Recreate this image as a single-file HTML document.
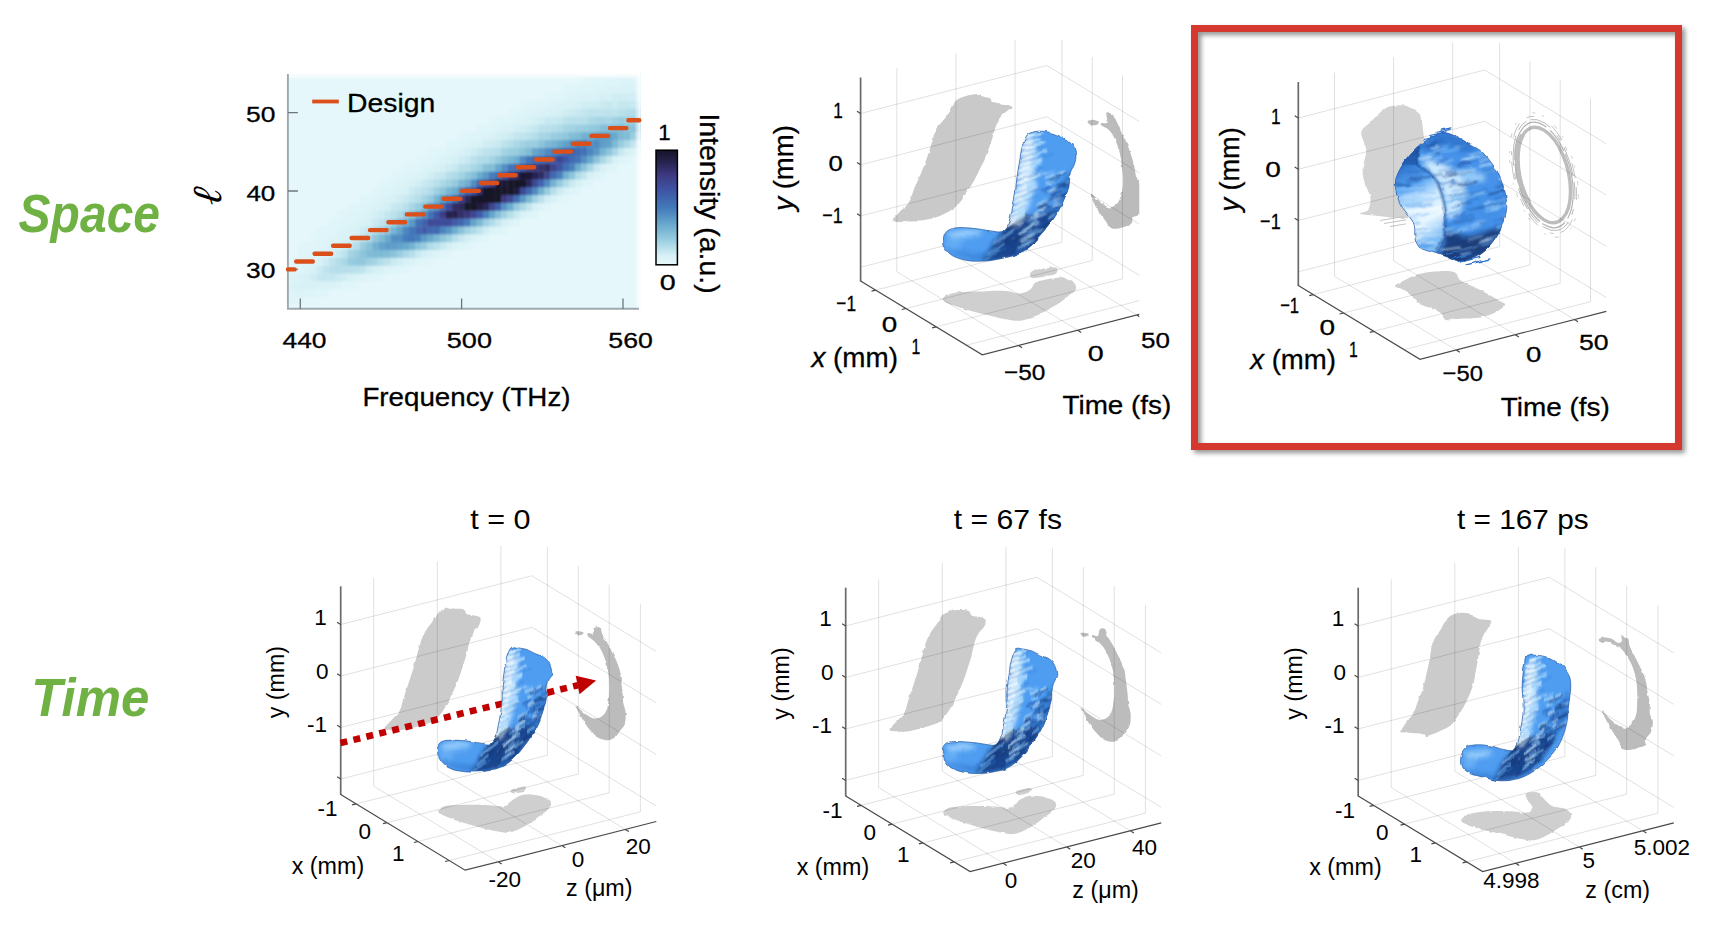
<!DOCTYPE html>
<html lang="en"><head><meta charset="utf-8"><title>Space-time wave packets</title>
<style>
html,body{margin:0;padding:0;background:#fff;}
svg{display:block;font-family:'Liberation Sans', sans-serif;}
</style></head>
<body>
<svg width="1720" height="940" viewBox="0 0 1720 940">
<defs>
<filter id="fsh" x="-5%" y="-5%" width="110%" height="110%"><feGaussianBlur in="SourceAlpha" stdDeviation="2.8"/><feOffset dx="3.4" dy="3.4"/><feComponentTransfer><feFuncA type="linear" slope="0.43"/></feComponentTransfer><feMerge><feMergeNode/><feMergeNode in="SourceGraphic"/></feMerge></filter>
<clipPath id="hclip"><rect x="287.6" y="73.0" width="352.9" height="236.0"/></clipPath>
<filter id="hblur" x="-2%" y="-2%" width="104%" height="104%"><feGaussianBlur stdDeviation="1.1"/></filter>
<linearGradient id="htop" x1="0" y1="0" x2="0" y2="1"><stop offset="0" stop-color="#fff" stop-opacity="1"/><stop offset="1" stop-color="#fff" stop-opacity="0"/></linearGradient>
<linearGradient id="hright" x1="0" y1="0" x2="1" y2="0"><stop offset="0" stop-color="#fff" stop-opacity="0"/><stop offset="1" stop-color="#fff" stop-opacity="0.9"/></linearGradient>
<linearGradient id="cbar" x1="0" y1="1" x2="0" y2="0"><stop offset="0.00" stop-color="rgb(230,248,251)"/><stop offset="0.08" stop-color="rgb(215,241,246)"/><stop offset="0.20" stop-color="rgb(160,210,226)"/><stop offset="0.35" stop-color="rgb(105,170,205)"/><stop offset="0.50" stop-color="rgb(66,120,186)"/><stop offset="0.65" stop-color="rgb(62,85,165)"/><stop offset="0.78" stop-color="rgb(62,58,130)"/><stop offset="0.90" stop-color="rgb(38,34,78)"/><stop offset="1.00" stop-color="rgb(20,18,40)"/></linearGradient>
<clipPath id="clip2"><rect x="780" y="40" width="359.3" height="340"/></clipPath>
<filter id="b1" x="-20%" y="-20%" width="140%" height="140%"><feGaussianBlur stdDeviation="1.1"/></filter>
<filter id="b2" x="-30%" y="-30%" width="160%" height="160%"><feGaussianBlur stdDeviation="2.6"/></filter>
<filter id="b05" x="-20%" y="-20%" width="140%" height="140%"><feGaussianBlur stdDeviation="0.85"/></filter>
<filter id="rough" x="-5%" y="-5%" width="110%" height="110%"><feTurbulence type="fractalNoise" baseFrequency="0.1" numOctaves="2" seed="4" result="n"/><feDisplacementMap in="SourceGraphic" in2="n" scale="3.4" xChannelSelector="R" yChannelSelector="G"/></filter>
<filter id="rough2" x="-5%" y="-5%" width="110%" height="110%"><feTurbulence type="fractalNoise" baseFrequency="0.16" numOctaves="2" seed="9" result="n"/><feDisplacementMap in="SourceGraphic" in2="n" scale="2.6" xChannelSelector="R" yChannelSelector="G"/></filter>
<g id="jf"><g filter="url(#b2)"><path d="M1002.6,232.4C1006.3,227.4 1008.0,220.1 1012.9,217.3C1017.9,214.5 1024.6,217.0 1032.1,215.7C1039.5,214.4 1053.6,208.8 1057.6,209.3C1061.6,209.8 1057.9,215.2 1056.0,218.9C1054.1,222.6 1050.4,226.9 1046.4,231.6C1042.4,236.4 1037.7,243.3 1032.1,247.6C1026.5,251.8 1019.3,254.9 1012.9,257.2C1006.6,259.4 998.8,260.4 993.8,261.1C988.7,261.9 983.2,264.2 982.6,261.9C982.1,259.7 987.3,252.5 990.6,247.6C993.9,242.7 998.8,237.5 1002.6,232.4Z" fill="#173f88" opacity="0.95"/><path d="M1070.4,172.6C1071.9,170.5 1073.3,164.9 1073.5,167.8C1073.8,170.8 1073.3,183.8 1071.9,190.2C1070.6,196.6 1068.0,201.9 1065.6,206.1C1063.2,210.4 1059.7,215.2 1057.6,215.7C1055.5,216.2 1052.5,212.8 1052.8,209.3C1053.1,205.9 1057.3,199.7 1059.2,195.0C1061.0,190.2 1062.1,184.3 1064.0,180.6C1065.8,176.9 1068.8,174.8 1070.4,172.6Z" fill="#2c6fc4" opacity="0.75"/><path d="M945.9,249.2C945.9,249.7 955.8,254.0 961.9,255.6C968.0,257.2 976.8,260.1 982.6,258.8C988.5,257.4 997.0,248.4 997.0,247.6C997.0,246.8 988.5,253.2 982.6,254.0C976.8,254.8 968.0,253.2 961.9,252.4C955.8,251.6 945.9,248.7 945.9,249.2Z" fill="#2f78d0" opacity="0.8"/><ellipse cx="964.3" cy="233.6" rx="18" ry="3.8" fill="#9ad0fc" opacity="0.95" transform="rotate(-3 964.3 233.6)"/><ellipse cx="953.9" cy="242.8" rx="8" ry="6" fill="#6cb2f5" opacity="0.8"/><path d="M1025.7,139.1C1027.6,136.2 1031.8,135.4 1033.7,137.5C1035.5,139.7 1036.6,146.8 1036.9,151.9C1037.1,156.9 1035.5,162.5 1035.3,167.8C1035.0,173.2 1035.8,179.0 1035.3,183.8C1034.7,188.6 1033.4,192.3 1032.1,196.6C1030.7,200.8 1029.4,204.8 1027.3,209.3C1025.2,213.8 1021.7,221.3 1019.3,223.7C1016.9,226.1 1013.5,226.6 1012.9,223.7C1012.4,220.7 1015.2,212.0 1016.1,206.1C1017.1,200.3 1017.9,194.2 1018.5,188.6C1019.2,183.0 1019.4,178.2 1020.1,172.6C1020.8,167.0 1021.6,160.7 1022.5,155.1C1023.4,149.5 1023.8,142.1 1025.7,139.1Z" fill="#c9e9ff" opacity="0.9"/><path d="M1025.7,142.3C1026.8,140.2 1028.9,140.7 1029.7,143.9C1030.5,147.1 1030.6,155.4 1030.5,161.5C1030.3,167.6 1029.7,175.0 1028.9,180.6C1028.1,186.2 1026.9,190.7 1025.7,195.0C1024.5,199.2 1023.2,203.7 1021.7,206.1C1020.2,208.5 1017.3,212.0 1016.9,209.3C1016.5,206.7 1018.6,196.3 1019.3,190.2C1020.0,184.1 1020.6,178.2 1021.2,172.6C1021.9,167.0 1022.6,161.7 1023.3,156.7C1024.0,151.6 1024.6,144.5 1025.7,142.3Z" fill="#f2fbff" opacity="0.75"/></g><g filter="url(#b05)" stroke-linecap="round" fill="none"><path d="M1026.9,137.0l13.7,-4.4" stroke="#c6ebff" stroke-width="2.6" opacity="0.84"/><path d="M1026.9,137.0l6.2,-2.0" stroke="#f2fbff" stroke-width="2.4" opacity="0.92"/><path d="M1026.1,140.0l16.5,-3.7" stroke="#3a84de" stroke-width="0.9" opacity="0.95"/><path d="M1024.1,142.9l15.3,-3.7" stroke="#b9e3ff" stroke-width="3.0" opacity="0.80"/><path d="M1024.1,142.9l6.9,-1.7" stroke="#f2fbff" stroke-width="2.7" opacity="0.83"/><path d="M1024.0,146.3l11.6,-3.7" stroke="#2c72cc" stroke-width="0.9" opacity="0.94"/><path d="M1022.2,148.7l21.7,-5.8" stroke="#c6ebff" stroke-width="2.5" opacity="0.89"/><path d="M1022.2,148.7l9.8,-2.6" stroke="#f2fbff" stroke-width="2.3" opacity="0.98"/><path d="M1022.7,151.8l19.2,-4.9" stroke="#3a84de" stroke-width="1.0" opacity="0.93"/><path d="M1021.1,155.2l13.0,-5.1" stroke="#c6ebff" stroke-width="2.5" opacity="0.84"/><path d="M1021.1,155.2l5.9,-2.3" stroke="#f2fbff" stroke-width="2.2" opacity="0.93"/><path d="M1021.7,157.8l20.1,-6.7" stroke="#2565bb" stroke-width="1.1" opacity="0.80"/><path d="M1020.2,160.4l25.9,-9.5" stroke="#a9dbff" stroke-width="2.2" opacity="0.95"/><path d="M1020.2,160.4l11.6,-4.3" stroke="#f2fbff" stroke-width="2.0" opacity="0.93"/><path d="M1020.8,162.9l31.9,-9.3" stroke="#3a84de" stroke-width="1.1" opacity="0.88"/><path d="M1019.4,165.5l21.8,-6.6" stroke="#b9e3ff" stroke-width="2.5" opacity="0.85"/><path d="M1019.4,165.5l9.8,-3.0" stroke="#f2fbff" stroke-width="2.3" opacity="0.93"/><path d="M1019.9,168.3l15.5,-6.0" stroke="#2c72cc" stroke-width="0.8" opacity="0.81"/><path d="M1018.5,171.1l22.0,-9.5" stroke="#a9dbff" stroke-width="3.1" opacity="0.89"/><path d="M1018.5,171.1l9.9,-4.3" stroke="#f2fbff" stroke-width="2.8" opacity="0.87"/><path d="M1018.9,174.5l24.6,-7.5" stroke="#2c72cc" stroke-width="1.0" opacity="0.72"/><path d="M1017.4,177.5l15.4,-7.2" stroke="#c6ebff" stroke-width="2.7" opacity="0.80"/><path d="M1017.4,177.5l6.9,-3.2" stroke="#f2fbff" stroke-width="2.4" opacity="0.94"/><path d="M1018.0,181.0l20.9,-8.8" stroke="#2c72cc" stroke-width="1.2" opacity="0.79"/><path d="M1016.8,183.8l22.7,-9.1" stroke="#c6ebff" stroke-width="2.9" opacity="0.77"/><path d="M1016.8,183.8l10.2,-4.1" stroke="#f2fbff" stroke-width="2.6" opacity="0.99"/><path d="M1017.4,187.1l25.0,-11.3" stroke="#3a84de" stroke-width="0.9" opacity="0.78"/><path d="M1016.1,190.6l20.2,-8.5" stroke="#a9dbff" stroke-width="2.2" opacity="0.95"/><path d="M1016.1,190.6l9.1,-3.8" stroke="#f2fbff" stroke-width="2.0" opacity="0.86"/><path d="M1016.8,193.3l15.5,-6.5" stroke="#3a84de" stroke-width="1.1" opacity="0.82"/><path d="M1015.2,196.5l21.0,-9.8" stroke="#b9e3ff" stroke-width="3.1" opacity="0.87"/><path d="M1015.2,196.5l9.5,-4.4" stroke="#f2fbff" stroke-width="2.8" opacity="0.99"/><path d="M1015.7,198.8l22.2,-10.5" stroke="#2565bb" stroke-width="1.1" opacity="0.78"/><path d="M1014.2,201.5l15.1,-7.4" stroke="#a9dbff" stroke-width="2.9" opacity="0.91"/><path d="M1014.2,201.5l6.8,-3.3" stroke="#f2fbff" stroke-width="2.6" opacity="0.82"/><path d="M1014.5,204.8l21.8,-8.5" stroke="#2c72cc" stroke-width="1.0" opacity="0.76"/><path d="M1012.9,208.1l11.2,-5.8" stroke="#c6ebff" stroke-width="2.7" opacity="0.77"/><path d="M1012.9,208.1l5.0,-2.6" stroke="#f2fbff" stroke-width="2.5" opacity="0.92"/><path d="M1013.0,211.5l12.7,-5.8" stroke="#2c72cc" stroke-width="0.8" opacity="0.89"/><path d="M1011.3,214.1l10.9,-5.3" stroke="#b9e3ff" stroke-width="3.1" opacity="0.86"/><path d="M1011.3,214.1l4.9,-2.4" stroke="#f2fbff" stroke-width="2.8" opacity="0.84"/><path d="M1011.4,217.3l11.7,-5.2" stroke="#2565bb" stroke-width="1.0" opacity="0.91"/><path d="M1009.7,219.7l14.2,-7.0" stroke="#c6ebff" stroke-width="2.7" opacity="0.91"/><path d="M1009.7,219.7l6.4,-3.1" stroke="#f2fbff" stroke-width="2.4" opacity="0.85"/><path d="M1009.9,222.4l14.1,-7.5" stroke="#2565bb" stroke-width="0.8" opacity="0.80"/><path d="M1007.6,225.0l16.5,-8.8" stroke="#c6ebff" stroke-width="2.9" opacity="0.84"/><path d="M1007.6,225.0l7.4,-3.9" stroke="#f2fbff" stroke-width="2.7" opacity="0.99"/><path d="M1005.9,228.4l21.0,-12.4" stroke="#0c2856" stroke-width="1.2" opacity="0.94"/><path d="M1001.0,234.8l13.8,-8.7" stroke="#0f2f66" stroke-width="1.3" opacity="0.87"/><path d="M996.8,240.5l13.4,-7.1" stroke="#143a7c" stroke-width="0.9" opacity="0.70"/><path d="M994.1,243.5l19.5,-13.2" stroke="#8cc8fa" stroke-width="1.4" opacity="0.97"/><path d="M993.5,246.4l15.8,-8.6" stroke="#0f2f66" stroke-width="0.9" opacity="0.92"/><path d="M990.8,251.3l17.8,-9.5" stroke="#0c2856" stroke-width="1.2" opacity="0.71"/><path d="M988.4,253.9l15.1,-10.1" stroke="#6fb4f3" stroke-width="1.5" opacity="0.96"/><path d="M987.6,257.2l11.3,-6.6" stroke="#0f2f66" stroke-width="0.8" opacity="0.94"/><path d="M984.8,260.5l14.4,-10.5" stroke="#6fb4f3" stroke-width="1.3" opacity="0.88"/><path d="M1030.6,229.8l8.8,-5.0" stroke="#1c4c98" stroke-width="0.9" opacity="0.71"/><path d="M1033.7,234.7l9.0,-5.6" stroke="#7fc0f8" stroke-width="1.4" opacity="0.91"/><path d="M1058.1,174.1l5.3,-2.4" stroke="#bfe6ff" stroke-width="1.9" opacity="0.80"/><path d="M1051.3,196.2l5.1,-2.5" stroke="#173f85" stroke-width="2.0" opacity="0.63"/><path d="M1056.3,206.2l7.3,-3.7" stroke="#1c4c98" stroke-width="1.3" opacity="0.71"/><path d="M1010.7,255.5l11.0,-6.5" stroke="#12336e" stroke-width="1.4" opacity="0.65"/><path d="M1032.5,234.3l8.8,-4.2" stroke="#9fd4fb" stroke-width="1.8" opacity="0.74"/><path d="M1013.6,244.0l7.7,-5.7" stroke="#173f85" stroke-width="1.2" opacity="0.73"/><path d="M1058.4,176.4l6.5,-2.8" stroke="#173f85" stroke-width="1.9" opacity="0.66"/><path d="M1027.2,237.1l4.6,-3.4" stroke="#7fc0f8" stroke-width="1.8" opacity="0.84"/><path d="M1054.6,201.0l6.6,-3.9" stroke="#d8f2ff" stroke-width="1.3" opacity="0.82"/><path d="M999.9,251.6l5.0,-2.8" stroke="#2560b4" stroke-width="1.9" opacity="0.83"/><path d="M1013.4,239.4l9.3,-4.6" stroke="#d8f2ff" stroke-width="1.5" opacity="0.85"/><path d="M1047.2,208.7l5.7,-3.1" stroke="#1c4c98" stroke-width="1.4" opacity="0.63"/><path d="M1040.7,206.1l6.2,-3.6" stroke="#d8f2ff" stroke-width="1.0" opacity="0.85"/><path d="M1011.8,240.7l6.4,-4.3" stroke="#1c4c98" stroke-width="1.3" opacity="0.71"/><path d="M1064.5,180.3l5.3,-2.3" stroke="#1c4c98" stroke-width="1.0" opacity="0.66"/><path d="M1012.0,241.9l9.0,-7.0" stroke="#12336e" stroke-width="1.9" opacity="0.69"/><path d="M1033.8,218.7l11.0,-5.2" stroke="#9fd4fb" stroke-width="1.6" opacity="0.92"/><path d="M1048.3,215.3l7.7,-3.9" stroke="#1c4c98" stroke-width="1.1" opacity="0.84"/><path d="M1047.9,184.0l5.3,-2.1" stroke="#9fd4fb" stroke-width="1.9" opacity="0.85"/><path d="M1020.3,233.8l9.5,-6.8" stroke="#bfe6ff" stroke-width="1.8" opacity="0.92"/><path d="M1020.2,244.2l10.5,-5.5" stroke="#12336e" stroke-width="1.4" opacity="0.69"/><path d="M1059.2,207.6l9.9,-3.9" stroke="#1c4c98" stroke-width="1.3" opacity="0.76"/><path d="M1027.1,229.7l7.4,-4.7" stroke="#173f85" stroke-width="1.7" opacity="0.74"/><path d="M1041.4,216.3l5.5,-2.7" stroke="#173f85" stroke-width="1.6" opacity="0.62"/><path d="M1025.9,234.7l6.6,-4.9" stroke="#9fd4fb" stroke-width="1.3" opacity="0.77"/><path d="M1061.1,196.8l11.9,-3.9" stroke="#12336e" stroke-width="1.8" opacity="0.67"/><path d="M1013.4,244.9l6.6,-4.0" stroke="#1c4c98" stroke-width="1.0" opacity="0.78"/><path d="M1032.0,243.9l11.1,-5.8" stroke="#12336e" stroke-width="0.9" opacity="0.63"/><path d="M1015.8,248.2l6.4,-5.0" stroke="#12336e" stroke-width="1.3" opacity="0.65"/><path d="M1052.5,205.6l5.6,-2.7" stroke="#d8f2ff" stroke-width="1.7" opacity="0.73"/><path d="M1060.5,175.2l5.1,-1.7" stroke="#2560b4" stroke-width="1.4" opacity="0.90"/><path d="M1029.6,245.6l8.5,-6.2" stroke="#173f85" stroke-width="2.0" opacity="0.78"/><path d="M1039.5,208.6l9.1,-3.8" stroke="#173f85" stroke-width="1.8" opacity="0.74"/><path d="M1044.8,173.8l9.4,-2.7" stroke="#7fc0f8" stroke-width="1.8" opacity="0.73"/><path d="M1043.1,211.0l10.0,-6.0" stroke="#173f85" stroke-width="1.6" opacity="0.64"/><path d="M1046.6,201.4l9.7,-5.3" stroke="#2560b4" stroke-width="1.9" opacity="0.73"/><path d="M1047.1,225.7l6.6,-4.2" stroke="#12336e" stroke-width="2.0" opacity="0.73"/><path d="M1056.0,189.0l10.8,-5.2" stroke="#12336e" stroke-width="1.7" opacity="0.71"/><path d="M1041.7,173.2l5.0,-1.2" stroke="#9fd4fb" stroke-width="1.9" opacity="0.79"/><path d="M1035.7,228.8l8.9,-6.3" stroke="#2560b4" stroke-width="1.2" opacity="0.74"/><path d="M1061.3,196.2l10.4,-4.9" stroke="#12336e" stroke-width="1.6" opacity="0.69"/><path d="M1030.8,218.4l7.0,-3.6" stroke="#d8f2ff" stroke-width="1.8" opacity="0.81"/><path d="M1021.6,246.4l10.8,-6.2" stroke="#9fd4fb" stroke-width="1.5" opacity="0.86"/><path d="M1027.8,227.7l10.9,-5.7" stroke="#9fd4fb" stroke-width="1.8" opacity="0.92"/><path d="M1056.1,201.0l4.5,-2.5" stroke="#1c4c98" stroke-width="0.9" opacity="0.87"/><path d="M1038.1,207.5l7.7,-4.0" stroke="#173f85" stroke-width="1.8" opacity="0.77"/><path d="M1030.4,223.9l6.4,-3.9" stroke="#9fd4fb" stroke-width="1.6" opacity="0.78"/><path d="M1046.6,187.9l6.2,-1.9" stroke="#2560b4" stroke-width="1.3" opacity="0.61"/><path d="M1051.4,180.6l5.7,-2.0" stroke="#2560b4" stroke-width="1.8" opacity="0.89"/><path d="M1050.9,209.7l8.1,-3.0" stroke="#173f85" stroke-width="1.2" opacity="0.67"/><path d="M1046.9,183.1l9.9,-5.0" stroke="#9fd4fb" stroke-width="1.1" opacity="0.96"/><path d="M1037.1,205.2l7.0,-4.1" stroke="#9fd4fb" stroke-width="2.0" opacity="0.73"/><path d="M1031.6,238.0l10.1,-6.1" stroke="#2560b4" stroke-width="1.4" opacity="0.73"/><path d="M1063.9,185.4l6.0,-2.8" stroke="#12336e" stroke-width="1.0" opacity="0.78"/><path d="M1025.5,222.3l9.1,-5.3" stroke="#12336e" stroke-width="1.2" opacity="0.70"/><path d="M1042.0,190.1l8.7,-3.7" stroke="#2560b4" stroke-width="1.6" opacity="0.86"/><path d="M1063.5,196.4l6.8,-2.2" stroke="#2560b4" stroke-width="1.0" opacity="0.82"/><path d="M1019.4,242.6l8.0,-5.9" stroke="#1c4c98" stroke-width="1.5" opacity="0.62"/><path d="M1027.4,248.0l4.7,-2.7" stroke="#1c4c98" stroke-width="1.8" opacity="0.71"/><path d="M1022.8,230.0l8.7,-4.2" stroke="#7fc0f8" stroke-width="1.1" opacity="0.72"/><path d="M1054.5,198.9l7.2,-3.3" stroke="#173f85" stroke-width="1.7" opacity="0.73"/><path d="M1050.1,181.1l7.7,-2.3" stroke="#2560b4" stroke-width="1.4" opacity="0.77"/><path d="M1060.0,205.2l11.6,-5.6" stroke="#9fd4fb" stroke-width="1.4" opacity="0.85"/><path d="M1028.0,227.8l7.5,-3.9" stroke="#1c4c98" stroke-width="1.0" opacity="0.62"/><path d="M1018.3,248.2l10.0,-7.2" stroke="#7fc0f8" stroke-width="1.6" opacity="0.89"/><path d="M1063.0,186.6l11.0,-3.6" stroke="#2560b4" stroke-width="1.9" opacity="0.89"/><path d="M1048.2,218.6l6.3,-3.9" stroke="#7fc0f8" stroke-width="1.9" opacity="0.89"/><path d="M1021.2,240.7l10.6,-5.4" stroke="#bfe6ff" stroke-width="1.7" opacity="0.92"/><path d="M1017.8,239.4l5.8,-3.9" stroke="#1c4c98" stroke-width="1.9" opacity="0.67"/><path d="M1054.4,189.1l5.8,-2.7" stroke="#173f85" stroke-width="1.1" opacity="0.66"/><path d="M1042.6,227.8l4.7,-2.8" stroke="#12336e" stroke-width="1.8" opacity="0.61"/><path d="M1066.1,183.3l7.1,-3.1" stroke="#9fd4fb" stroke-width="1.1" opacity="0.96"/><path d="M1016.6,252.1l8.1,-4.6" stroke="#2560b4" stroke-width="2.0" opacity="0.88"/><path d="M1027.2,221.4l7.6,-3.6" stroke="#7fc0f8" stroke-width="1.3" opacity="0.91"/><path d="M1039.5,205.5l8.2,-4.7" stroke="#173f85" stroke-width="1.3" opacity="0.76"/><path d="M1038.6,203.6l9.1,-3.8" stroke="#9fd4fb" stroke-width="1.7" opacity="0.74"/><path d="M1032.2,232.9l5.9,-3.9" stroke="#7fc0f8" stroke-width="1.1" opacity="0.83"/><path d="M1069.5,179.1l10.5,-3.4" stroke="#1c4c98" stroke-width="1.1" opacity="0.70"/><path d="M1057.1,185.2l6.7,-2.4" stroke="#12336e" stroke-width="1.5" opacity="0.82"/><path d="M1034.4,233.2l9.7,-6.0" stroke="#12336e" stroke-width="1.2" opacity="0.65"/><path d="M1046.7,193.6l8.8,-3.5" stroke="#1c4c98" stroke-width="2.0" opacity="0.65"/><path d="M1032.6,237.9l7.6,-5.5" stroke="#173f85" stroke-width="1.6" opacity="0.68"/><path d="M1049.9,178.8l9.5,-3.1" stroke="#12336e" stroke-width="1.5" opacity="0.68"/><path d="M1060.6,205.7l7.9,-3.2" stroke="#173f85" stroke-width="1.6" opacity="0.73"/><path d="M1048.6,192.4l7.3,-3.9" stroke="#d8f2ff" stroke-width="1.5" opacity="0.87"/><path d="M1013.4,240.1l8.9,-5.3" stroke="#12336e" stroke-width="1.7" opacity="0.79"/><path d="M1060.4,186.4l8.5,-3.5" stroke="#173f85" stroke-width="1.2" opacity="0.73"/><path d="M1034.0,214.1l10.7,-6.2" stroke="#d8f2ff" stroke-width="1.4" opacity="0.89"/><path d="M1025.7,229.8l8.6,-5.9" stroke="#d8f2ff" stroke-width="1.2" opacity="0.86"/><path d="M1045.5,177.6l8.6,-2.8" stroke="#bfe6ff" stroke-width="2.0" opacity="0.81"/><path d="M1048.7,200.6l7.9,-3.1" stroke="#2560b4" stroke-width="1.3" opacity="0.69"/><path d="M1054.9,193.7l6.5,-2.8" stroke="#12336e" stroke-width="1.3" opacity="0.89"/><path d="M1043.8,192.2l5.2,-2.6" stroke="#2560b4" stroke-width="1.1" opacity="0.73"/></g></g>
<clipPath id="bc2"><path d="M1028.9,133.6C1031.1,132.2 1034.7,131.3 1038.5,131.2C1042.2,131.0 1047.0,131.6 1051.2,132.8C1055.5,134.0 1060.4,136.2 1064.0,138.3C1067.6,140.5 1070.7,142.7 1072.7,145.5C1074.7,148.3 1075.7,151.9 1075.9,155.1C1076.2,158.3 1075.3,161.7 1074.3,164.7C1073.4,167.6 1071.3,168.9 1070.4,172.6C1069.4,176.4 1069.8,182.5 1068.8,187.0C1067.7,191.5 1065.8,195.5 1064.0,199.7C1062.1,204.0 1060.2,208.0 1057.6,212.5C1054.9,217.0 1051.2,222.6 1048.0,226.9C1044.8,231.1 1041.6,234.6 1038.5,238.0C1035.3,241.5 1032.6,244.8 1028.9,247.6C1025.2,250.4 1020.9,252.9 1016.1,254.8C1011.3,256.6 1005.5,257.7 1000.2,258.8C994.9,259.8 989.8,260.9 984.2,261.1C978.6,261.4 972.0,261.3 966.7,260.4C961.4,259.4 955.9,257.7 952.3,255.6C948.7,253.4 946.6,250.5 945.2,247.6C943.7,244.7 943.2,240.8 943.6,238.0C944.0,235.2 945.3,232.6 947.5,230.8C949.8,229.1 952.6,228.1 957.1,227.7C961.6,227.3 969.1,227.9 974.7,228.5C980.2,229.0 986.1,230.3 990.6,230.8C995.1,231.4 998.8,232.8 1001.8,231.6C1004.7,230.4 1006.4,227.4 1008.1,223.7C1009.9,219.9 1010.9,214.4 1012.1,209.3C1013.3,204.3 1014.5,198.7 1015.3,193.4C1016.1,188.0 1016.3,182.5 1016.9,177.4C1017.6,172.4 1018.5,167.8 1019.3,163.1C1020.1,158.3 1020.8,152.7 1021.7,148.7C1022.6,144.7 1023.7,141.7 1024.9,139.1C1026.1,136.6 1026.6,134.9 1028.9,133.6Z"/></clipPath>
<clipPath id="bc3"><path d="M1443.8,132.8C1447.8,132.6 1450.8,134.2 1455.0,136.0C1459.2,137.8 1464.8,141.2 1469.3,143.9C1473.8,146.6 1478.4,148.7 1482.1,151.9C1485.8,155.1 1488.8,159.1 1491.7,163.1C1494.6,167.1 1497.6,171.3 1499.7,175.8C1501.8,180.3 1503.2,185.4 1504.4,190.2C1505.6,195.0 1506.7,200.1 1506.8,204.6C1506.9,209.1 1506.1,213.3 1505.2,217.3C1504.3,221.3 1503.0,224.8 1501.3,228.5C1499.6,232.2 1497.3,236.2 1494.9,239.7C1492.5,243.1 1490.1,246.3 1486.9,249.2C1483.7,252.1 1480.2,255.1 1475.7,257.2C1471.2,259.3 1464.6,262.0 1459.8,262.0C1455.0,262.0 1451.5,258.8 1447.0,257.2C1442.5,255.6 1437.1,254.0 1432.6,252.4C1428.1,250.8 1422.8,250.0 1419.9,247.6C1417.0,245.2 1416.0,241.8 1415.1,238.1C1414.2,234.4 1415.4,229.0 1414.3,225.3C1413.2,221.6 1411.0,219.1 1408.7,215.7C1406.4,212.2 1402.8,208.6 1400.7,204.6C1398.6,200.6 1396.8,196.1 1396.0,191.8C1395.2,187.5 1395.2,183.0 1396.0,179.0C1396.8,175.0 1398.6,171.6 1400.7,167.9C1402.8,164.2 1405.5,160.4 1408.7,156.7C1411.9,153.0 1416.2,148.7 1419.9,145.5C1423.6,142.3 1427.1,139.6 1431.1,137.5C1435.1,135.4 1439.8,133.1 1443.8,132.8Z"/></clipPath>
<linearGradient id="inner3" x1="0" y1="0" x2="0.25" y2="1"><stop offset="0" stop-color="#153f86"/><stop offset="0.22" stop-color="#2a6fc8"/><stop offset="0.42" stop-color="#5aa6f2"/><stop offset="0.6" stop-color="#cfeaff"/><stop offset="0.8" stop-color="#e9f7ff"/><stop offset="1" stop-color="#7fbdf6"/></linearGradient>
<clipPath id="bc3i"><path d="M1419.5,146.0C1421.3,145.9 1417.7,152.9 1417.5,156.0C1417.3,159.1 1416.6,162.2 1418.3,164.7C1420.0,167.2 1425.0,168.4 1427.9,171.1C1430.8,173.8 1433.7,177.1 1435.8,180.6C1437.9,184.1 1439.3,188.1 1440.6,191.8C1441.9,195.5 1443.0,199.0 1443.8,203.0C1444.6,207.0 1445.3,211.4 1445.4,215.7C1445.5,219.9 1445.0,224.7 1444.6,228.5C1444.2,232.3 1444.4,234.6 1443.0,238.5C1441.6,242.4 1439.8,250.2 1436.0,252.0C1432.2,253.8 1423.7,251.9 1419.9,249.6C1416.1,247.3 1414.4,242.1 1413.1,238.1C1411.8,234.1 1413.4,229.0 1412.3,225.3C1411.2,221.6 1409.0,219.1 1406.7,215.7C1404.4,212.2 1400.8,208.6 1398.7,204.6C1396.6,200.6 1394.8,196.1 1394.0,191.8C1393.2,187.5 1393.2,183.0 1394.0,179.0C1394.8,175.0 1396.6,171.6 1398.7,167.9C1400.8,164.2 1403.2,160.3 1406.7,156.7C1410.2,153.0 1417.7,146.1 1419.5,146.0Z"/></clipPath>
<clipPath id="bc4"><path d="M511.7,647.2C513.6,646.1 516.4,647.6 518.9,648.0C521.4,648.4 524.2,648.6 526.9,649.5C529.5,650.5 532.2,652.3 534.8,653.5C537.5,654.7 540.7,655.5 542.8,656.7C544.9,657.9 546.3,659.0 547.6,660.7C548.9,662.4 550.1,664.8 550.8,667.1C551.4,669.4 552.0,671.9 551.6,674.3C551.2,676.7 549.2,678.9 548.4,681.4C547.6,684.0 547.2,686.2 546.8,689.4C546.4,692.6 546.7,696.9 546.0,700.6C545.3,704.3 544.1,707.8 542.8,711.7C541.5,715.7 539.9,720.5 538.0,724.5C536.2,728.5 534.0,732.0 531.6,735.7C529.3,739.4 526.3,743.4 523.7,746.8C521.0,750.3 518.6,753.5 515.7,756.4C512.8,759.3 509.6,762.3 506.1,764.4C502.7,766.5 498.9,768.0 495.0,769.2C491.0,770.4 486.7,771.1 482.2,771.6C477.7,772.0 472.4,772.3 467.8,772.0C463.3,771.8 458.8,771.0 455.1,770.0C451.4,769.0 448.0,767.7 445.5,766.0C443.0,764.2 441.3,762.0 439.9,759.6C438.6,757.2 437.8,754.0 437.5,751.6C437.3,749.2 437.5,747.0 438.3,745.2C439.1,743.5 440.1,742.1 442.3,741.3C444.6,740.4 448.2,740.2 451.9,740.1C455.6,740.1 460.4,740.4 464.7,740.8C468.9,741.1 473.2,741.9 477.4,742.4C481.7,742.9 487.1,744.8 490.2,743.6C493.2,742.5 494.4,738.6 495.8,735.7C497.1,732.7 497.4,729.8 498.1,726.1C498.9,722.4 499.9,717.6 500.5,713.3C501.2,709.1 501.9,704.8 502.1,700.6C502.4,696.3 501.9,692.1 502.1,687.8C502.4,683.6 503.2,679.1 503.7,675.1C504.3,671.1 504.7,667.4 505.3,663.9C506.0,660.4 506.7,657.1 507.7,654.3C508.8,651.5 509.8,648.2 511.7,647.2Z"/></clipPath>
<clipPath id="bc5"><path d="M1016.7,648.6C1018.6,647.5 1021.4,649.0 1023.9,649.4C1026.4,649.8 1029.2,650.0 1031.9,650.9C1034.5,651.9 1037.2,653.7 1039.8,654.9C1042.5,656.1 1045.7,656.9 1047.8,658.1C1049.9,659.3 1051.3,660.4 1052.6,662.1C1053.9,663.8 1055.1,666.2 1055.8,668.5C1056.4,670.8 1057.0,673.3 1056.6,675.7C1056.2,678.1 1054.2,680.3 1053.4,682.8C1052.6,685.4 1052.2,687.6 1051.8,690.8C1051.4,694.0 1051.7,698.3 1051.0,702.0C1050.3,705.7 1049.1,709.2 1047.8,713.1C1046.5,717.1 1044.9,721.9 1043.0,725.9C1041.2,729.9 1039.0,733.4 1036.6,737.1C1034.3,740.8 1031.3,744.8 1028.7,748.2C1026.0,751.7 1023.6,754.9 1020.7,757.8C1017.8,760.7 1014.6,763.7 1011.1,765.8C1007.7,767.9 1003.9,769.4 1000.0,770.6C996.0,771.8 991.7,772.5 987.2,773.0C982.7,773.4 977.4,773.7 972.8,773.4C968.3,773.2 963.8,772.4 960.1,771.4C956.4,770.4 953.0,769.1 950.5,767.4C948.0,765.6 946.3,763.4 944.9,761.0C943.6,758.6 942.8,755.4 942.5,753.0C942.3,750.6 942.5,748.4 943.3,746.6C944.1,744.9 945.1,743.5 947.3,742.7C949.6,741.8 953.2,741.6 956.9,741.5C960.6,741.5 965.4,741.8 969.7,742.2C973.9,742.5 978.2,743.3 982.4,743.8C986.7,744.3 992.1,746.2 995.2,745.0C998.2,743.9 999.4,740.0 1000.8,737.1C1002.1,734.1 1002.4,731.2 1003.1,727.5C1003.9,723.8 1004.9,719.0 1005.5,714.7C1006.2,710.5 1006.9,706.2 1007.1,702.0C1007.4,697.7 1006.9,693.5 1007.1,689.2C1007.4,685.0 1008.2,680.5 1008.7,676.5C1009.3,672.5 1009.7,668.8 1010.3,665.3C1011.0,661.8 1011.7,658.5 1012.7,655.7C1013.8,652.9 1014.8,649.6 1016.7,648.6Z"/></clipPath>
<clipPath id="bc6"><path d="M1526.1,656.7C1528.0,655.3 1532.2,655.0 1535.7,655.2C1539.1,655.3 1543.4,656.3 1546.9,657.5C1550.3,658.7 1553.5,660.6 1556.4,662.3C1559.4,664.1 1562.3,665.8 1564.4,667.9C1566.5,670.0 1568.1,672.3 1569.2,675.1C1570.2,677.9 1570.6,681.2 1570.8,684.7C1570.9,688.1 1570.4,692.1 1570.0,695.8C1569.6,699.5 1568.8,703.3 1568.4,707.0C1568.0,710.7 1568.1,714.4 1567.6,718.1C1567.1,721.9 1566.3,725.6 1565.2,729.3C1564.1,733.0 1562.9,736.8 1561.2,740.5C1559.5,744.2 1557.2,748.3 1554.8,751.6C1552.4,755.0 1549.5,757.8 1546.9,760.4C1544.2,763.1 1541.8,765.3 1538.9,767.6C1536.0,769.9 1532.8,772.1 1529.3,774.0C1525.9,775.8 1521.9,777.6 1518.1,778.8C1514.4,779.9 1510.7,780.4 1507.0,780.7C1503.3,780.9 1499.8,780.9 1495.8,780.4C1491.8,779.8 1487.0,778.2 1483.1,777.2C1479.1,776.1 1475.1,775.3 1471.9,774.0C1468.7,772.6 1465.8,771.0 1463.9,769.2C1462.1,767.3 1461.1,765.2 1460.7,762.8C1460.3,760.4 1460.7,757.2 1461.5,754.8C1462.3,752.4 1463.8,750.0 1465.5,748.5C1467.2,746.9 1469.0,745.8 1471.9,745.3C1474.8,744.7 1479.3,744.7 1483.1,744.9C1486.8,745.2 1490.5,746.0 1494.2,746.9C1497.9,747.7 1502.1,749.5 1505.4,750.0C1508.7,750.6 1512.0,751.4 1514.2,750.0C1516.3,748.7 1517.1,745.5 1518.1,742.1C1519.2,738.6 1519.7,733.8 1520.5,729.3C1521.3,724.8 1522.5,719.7 1522.9,715.0C1523.3,710.2 1523.1,705.1 1522.9,700.6C1522.8,696.1 1522.1,692.1 1522.1,687.8C1522.1,683.6 1522.5,679.1 1522.9,675.1C1523.3,671.1 1524.0,667.0 1524.5,663.9C1525.1,660.9 1524.3,658.2 1526.1,656.7Z"/></clipPath>
</defs>
<rect width="1720" height="940" fill="#fff"/>
<text x="18.61" y="232.00" font-size="53" textLength="141.42" lengthAdjust="spacingAndGlyphs" fill="#6fb243" font-weight="bold" font-style="italic" >Space</text>
<text x="31.32" y="716.00" font-size="53" textLength="117.99" lengthAdjust="spacingAndGlyphs" fill="#6fb243" font-weight="bold" font-style="italic" >Time</text>
<rect x="1194.5" y="28.5" width="484" height="418" fill="none" stroke="#d5382f" stroke-width="7" filter="url(#fsh)"/>
<g clip-path="url(#hclip)">
<rect x="287.6" y="73.0" width="352.9" height="236.0" fill="rgb(229,247,251)"/>
<g filter="url(#hblur)">
<rect x="286.00" y="296.87" width="6.45" height="8.15" fill="rgb(224,245,249)"/><rect x="286.00" y="289.02" width="6.45" height="8.15" fill="rgb(221,244,248)"/><rect x="286.00" y="281.17" width="6.45" height="8.15" fill="rgb(220,243,248)"/><rect x="286.00" y="273.32" width="6.45" height="8.15" fill="rgb(223,245,249)"/><rect x="286.00" y="265.47" width="6.45" height="8.15" fill="rgb(225,246,249)"/><rect x="292.15" y="296.87" width="6.45" height="8.15" fill="rgb(225,245,249)"/><rect x="292.15" y="289.02" width="6.45" height="8.15" fill="rgb(220,243,248)"/><rect x="292.15" y="281.17" width="6.45" height="8.15" fill="rgb(217,242,247)"/><rect x="292.15" y="273.32" width="6.45" height="8.15" fill="rgb(220,243,248)"/><rect x="292.15" y="265.47" width="6.45" height="8.15" fill="rgb(223,245,249)"/><rect x="292.15" y="257.62" width="6.45" height="8.15" fill="rgb(224,245,249)"/><rect x="298.30" y="296.87" width="6.45" height="8.15" fill="rgb(225,246,249)"/><rect x="298.30" y="289.02" width="6.45" height="8.15" fill="rgb(219,243,247)"/><rect x="298.30" y="281.17" width="6.45" height="8.15" fill="rgb(216,241,246)"/><rect x="298.30" y="273.32" width="6.45" height="8.15" fill="rgb(217,242,247)"/><rect x="298.30" y="265.47" width="6.45" height="8.15" fill="rgb(222,244,248)"/><rect x="298.30" y="257.62" width="6.45" height="8.15" fill="rgb(223,245,249)"/><rect x="298.30" y="249.77" width="6.45" height="8.15" fill="rgb(224,245,249)"/><rect x="298.30" y="241.92" width="6.45" height="8.15" fill="rgb(225,246,249)"/><rect x="304.45" y="289.02" width="6.45" height="8.15" fill="rgb(221,244,248)"/><rect x="304.45" y="281.17" width="6.45" height="8.15" fill="rgb(216,241,246)"/><rect x="304.45" y="273.32" width="6.45" height="8.15" fill="rgb(214,240,246)"/><rect x="304.45" y="265.47" width="6.45" height="8.15" fill="rgb(219,243,247)"/><rect x="304.45" y="257.62" width="6.45" height="8.15" fill="rgb(222,244,248)"/><rect x="304.45" y="249.77" width="6.45" height="8.15" fill="rgb(223,245,249)"/><rect x="304.45" y="241.92" width="6.45" height="8.15" fill="rgb(225,245,249)"/><rect x="310.60" y="289.02" width="6.45" height="8.15" fill="rgb(222,244,248)"/><rect x="310.60" y="281.17" width="6.45" height="8.15" fill="rgb(216,241,246)"/><rect x="310.60" y="273.32" width="6.45" height="8.15" fill="rgb(206,236,243)"/><rect x="310.60" y="265.47" width="6.45" height="8.15" fill="rgb(216,241,246)"/><rect x="310.60" y="257.62" width="6.45" height="8.15" fill="rgb(219,243,247)"/><rect x="310.60" y="249.77" width="6.45" height="8.15" fill="rgb(222,244,248)"/><rect x="310.60" y="241.92" width="6.45" height="8.15" fill="rgb(224,245,249)"/><rect x="310.60" y="234.07" width="6.45" height="8.15" fill="rgb(225,246,249)"/><rect x="316.75" y="289.02" width="6.45" height="8.15" fill="rgb(223,245,249)"/><rect x="316.75" y="281.17" width="6.45" height="8.15" fill="rgb(216,242,246)"/><rect x="316.75" y="273.32" width="6.45" height="8.15" fill="rgb(198,232,240)"/><rect x="316.75" y="265.47" width="6.45" height="8.15" fill="rgb(203,234,242)"/><rect x="316.75" y="257.62" width="6.45" height="8.15" fill="rgb(216,241,246)"/><rect x="316.75" y="249.77" width="6.45" height="8.15" fill="rgb(221,244,248)"/><rect x="316.75" y="241.92" width="6.45" height="8.15" fill="rgb(222,244,248)"/><rect x="316.75" y="234.07" width="6.45" height="8.15" fill="rgb(223,245,249)"/><rect x="316.75" y="226.22" width="6.45" height="8.15" fill="rgb(225,245,249)"/><rect x="322.90" y="289.02" width="6.45" height="8.15" fill="rgb(224,245,249)"/><rect x="322.90" y="281.17" width="6.45" height="8.15" fill="rgb(216,242,246)"/><rect x="322.90" y="273.32" width="6.45" height="8.15" fill="rgb(198,231,240)"/><rect x="322.90" y="265.47" width="6.45" height="8.15" fill="rgb(191,228,237)"/><rect x="322.90" y="257.62" width="6.45" height="8.15" fill="rgb(206,236,243)"/><rect x="322.90" y="249.77" width="6.45" height="8.15" fill="rgb(219,243,247)"/><rect x="322.90" y="241.92" width="6.45" height="8.15" fill="rgb(220,244,248)"/><rect x="322.90" y="234.07" width="6.45" height="8.15" fill="rgb(222,244,248)"/><rect x="322.90" y="226.22" width="6.45" height="8.15" fill="rgb(224,245,249)"/><rect x="329.05" y="281.17" width="6.45" height="8.15" fill="rgb(218,242,247)"/><rect x="329.05" y="273.32" width="6.45" height="8.15" fill="rgb(198,231,240)"/><rect x="329.05" y="265.47" width="6.45" height="8.15" fill="rgb(183,223,235)"/><rect x="329.05" y="257.62" width="6.45" height="8.15" fill="rgb(191,227,237)"/><rect x="329.05" y="249.77" width="6.45" height="8.15" fill="rgb(214,240,245)"/><rect x="329.05" y="241.92" width="6.45" height="8.15" fill="rgb(218,242,247)"/><rect x="329.05" y="234.07" width="6.45" height="8.15" fill="rgb(220,243,248)"/><rect x="329.05" y="226.22" width="6.45" height="8.15" fill="rgb(223,245,249)"/><rect x="329.05" y="218.37" width="6.45" height="8.15" fill="rgb(224,245,249)"/><rect x="335.20" y="281.17" width="6.45" height="8.15" fill="rgb(220,243,248)"/><rect x="335.20" y="273.32" width="6.45" height="8.15" fill="rgb(202,234,241)"/><rect x="335.20" y="265.47" width="6.45" height="8.15" fill="rgb(180,221,233)"/><rect x="335.20" y="257.62" width="6.45" height="8.15" fill="rgb(180,221,233)"/><rect x="335.20" y="249.77" width="6.45" height="8.15" fill="rgb(201,233,241)"/><rect x="335.20" y="241.92" width="6.45" height="8.15" fill="rgb(215,241,246)"/><rect x="335.20" y="234.07" width="6.45" height="8.15" fill="rgb(220,243,248)"/><rect x="335.20" y="226.22" width="6.45" height="8.15" fill="rgb(221,244,248)"/><rect x="335.20" y="218.37" width="6.45" height="8.15" fill="rgb(223,245,249)"/><rect x="335.20" y="210.52" width="6.45" height="8.15" fill="rgb(225,246,249)"/><rect x="341.35" y="281.17" width="6.45" height="8.15" fill="rgb(223,245,249)"/><rect x="341.35" y="273.32" width="6.45" height="8.15" fill="rgb(209,237,244)"/><rect x="341.35" y="265.47" width="6.45" height="8.15" fill="rgb(181,222,234)"/><rect x="341.35" y="257.62" width="6.45" height="8.15" fill="rgb(169,215,229)"/><rect x="341.35" y="249.77" width="6.45" height="8.15" fill="rgb(190,227,237)"/><rect x="341.35" y="241.92" width="6.45" height="8.15" fill="rgb(207,237,243)"/><rect x="341.35" y="234.07" width="6.45" height="8.15" fill="rgb(216,242,246)"/><rect x="341.35" y="226.22" width="6.45" height="8.15" fill="rgb(219,243,247)"/><rect x="341.35" y="218.37" width="6.45" height="8.15" fill="rgb(222,244,248)"/><rect x="341.35" y="210.52" width="6.45" height="8.15" fill="rgb(223,245,249)"/><rect x="347.50" y="281.17" width="6.45" height="8.15" fill="rgb(223,245,249)"/><rect x="347.50" y="273.32" width="6.45" height="8.15" fill="rgb(215,241,246)"/><rect x="347.50" y="265.47" width="6.45" height="8.15" fill="rgb(184,223,235)"/><rect x="347.50" y="257.62" width="6.45" height="8.15" fill="rgb(151,204,223)"/><rect x="347.50" y="249.77" width="6.45" height="8.15" fill="rgb(164,212,227)"/><rect x="347.50" y="241.92" width="6.45" height="8.15" fill="rgb(191,228,237)"/><rect x="347.50" y="234.07" width="6.45" height="8.15" fill="rgb(215,241,246)"/><rect x="347.50" y="226.22" width="6.45" height="8.15" fill="rgb(218,242,247)"/><rect x="347.50" y="218.37" width="6.45" height="8.15" fill="rgb(221,244,248)"/><rect x="347.50" y="210.52" width="6.45" height="8.15" fill="rgb(222,244,248)"/><rect x="347.50" y="202.67" width="6.45" height="8.15" fill="rgb(225,245,249)"/><rect x="353.65" y="281.17" width="6.45" height="8.15" fill="rgb(225,246,249)"/><rect x="353.65" y="273.32" width="6.45" height="8.15" fill="rgb(218,242,247)"/><rect x="353.65" y="265.47" width="6.45" height="8.15" fill="rgb(185,224,235)"/><rect x="353.65" y="257.62" width="6.45" height="8.15" fill="rgb(147,201,221)"/><rect x="353.65" y="249.77" width="6.45" height="8.15" fill="rgb(154,205,224)"/><rect x="353.65" y="241.92" width="6.45" height="8.15" fill="rgb(181,222,234)"/><rect x="353.65" y="234.07" width="6.45" height="8.15" fill="rgb(203,234,242)"/><rect x="353.65" y="226.22" width="6.45" height="8.15" fill="rgb(216,241,246)"/><rect x="353.65" y="218.37" width="6.45" height="8.15" fill="rgb(219,243,247)"/><rect x="353.65" y="210.52" width="6.45" height="8.15" fill="rgb(221,244,248)"/><rect x="353.65" y="202.67" width="6.45" height="8.15" fill="rgb(224,245,249)"/><rect x="359.80" y="273.32" width="6.45" height="8.15" fill="rgb(220,243,248)"/><rect x="359.80" y="265.47" width="6.45" height="8.15" fill="rgb(192,228,238)"/><rect x="359.80" y="257.62" width="6.45" height="8.15" fill="rgb(147,200,221)"/><rect x="359.80" y="249.77" width="6.45" height="8.15" fill="rgb(140,196,218)"/><rect x="359.80" y="241.92" width="6.45" height="8.15" fill="rgb(153,205,223)"/><rect x="359.80" y="234.07" width="6.45" height="8.15" fill="rgb(187,225,236)"/><rect x="359.80" y="226.22" width="6.45" height="8.15" fill="rgb(207,237,243)"/><rect x="359.80" y="218.37" width="6.45" height="8.15" fill="rgb(216,242,246)"/><rect x="359.80" y="210.52" width="6.45" height="8.15" fill="rgb(219,243,247)"/><rect x="359.80" y="202.67" width="6.45" height="8.15" fill="rgb(222,244,248)"/><rect x="359.80" y="194.82" width="6.45" height="8.15" fill="rgb(224,245,249)"/><rect x="365.95" y="273.32" width="6.45" height="8.15" fill="rgb(222,244,248)"/><rect x="365.95" y="265.47" width="6.45" height="8.15" fill="rgb(206,236,243)"/><rect x="365.95" y="257.62" width="6.45" height="8.15" fill="rgb(158,208,225)"/><rect x="365.95" y="249.77" width="6.45" height="8.15" fill="rgb(130,188,214)"/><rect x="365.95" y="241.92" width="6.45" height="8.15" fill="rgb(138,194,218)"/><rect x="365.95" y="234.07" width="6.45" height="8.15" fill="rgb(173,217,231)"/><rect x="365.95" y="226.22" width="6.45" height="8.15" fill="rgb(198,231,240)"/><rect x="365.95" y="218.37" width="6.45" height="8.15" fill="rgb(214,240,246)"/><rect x="365.95" y="210.52" width="6.45" height="8.15" fill="rgb(217,242,247)"/><rect x="365.95" y="202.67" width="6.45" height="8.15" fill="rgb(220,244,248)"/><rect x="365.95" y="194.82" width="6.45" height="8.15" fill="rgb(223,245,249)"/><rect x="372.10" y="273.32" width="6.45" height="8.15" fill="rgb(223,245,249)"/><rect x="372.10" y="265.47" width="6.45" height="8.15" fill="rgb(213,240,245)"/><rect x="372.10" y="257.62" width="6.45" height="8.15" fill="rgb(165,213,228)"/><rect x="372.10" y="249.77" width="6.45" height="8.15" fill="rgb(126,185,213)"/><rect x="372.10" y="241.92" width="6.45" height="8.15" fill="rgb(115,177,209)"/><rect x="372.10" y="234.07" width="6.45" height="8.15" fill="rgb(145,199,220)"/><rect x="372.10" y="226.22" width="6.45" height="8.15" fill="rgb(180,221,233)"/><rect x="372.10" y="218.37" width="6.45" height="8.15" fill="rgb(203,234,242)"/><rect x="372.10" y="210.52" width="6.45" height="8.15" fill="rgb(212,239,245)"/><rect x="372.10" y="202.67" width="6.45" height="8.15" fill="rgb(218,242,247)"/><rect x="372.10" y="194.82" width="6.45" height="8.15" fill="rgb(221,244,248)"/><rect x="372.10" y="186.97" width="6.45" height="8.15" fill="rgb(224,245,249)"/><rect x="378.25" y="273.32" width="6.45" height="8.15" fill="rgb(225,246,249)"/><rect x="378.25" y="265.47" width="6.45" height="8.15" fill="rgb(216,241,246)"/><rect x="378.25" y="257.62" width="6.45" height="8.15" fill="rgb(179,221,233)"/><rect x="378.25" y="249.77" width="6.45" height="8.15" fill="rgb(124,184,212)"/><rect x="378.25" y="241.92" width="6.45" height="8.15" fill="rgb(100,163,202)"/><rect x="378.25" y="234.07" width="6.45" height="8.15" fill="rgb(126,186,213)"/><rect x="378.25" y="226.22" width="6.45" height="8.15" fill="rgb(164,212,228)"/><rect x="378.25" y="218.37" width="6.45" height="8.15" fill="rgb(193,228,238)"/><rect x="378.25" y="210.52" width="6.45" height="8.15" fill="rgb(206,236,243)"/><rect x="378.25" y="202.67" width="6.45" height="8.15" fill="rgb(215,241,246)"/><rect x="378.25" y="194.82" width="6.45" height="8.15" fill="rgb(219,243,247)"/><rect x="378.25" y="186.97" width="6.45" height="8.15" fill="rgb(222,244,248)"/><rect x="378.25" y="179.12" width="6.45" height="8.15" fill="rgb(225,246,249)"/><rect x="384.40" y="265.47" width="6.45" height="8.15" fill="rgb(220,243,248)"/><rect x="384.40" y="257.62" width="6.45" height="8.15" fill="rgb(188,226,236)"/><rect x="384.40" y="249.77" width="6.45" height="8.15" fill="rgb(130,188,215)"/><rect x="384.40" y="241.92" width="6.45" height="8.15" fill="rgb(93,155,199)"/><rect x="384.40" y="234.07" width="6.45" height="8.15" fill="rgb(105,170,205)"/><rect x="384.40" y="226.22" width="6.45" height="8.15" fill="rgb(144,198,220)"/><rect x="384.40" y="218.37" width="6.45" height="8.15" fill="rgb(180,221,233)"/><rect x="384.40" y="210.52" width="6.45" height="8.15" fill="rgb(195,230,239)"/><rect x="384.40" y="202.67" width="6.45" height="8.15" fill="rgb(212,239,245)"/><rect x="384.40" y="194.82" width="6.45" height="8.15" fill="rgb(217,242,247)"/><rect x="384.40" y="186.97" width="6.45" height="8.15" fill="rgb(221,244,248)"/><rect x="384.40" y="179.12" width="6.45" height="8.15" fill="rgb(224,245,249)"/><rect x="390.55" y="265.47" width="6.45" height="8.15" fill="rgb(221,244,248)"/><rect x="390.55" y="257.62" width="6.45" height="8.15" fill="rgb(202,234,241)"/><rect x="390.55" y="249.77" width="6.45" height="8.15" fill="rgb(139,195,218)"/><rect x="390.55" y="241.92" width="6.45" height="8.15" fill="rgb(95,158,200)"/><rect x="390.55" y="234.07" width="6.45" height="8.15" fill="rgb(84,143,195)"/><rect x="390.55" y="226.22" width="6.45" height="8.15" fill="rgb(119,181,211)"/><rect x="390.55" y="218.37" width="6.45" height="8.15" fill="rgb(158,209,225)"/><rect x="390.55" y="210.52" width="6.45" height="8.15" fill="rgb(188,226,236)"/><rect x="390.55" y="202.67" width="6.45" height="8.15" fill="rgb(200,232,241)"/><rect x="390.55" y="194.82" width="6.45" height="8.15" fill="rgb(214,240,245)"/><rect x="390.55" y="186.97" width="6.45" height="8.15" fill="rgb(219,243,247)"/><rect x="390.55" y="179.12" width="6.45" height="8.15" fill="rgb(222,244,248)"/><rect x="390.55" y="171.27" width="6.45" height="8.15" fill="rgb(225,246,249)"/><rect x="396.70" y="265.47" width="6.45" height="8.15" fill="rgb(223,245,249)"/><rect x="396.70" y="257.62" width="6.45" height="8.15" fill="rgb(209,238,244)"/><rect x="396.70" y="249.77" width="6.45" height="8.15" fill="rgb(154,205,224)"/><rect x="396.70" y="241.92" width="6.45" height="8.15" fill="rgb(99,163,202)"/><rect x="396.70" y="234.07" width="6.45" height="8.15" fill="rgb(83,141,194)"/><rect x="396.70" y="226.22" width="6.45" height="8.15" fill="rgb(100,164,203)"/><rect x="396.70" y="218.37" width="6.45" height="8.15" fill="rgb(129,187,214)"/><rect x="396.70" y="210.52" width="6.45" height="8.15" fill="rgb(176,219,232)"/><rect x="396.70" y="202.67" width="6.45" height="8.15" fill="rgb(195,230,239)"/><rect x="396.70" y="194.82" width="6.45" height="8.15" fill="rgb(209,237,244)"/><rect x="396.70" y="186.97" width="6.45" height="8.15" fill="rgb(217,242,247)"/><rect x="396.70" y="179.12" width="6.45" height="8.15" fill="rgb(220,243,248)"/><rect x="396.70" y="171.27" width="6.45" height="8.15" fill="rgb(223,245,249)"/><rect x="402.85" y="265.47" width="6.45" height="8.15" fill="rgb(225,246,249)"/><rect x="402.85" y="257.62" width="6.45" height="8.15" fill="rgb(217,242,247)"/><rect x="402.85" y="249.77" width="6.45" height="8.15" fill="rgb(170,216,230)"/><rect x="402.85" y="241.92" width="6.45" height="8.15" fill="rgb(103,168,204)"/><rect x="402.85" y="234.07" width="6.45" height="8.15" fill="rgb(69,124,188)"/><rect x="402.85" y="226.22" width="6.45" height="8.15" fill="rgb(77,134,191)"/><rect x="402.85" y="218.37" width="6.45" height="8.15" fill="rgb(109,173,207)"/><rect x="402.85" y="210.52" width="6.45" height="8.15" fill="rgb(152,204,223)"/><rect x="402.85" y="202.67" width="6.45" height="8.15" fill="rgb(184,224,235)"/><rect x="402.85" y="194.82" width="6.45" height="8.15" fill="rgb(201,233,241)"/><rect x="402.85" y="186.97" width="6.45" height="8.15" fill="rgb(215,241,246)"/><rect x="402.85" y="179.12" width="6.45" height="8.15" fill="rgb(219,243,247)"/><rect x="402.85" y="171.27" width="6.45" height="8.15" fill="rgb(221,244,248)"/><rect x="402.85" y="163.42" width="6.45" height="8.15" fill="rgb(225,246,249)"/><rect x="409.00" y="257.62" width="6.45" height="8.15" fill="rgb(218,243,247)"/><rect x="409.00" y="249.77" width="6.45" height="8.15" fill="rgb(182,223,234)"/><rect x="409.00" y="241.92" width="6.45" height="8.15" fill="rgb(117,179,210)"/><rect x="409.00" y="234.07" width="6.45" height="8.15" fill="rgb(66,119,186)"/><rect x="409.00" y="226.22" width="6.45" height="8.15" fill="rgb(66,118,185)"/><rect x="409.00" y="218.37" width="6.45" height="8.15" fill="rgb(91,152,198)"/><rect x="409.00" y="210.52" width="6.45" height="8.15" fill="rgb(135,192,216)"/><rect x="409.00" y="202.67" width="6.45" height="8.15" fill="rgb(167,214,229)"/><rect x="409.00" y="194.82" width="6.45" height="8.15" fill="rgb(190,227,237)"/><rect x="409.00" y="186.97" width="6.45" height="8.15" fill="rgb(203,234,242)"/><rect x="409.00" y="179.12" width="6.45" height="8.15" fill="rgb(216,241,246)"/><rect x="409.00" y="171.27" width="6.45" height="8.15" fill="rgb(220,243,248)"/><rect x="409.00" y="163.42" width="6.45" height="8.15" fill="rgb(223,245,249)"/><rect x="415.15" y="257.62" width="6.45" height="8.15" fill="rgb(222,244,248)"/><rect x="415.15" y="249.77" width="6.45" height="8.15" fill="rgb(200,233,241)"/><rect x="415.15" y="241.92" width="6.45" height="8.15" fill="rgb(139,195,218)"/><rect x="415.15" y="234.07" width="6.45" height="8.15" fill="rgb(71,127,189)"/><rect x="415.15" y="226.22" width="6.45" height="8.15" fill="rgb(64,101,175)"/><rect x="415.15" y="218.37" width="6.45" height="8.15" fill="rgb(65,110,180)"/><rect x="415.15" y="210.52" width="6.45" height="8.15" fill="rgb(103,167,204)"/><rect x="415.15" y="202.67" width="6.45" height="8.15" fill="rgb(152,204,223)"/><rect x="415.15" y="194.82" width="6.45" height="8.15" fill="rgb(182,222,234)"/><rect x="415.15" y="186.97" width="6.45" height="8.15" fill="rgb(194,229,238)"/><rect x="415.15" y="179.12" width="6.45" height="8.15" fill="rgb(210,238,244)"/><rect x="415.15" y="171.27" width="6.45" height="8.15" fill="rgb(218,243,247)"/><rect x="415.15" y="163.42" width="6.45" height="8.15" fill="rgb(223,245,249)"/><rect x="415.15" y="155.57" width="6.45" height="8.15" fill="rgb(225,246,249)"/><rect x="421.30" y="257.62" width="6.45" height="8.15" fill="rgb(224,245,249)"/><rect x="421.30" y="249.77" width="6.45" height="8.15" fill="rgb(211,239,245)"/><rect x="421.30" y="241.92" width="6.45" height="8.15" fill="rgb(151,204,223)"/><rect x="421.30" y="234.07" width="6.45" height="8.15" fill="rgb(92,153,198)"/><rect x="421.30" y="226.22" width="6.45" height="8.15" fill="rgb(63,90,168)"/><rect x="421.30" y="218.37" width="6.45" height="8.15" fill="rgb(63,97,172)"/><rect x="421.30" y="210.52" width="6.45" height="8.15" fill="rgb(83,142,194)"/><rect x="421.30" y="202.67" width="6.45" height="8.15" fill="rgb(130,188,215)"/><rect x="421.30" y="194.82" width="6.45" height="8.15" fill="rgb(165,213,228)"/><rect x="421.30" y="186.97" width="6.45" height="8.15" fill="rgb(187,225,236)"/><rect x="421.30" y="179.12" width="6.45" height="8.15" fill="rgb(201,233,241)"/><rect x="421.30" y="171.27" width="6.45" height="8.15" fill="rgb(217,242,247)"/><rect x="421.30" y="163.42" width="6.45" height="8.15" fill="rgb(220,244,248)"/><rect x="421.30" y="155.57" width="6.45" height="8.15" fill="rgb(224,245,249)"/><rect x="427.45" y="257.62" width="6.45" height="8.15" fill="rgb(225,246,249)"/><rect x="427.45" y="249.77" width="6.45" height="8.15" fill="rgb(217,242,247)"/><rect x="427.45" y="241.92" width="6.45" height="8.15" fill="rgb(177,220,232)"/><rect x="427.45" y="234.07" width="6.45" height="8.15" fill="rgb(104,169,205)"/><rect x="427.45" y="226.22" width="6.45" height="8.15" fill="rgb(64,104,176)"/><rect x="427.45" y="218.37" width="6.45" height="8.15" fill="rgb(62,72,148)"/><rect x="427.45" y="210.52" width="6.45" height="8.15" fill="rgb(65,114,182)"/><rect x="427.45" y="202.67" width="6.45" height="8.15" fill="rgb(93,155,199)"/><rect x="427.45" y="194.82" width="6.45" height="8.15" fill="rgb(150,203,222)"/><rect x="427.45" y="186.97" width="6.45" height="8.15" fill="rgb(178,220,233)"/><rect x="427.45" y="179.12" width="6.45" height="8.15" fill="rgb(194,229,238)"/><rect x="427.45" y="171.27" width="6.45" height="8.15" fill="rgb(209,238,244)"/><rect x="427.45" y="163.42" width="6.45" height="8.15" fill="rgb(218,243,247)"/><rect x="427.45" y="155.57" width="6.45" height="8.15" fill="rgb(223,245,249)"/><rect x="427.45" y="147.72" width="6.45" height="8.15" fill="rgb(225,246,249)"/><rect x="433.60" y="249.77" width="6.45" height="8.15" fill="rgb(219,243,247)"/><rect x="433.60" y="241.92" width="6.45" height="8.15" fill="rgb(187,225,236)"/><rect x="433.60" y="234.07" width="6.45" height="8.15" fill="rgb(124,184,212)"/><rect x="433.60" y="226.22" width="6.45" height="8.15" fill="rgb(64,105,177)"/><rect x="433.60" y="218.37" width="6.45" height="8.15" fill="rgb(62,75,152)"/><rect x="433.60" y="210.52" width="6.45" height="8.15" fill="rgb(62,87,166)"/><rect x="433.60" y="202.67" width="6.45" height="8.15" fill="rgb(83,142,194)"/><rect x="433.60" y="194.82" width="6.45" height="8.15" fill="rgb(121,181,211)"/><rect x="433.60" y="186.97" width="6.45" height="8.15" fill="rgb(157,208,225)"/><rect x="433.60" y="179.12" width="6.45" height="8.15" fill="rgb(186,225,235)"/><rect x="433.60" y="171.27" width="6.45" height="8.15" fill="rgb(201,233,241)"/><rect x="433.60" y="163.42" width="6.45" height="8.15" fill="rgb(217,242,247)"/><rect x="433.60" y="155.57" width="6.45" height="8.15" fill="rgb(221,244,248)"/><rect x="433.60" y="147.72" width="6.45" height="8.15" fill="rgb(224,245,249)"/><rect x="439.75" y="249.77" width="6.45" height="8.15" fill="rgb(223,245,249)"/><rect x="439.75" y="241.92" width="6.45" height="8.15" fill="rgb(200,233,241)"/><rect x="439.75" y="234.07" width="6.45" height="8.15" fill="rgb(144,198,220)"/><rect x="439.75" y="226.22" width="6.45" height="8.15" fill="rgb(76,133,191)"/><rect x="439.75" y="218.37" width="6.45" height="8.15" fill="rgb(62,78,156)"/><rect x="439.75" y="210.52" width="6.45" height="8.15" fill="rgb(62,60,133)"/><rect x="439.75" y="202.67" width="6.45" height="8.15" fill="rgb(64,104,177)"/><rect x="439.75" y="194.82" width="6.45" height="8.15" fill="rgb(92,154,199)"/><rect x="439.75" y="186.97" width="6.45" height="8.15" fill="rgb(141,196,219)"/><rect x="439.75" y="179.12" width="6.45" height="8.15" fill="rgb(171,216,230)"/><rect x="439.75" y="171.27" width="6.45" height="8.15" fill="rgb(198,231,240)"/><rect x="439.75" y="163.42" width="6.45" height="8.15" fill="rgb(213,240,245)"/><rect x="439.75" y="155.57" width="6.45" height="8.15" fill="rgb(219,243,247)"/><rect x="439.75" y="147.72" width="6.45" height="8.15" fill="rgb(223,245,249)"/><rect x="445.90" y="249.77" width="6.45" height="8.15" fill="rgb(225,245,249)"/><rect x="445.90" y="241.92" width="6.45" height="8.15" fill="rgb(212,239,245)"/><rect x="445.90" y="234.07" width="6.45" height="8.15" fill="rgb(158,209,225)"/><rect x="445.90" y="226.22" width="6.45" height="8.15" fill="rgb(89,149,197)"/><rect x="445.90" y="218.37" width="6.45" height="8.15" fill="rgb(62,76,153)"/><rect x="445.90" y="210.52" width="6.45" height="8.15" fill="rgb(38,34,78)"/><rect x="445.90" y="202.67" width="6.45" height="8.15" fill="rgb(62,73,150)"/><rect x="445.90" y="194.82" width="6.45" height="8.15" fill="rgb(79,136,192)"/><rect x="445.90" y="186.97" width="6.45" height="8.15" fill="rgb(121,181,211)"/><rect x="445.90" y="179.12" width="6.45" height="8.15" fill="rgb(160,210,226)"/><rect x="445.90" y="171.27" width="6.45" height="8.15" fill="rgb(182,223,234)"/><rect x="445.90" y="163.42" width="6.45" height="8.15" fill="rgb(207,236,243)"/><rect x="445.90" y="155.57" width="6.45" height="8.15" fill="rgb(216,242,246)"/><rect x="445.90" y="147.72" width="6.45" height="8.15" fill="rgb(220,244,248)"/><rect x="445.90" y="139.87" width="6.45" height="8.15" fill="rgb(224,245,249)"/><rect x="452.05" y="241.92" width="6.45" height="8.15" fill="rgb(219,243,247)"/><rect x="452.05" y="234.07" width="6.45" height="8.15" fill="rgb(183,223,234)"/><rect x="452.05" y="226.22" width="6.45" height="8.15" fill="rgb(110,174,207)"/><rect x="452.05" y="218.37" width="6.45" height="8.15" fill="rgb(63,92,169)"/><rect x="452.05" y="210.52" width="6.45" height="8.15" fill="rgb(39,35,80)"/><rect x="452.05" y="202.67" width="6.45" height="8.15" fill="rgb(48,44,99)"/><rect x="452.05" y="194.82" width="6.45" height="8.15" fill="rgb(64,106,177)"/><rect x="452.05" y="186.97" width="6.45" height="8.15" fill="rgb(108,172,206)"/><rect x="452.05" y="179.12" width="6.45" height="8.15" fill="rgb(149,202,222)"/><rect x="452.05" y="171.27" width="6.45" height="8.15" fill="rgb(174,218,231)"/><rect x="452.05" y="163.42" width="6.45" height="8.15" fill="rgb(199,232,240)"/><rect x="452.05" y="155.57" width="6.45" height="8.15" fill="rgb(213,240,245)"/><rect x="452.05" y="147.72" width="6.45" height="8.15" fill="rgb(219,243,247)"/><rect x="452.05" y="139.87" width="6.45" height="8.15" fill="rgb(223,245,249)"/><rect x="458.20" y="241.92" width="6.45" height="8.15" fill="rgb(221,244,248)"/><rect x="458.20" y="234.07" width="6.45" height="8.15" fill="rgb(198,231,240)"/><rect x="458.20" y="226.22" width="6.45" height="8.15" fill="rgb(135,192,216)"/><rect x="458.20" y="218.37" width="6.45" height="8.15" fill="rgb(64,102,175)"/><rect x="458.20" y="210.52" width="6.45" height="8.15" fill="rgb(51,47,106)"/><rect x="458.20" y="202.67" width="6.45" height="8.15" fill="rgb(42,38,86)"/><rect x="458.20" y="194.82" width="6.45" height="8.15" fill="rgb(62,62,135)"/><rect x="458.20" y="186.97" width="6.45" height="8.15" fill="rgb(79,136,192)"/><rect x="458.20" y="179.12" width="6.45" height="8.15" fill="rgb(123,183,212)"/><rect x="458.20" y="171.27" width="6.45" height="8.15" fill="rgb(164,212,228)"/><rect x="458.20" y="163.42" width="6.45" height="8.15" fill="rgb(184,224,235)"/><rect x="458.20" y="155.57" width="6.45" height="8.15" fill="rgb(206,236,243)"/><rect x="458.20" y="147.72" width="6.45" height="8.15" fill="rgb(218,242,247)"/><rect x="458.20" y="139.87" width="6.45" height="8.15" fill="rgb(222,244,248)"/><rect x="458.20" y="132.02" width="6.45" height="8.15" fill="rgb(225,246,249)"/><rect x="464.35" y="241.92" width="6.45" height="8.15" fill="rgb(223,245,249)"/><rect x="464.35" y="234.07" width="6.45" height="8.15" fill="rgb(211,238,244)"/><rect x="464.35" y="226.22" width="6.45" height="8.15" fill="rgb(158,209,225)"/><rect x="464.35" y="218.37" width="6.45" height="8.15" fill="rgb(68,122,187)"/><rect x="464.35" y="210.52" width="6.45" height="8.15" fill="rgb(58,54,122)"/><rect x="464.35" y="202.67" width="6.45" height="8.15" fill="rgb(20,18,40)"/><rect x="464.35" y="194.82" width="6.45" height="8.15" fill="rgb(42,38,87)"/><rect x="464.35" y="186.97" width="6.45" height="8.15" fill="rgb(64,99,173)"/><rect x="464.35" y="179.12" width="6.45" height="8.15" fill="rgb(111,174,207)"/><rect x="464.35" y="171.27" width="6.45" height="8.15" fill="rgb(146,200,221)"/><rect x="464.35" y="163.42" width="6.45" height="8.15" fill="rgb(181,222,234)"/><rect x="464.35" y="155.57" width="6.45" height="8.15" fill="rgb(199,232,240)"/><rect x="464.35" y="147.72" width="6.45" height="8.15" fill="rgb(212,239,245)"/><rect x="464.35" y="139.87" width="6.45" height="8.15" fill="rgb(219,243,247)"/><rect x="464.35" y="132.02" width="6.45" height="8.15" fill="rgb(224,245,249)"/><rect x="470.50" y="234.07" width="6.45" height="8.15" fill="rgb(218,242,247)"/><rect x="470.50" y="226.22" width="6.45" height="8.15" fill="rgb(174,218,231)"/><rect x="470.50" y="218.37" width="6.45" height="8.15" fill="rgb(100,164,203)"/><rect x="470.50" y="210.52" width="6.45" height="8.15" fill="rgb(62,69,144)"/><rect x="470.50" y="202.67" width="6.45" height="8.15" fill="rgb(20,18,40)"/><rect x="470.50" y="194.82" width="6.45" height="8.15" fill="rgb(21,19,43)"/><rect x="470.50" y="186.97" width="6.45" height="8.15" fill="rgb(62,85,165)"/><rect x="470.50" y="179.12" width="6.45" height="8.15" fill="rgb(82,141,194)"/><rect x="470.50" y="171.27" width="6.45" height="8.15" fill="rgb(133,191,216)"/><rect x="470.50" y="163.42" width="6.45" height="8.15" fill="rgb(169,215,229)"/><rect x="470.50" y="155.57" width="6.45" height="8.15" fill="rgb(188,226,236)"/><rect x="470.50" y="147.72" width="6.45" height="8.15" fill="rgb(206,236,243)"/><rect x="470.50" y="139.87" width="6.45" height="8.15" fill="rgb(218,242,247)"/><rect x="470.50" y="132.02" width="6.45" height="8.15" fill="rgb(222,244,248)"/><rect x="476.65" y="234.07" width="6.45" height="8.15" fill="rgb(221,244,248)"/><rect x="476.65" y="226.22" width="6.45" height="8.15" fill="rgb(191,227,237)"/><rect x="476.65" y="218.37" width="6.45" height="8.15" fill="rgb(123,183,212)"/><rect x="476.65" y="210.52" width="6.45" height="8.15" fill="rgb(63,92,169)"/><rect x="476.65" y="202.67" width="6.45" height="8.15" fill="rgb(32,29,66)"/><rect x="476.65" y="194.82" width="6.45" height="8.15" fill="rgb(20,18,40)"/><rect x="476.65" y="186.97" width="6.45" height="8.15" fill="rgb(49,45,103)"/><rect x="476.65" y="179.12" width="6.45" height="8.15" fill="rgb(64,106,177)"/><rect x="476.65" y="171.27" width="6.45" height="8.15" fill="rgb(106,171,205)"/><rect x="476.65" y="163.42" width="6.45" height="8.15" fill="rgb(157,208,225)"/><rect x="476.65" y="155.57" width="6.45" height="8.15" fill="rgb(178,220,233)"/><rect x="476.65" y="147.72" width="6.45" height="8.15" fill="rgb(198,231,240)"/><rect x="476.65" y="139.87" width="6.45" height="8.15" fill="rgb(216,242,246)"/><rect x="476.65" y="132.02" width="6.45" height="8.15" fill="rgb(221,244,248)"/><rect x="476.65" y="124.17" width="6.45" height="8.15" fill="rgb(224,245,249)"/><rect x="482.80" y="234.07" width="6.45" height="8.15" fill="rgb(224,245,249)"/><rect x="482.80" y="226.22" width="6.45" height="8.15" fill="rgb(209,237,244)"/><rect x="482.80" y="218.37" width="6.45" height="8.15" fill="rgb(157,208,225)"/><rect x="482.80" y="210.52" width="6.45" height="8.15" fill="rgb(72,128,189)"/><rect x="482.80" y="202.67" width="6.45" height="8.15" fill="rgb(42,38,87)"/><rect x="482.80" y="194.82" width="6.45" height="8.15" fill="rgb(20,18,40)"/><rect x="482.80" y="186.97" width="6.45" height="8.15" fill="rgb(20,18,40)"/><rect x="482.80" y="179.12" width="6.45" height="8.15" fill="rgb(62,85,165)"/><rect x="482.80" y="171.27" width="6.45" height="8.15" fill="rgb(92,154,199)"/><rect x="482.80" y="163.42" width="6.45" height="8.15" fill="rgb(135,192,216)"/><rect x="482.80" y="155.57" width="6.45" height="8.15" fill="rgb(175,219,232)"/><rect x="482.80" y="147.72" width="6.45" height="8.15" fill="rgb(189,227,237)"/><rect x="482.80" y="139.87" width="6.45" height="8.15" fill="rgb(210,238,244)"/><rect x="482.80" y="132.02" width="6.45" height="8.15" fill="rgb(219,243,247)"/><rect x="482.80" y="124.17" width="6.45" height="8.15" fill="rgb(223,245,249)"/><rect x="488.95" y="226.22" width="6.45" height="8.15" fill="rgb(219,243,247)"/><rect x="488.95" y="218.37" width="6.45" height="8.15" fill="rgb(176,219,232)"/><rect x="488.95" y="210.52" width="6.45" height="8.15" fill="rgb(101,165,203)"/><rect x="488.95" y="202.67" width="6.45" height="8.15" fill="rgb(62,70,145)"/><rect x="488.95" y="194.82" width="6.45" height="8.15" fill="rgb(20,18,40)"/><rect x="488.95" y="186.97" width="6.45" height="8.15" fill="rgb(20,18,40)"/><rect x="488.95" y="179.12" width="6.45" height="8.15" fill="rgb(62,65,139)"/><rect x="488.95" y="171.27" width="6.45" height="8.15" fill="rgb(70,125,188)"/><rect x="488.95" y="163.42" width="6.45" height="8.15" fill="rgb(131,189,215)"/><rect x="488.95" y="155.57" width="6.45" height="8.15" fill="rgb(165,213,228)"/><rect x="488.95" y="147.72" width="6.45" height="8.15" fill="rgb(187,225,236)"/><rect x="488.95" y="139.87" width="6.45" height="8.15" fill="rgb(207,236,243)"/><rect x="488.95" y="132.02" width="6.45" height="8.15" fill="rgb(217,242,247)"/><rect x="488.95" y="124.17" width="6.45" height="8.15" fill="rgb(222,244,248)"/><rect x="488.95" y="116.32" width="6.45" height="8.15" fill="rgb(225,246,249)"/><rect x="495.10" y="226.22" width="6.45" height="8.15" fill="rgb(222,244,248)"/><rect x="495.10" y="218.37" width="6.45" height="8.15" fill="rgb(196,231,239)"/><rect x="495.10" y="210.52" width="6.45" height="8.15" fill="rgb(132,190,215)"/><rect x="495.10" y="202.67" width="6.45" height="8.15" fill="rgb(63,94,170)"/><rect x="495.10" y="194.82" width="6.45" height="8.15" fill="rgb(20,18,40)"/><rect x="495.10" y="186.97" width="6.45" height="8.15" fill="rgb(20,18,40)"/><rect x="495.10" y="179.12" width="6.45" height="8.15" fill="rgb(26,24,53)"/><rect x="495.10" y="171.27" width="6.45" height="8.15" fill="rgb(65,111,181)"/><rect x="495.10" y="163.42" width="6.45" height="8.15" fill="rgb(103,168,204)"/><rect x="495.10" y="155.57" width="6.45" height="8.15" fill="rgb(149,202,222)"/><rect x="495.10" y="147.72" width="6.45" height="8.15" fill="rgb(179,221,233)"/><rect x="495.10" y="139.87" width="6.45" height="8.15" fill="rgb(201,233,241)"/><rect x="495.10" y="132.02" width="6.45" height="8.15" fill="rgb(212,240,245)"/><rect x="495.10" y="124.17" width="6.45" height="8.15" fill="rgb(221,244,248)"/><rect x="495.10" y="116.32" width="6.45" height="8.15" fill="rgb(224,245,249)"/><rect x="501.25" y="226.22" width="6.45" height="8.15" fill="rgb(224,245,249)"/><rect x="501.25" y="218.37" width="6.45" height="8.15" fill="rgb(212,239,245)"/><rect x="501.25" y="210.52" width="6.45" height="8.15" fill="rgb(159,209,225)"/><rect x="501.25" y="202.67" width="6.45" height="8.15" fill="rgb(84,144,195)"/><rect x="501.25" y="194.82" width="6.45" height="8.15" fill="rgb(61,57,128)"/><rect x="501.25" y="186.97" width="6.45" height="8.15" fill="rgb(20,18,40)"/><rect x="501.25" y="179.12" width="6.45" height="8.15" fill="rgb(27,24,55)"/><rect x="501.25" y="171.27" width="6.45" height="8.15" fill="rgb(62,81,160)"/><rect x="501.25" y="163.42" width="6.45" height="8.15" fill="rgb(83,142,194)"/><rect x="501.25" y="155.57" width="6.45" height="8.15" fill="rgb(132,190,215)"/><rect x="501.25" y="147.72" width="6.45" height="8.15" fill="rgb(162,211,227)"/><rect x="501.25" y="139.87" width="6.45" height="8.15" fill="rgb(189,226,236)"/><rect x="501.25" y="132.02" width="6.45" height="8.15" fill="rgb(210,238,244)"/><rect x="501.25" y="124.17" width="6.45" height="8.15" fill="rgb(218,242,247)"/><rect x="501.25" y="116.32" width="6.45" height="8.15" fill="rgb(222,244,248)"/><rect x="507.40" y="218.37" width="6.45" height="8.15" fill="rgb(219,243,247)"/><rect x="507.40" y="210.52" width="6.45" height="8.15" fill="rgb(182,223,234)"/><rect x="507.40" y="202.67" width="6.45" height="8.15" fill="rgb(107,172,206)"/><rect x="507.40" y="194.82" width="6.45" height="8.15" fill="rgb(62,72,148)"/><rect x="507.40" y="186.97" width="6.45" height="8.15" fill="rgb(20,18,40)"/><rect x="507.40" y="179.12" width="6.45" height="8.15" fill="rgb(20,18,40)"/><rect x="507.40" y="171.27" width="6.45" height="8.15" fill="rgb(54,50,113)"/><rect x="507.40" y="163.42" width="6.45" height="8.15" fill="rgb(65,116,183)"/><rect x="507.40" y="155.57" width="6.45" height="8.15" fill="rgb(120,181,211)"/><rect x="507.40" y="147.72" width="6.45" height="8.15" fill="rgb(154,206,224)"/><rect x="507.40" y="139.87" width="6.45" height="8.15" fill="rgb(182,222,234)"/><rect x="507.40" y="132.02" width="6.45" height="8.15" fill="rgb(204,235,242)"/><rect x="507.40" y="124.17" width="6.45" height="8.15" fill="rgb(217,242,247)"/><rect x="507.40" y="116.32" width="6.45" height="8.15" fill="rgb(221,244,248)"/><rect x="507.40" y="108.47" width="6.45" height="8.15" fill="rgb(225,246,249)"/><rect x="513.55" y="218.37" width="6.45" height="8.15" fill="rgb(222,244,248)"/><rect x="513.55" y="210.52" width="6.45" height="8.15" fill="rgb(202,234,241)"/><rect x="513.55" y="202.67" width="6.45" height="8.15" fill="rgb(149,202,222)"/><rect x="513.55" y="194.82" width="6.45" height="8.15" fill="rgb(65,110,180)"/><rect x="513.55" y="186.97" width="6.45" height="8.15" fill="rgb(31,27,62)"/><rect x="513.55" y="179.12" width="6.45" height="8.15" fill="rgb(20,18,40)"/><rect x="513.55" y="171.27" width="6.45" height="8.15" fill="rgb(48,44,100)"/><rect x="513.55" y="163.42" width="6.45" height="8.15" fill="rgb(65,107,178)"/><rect x="513.55" y="155.57" width="6.45" height="8.15" fill="rgb(108,172,206)"/><rect x="513.55" y="147.72" width="6.45" height="8.15" fill="rgb(152,204,223)"/><rect x="513.55" y="139.87" width="6.45" height="8.15" fill="rgb(171,216,230)"/><rect x="513.55" y="132.02" width="6.45" height="8.15" fill="rgb(194,229,238)"/><rect x="513.55" y="124.17" width="6.45" height="8.15" fill="rgb(212,239,245)"/><rect x="513.55" y="116.32" width="6.45" height="8.15" fill="rgb(219,243,247)"/><rect x="513.55" y="108.47" width="6.45" height="8.15" fill="rgb(223,245,249)"/><rect x="519.70" y="210.52" width="6.45" height="8.15" fill="rgb(217,242,247)"/><rect x="519.70" y="202.67" width="6.45" height="8.15" fill="rgb(172,217,230)"/><rect x="519.70" y="194.82" width="6.45" height="8.15" fill="rgb(91,153,198)"/><rect x="519.70" y="186.97" width="6.45" height="8.15" fill="rgb(62,73,149)"/><rect x="519.70" y="179.12" width="6.45" height="8.15" fill="rgb(20,18,40)"/><rect x="519.70" y="171.27" width="6.45" height="8.15" fill="rgb(25,23,51)"/><rect x="519.70" y="163.42" width="6.45" height="8.15" fill="rgb(62,87,166)"/><rect x="519.70" y="155.57" width="6.45" height="8.15" fill="rgb(82,140,194)"/><rect x="519.70" y="147.72" width="6.45" height="8.15" fill="rgb(140,196,218)"/><rect x="519.70" y="139.87" width="6.45" height="8.15" fill="rgb(162,211,227)"/><rect x="519.70" y="132.02" width="6.45" height="8.15" fill="rgb(192,228,238)"/><rect x="519.70" y="124.17" width="6.45" height="8.15" fill="rgb(210,238,244)"/><rect x="519.70" y="116.32" width="6.45" height="8.15" fill="rgb(218,242,247)"/><rect x="519.70" y="108.47" width="6.45" height="8.15" fill="rgb(222,244,248)"/><rect x="519.70" y="100.62" width="6.45" height="8.15" fill="rgb(225,246,249)"/><rect x="525.85" y="210.52" width="6.45" height="8.15" fill="rgb(221,244,248)"/><rect x="525.85" y="202.67" width="6.45" height="8.15" fill="rgb(194,229,238)"/><rect x="525.85" y="194.82" width="6.45" height="8.15" fill="rgb(125,185,213)"/><rect x="525.85" y="186.97" width="6.45" height="8.15" fill="rgb(64,102,175)"/><rect x="525.85" y="179.12" width="6.45" height="8.15" fill="rgb(44,40,90)"/><rect x="525.85" y="171.27" width="6.45" height="8.15" fill="rgb(26,24,54)"/><rect x="525.85" y="163.42" width="6.45" height="8.15" fill="rgb(62,66,140)"/><rect x="525.85" y="155.57" width="6.45" height="8.15" fill="rgb(66,118,185)"/><rect x="525.85" y="147.72" width="6.45" height="8.15" fill="rgb(128,187,214)"/><rect x="525.85" y="139.87" width="6.45" height="8.15" fill="rgb(153,205,223)"/><rect x="525.85" y="132.02" width="6.45" height="8.15" fill="rgb(188,226,236)"/><rect x="525.85" y="124.17" width="6.45" height="8.15" fill="rgb(204,235,242)"/><rect x="525.85" y="116.32" width="6.45" height="8.15" fill="rgb(216,242,246)"/><rect x="525.85" y="108.47" width="6.45" height="8.15" fill="rgb(220,243,248)"/><rect x="525.85" y="100.62" width="6.45" height="8.15" fill="rgb(224,245,249)"/><rect x="532.00" y="210.52" width="6.45" height="8.15" fill="rgb(224,245,249)"/><rect x="532.00" y="202.67" width="6.45" height="8.15" fill="rgb(215,241,246)"/><rect x="532.00" y="194.82" width="6.45" height="8.15" fill="rgb(160,210,226)"/><rect x="532.00" y="186.97" width="6.45" height="8.15" fill="rgb(79,137,192)"/><rect x="532.00" y="179.12" width="6.45" height="8.15" fill="rgb(62,72,148)"/><rect x="532.00" y="171.27" width="6.45" height="8.15" fill="rgb(40,36,82)"/><rect x="532.00" y="163.42" width="6.45" height="8.15" fill="rgb(60,56,126)"/><rect x="532.00" y="155.57" width="6.45" height="8.15" fill="rgb(64,105,177)"/><rect x="532.00" y="147.72" width="6.45" height="8.15" fill="rgb(102,166,203)"/><rect x="532.00" y="139.87" width="6.45" height="8.15" fill="rgb(153,205,223)"/><rect x="532.00" y="132.02" width="6.45" height="8.15" fill="rgb(180,221,233)"/><rect x="532.00" y="124.17" width="6.45" height="8.15" fill="rgb(198,232,240)"/><rect x="532.00" y="116.32" width="6.45" height="8.15" fill="rgb(213,240,245)"/><rect x="532.00" y="108.47" width="6.45" height="8.15" fill="rgb(219,243,247)"/><rect x="532.00" y="100.62" width="6.45" height="8.15" fill="rgb(224,245,249)"/><rect x="538.15" y="202.67" width="6.45" height="8.15" fill="rgb(220,243,248)"/><rect x="538.15" y="194.82" width="6.45" height="8.15" fill="rgb(185,224,235)"/><rect x="538.15" y="186.97" width="6.45" height="8.15" fill="rgb(115,177,209)"/><rect x="538.15" y="179.12" width="6.45" height="8.15" fill="rgb(64,99,174)"/><rect x="538.15" y="171.27" width="6.45" height="8.15" fill="rgb(47,43,98)"/><rect x="538.15" y="163.42" width="6.45" height="8.15" fill="rgb(52,48,108)"/><rect x="538.15" y="155.57" width="6.45" height="8.15" fill="rgb(64,101,175)"/><rect x="538.15" y="147.72" width="6.45" height="8.15" fill="rgb(93,154,199)"/><rect x="538.15" y="139.87" width="6.45" height="8.15" fill="rgb(141,196,219)"/><rect x="538.15" y="132.02" width="6.45" height="8.15" fill="rgb(166,214,228)"/><rect x="538.15" y="124.17" width="6.45" height="8.15" fill="rgb(187,225,236)"/><rect x="538.15" y="116.32" width="6.45" height="8.15" fill="rgb(208,237,244)"/><rect x="538.15" y="108.47" width="6.45" height="8.15" fill="rgb(218,242,247)"/><rect x="538.15" y="100.62" width="6.45" height="8.15" fill="rgb(222,244,248)"/><rect x="544.30" y="202.67" width="6.45" height="8.15" fill="rgb(223,245,249)"/><rect x="544.30" y="194.82" width="6.45" height="8.15" fill="rgb(209,238,244)"/><rect x="544.30" y="186.97" width="6.45" height="8.15" fill="rgb(150,203,222)"/><rect x="544.30" y="179.12" width="6.45" height="8.15" fill="rgb(80,138,193)"/><rect x="544.30" y="171.27" width="6.45" height="8.15" fill="rgb(62,68,143)"/><rect x="544.30" y="163.42" width="6.45" height="8.15" fill="rgb(45,41,94)"/><rect x="544.30" y="155.57" width="6.45" height="8.15" fill="rgb(62,89,167)"/><rect x="544.30" y="147.72" width="6.45" height="8.15" fill="rgb(79,136,192)"/><rect x="544.30" y="139.87" width="6.45" height="8.15" fill="rgb(125,184,213)"/><rect x="544.30" y="132.02" width="6.45" height="8.15" fill="rgb(163,212,227)"/><rect x="544.30" y="124.17" width="6.45" height="8.15" fill="rgb(186,224,235)"/><rect x="544.30" y="116.32" width="6.45" height="8.15" fill="rgb(200,232,241)"/><rect x="544.30" y="108.47" width="6.45" height="8.15" fill="rgb(217,242,247)"/><rect x="544.30" y="100.62" width="6.45" height="8.15" fill="rgb(221,244,248)"/><rect x="544.30" y="92.77" width="6.45" height="8.15" fill="rgb(225,245,249)"/><rect x="550.45" y="194.82" width="6.45" height="8.15" fill="rgb(218,242,247)"/><rect x="550.45" y="186.97" width="6.45" height="8.15" fill="rgb(183,223,234)"/><rect x="550.45" y="179.12" width="6.45" height="8.15" fill="rgb(118,180,210)"/><rect x="550.45" y="171.27" width="6.45" height="8.15" fill="rgb(64,105,177)"/><rect x="550.45" y="163.42" width="6.45" height="8.15" fill="rgb(62,66,140)"/><rect x="550.45" y="155.57" width="6.45" height="8.15" fill="rgb(62,86,166)"/><rect x="550.45" y="147.72" width="6.45" height="8.15" fill="rgb(70,125,188)"/><rect x="550.45" y="139.87" width="6.45" height="8.15" fill="rgb(119,180,210)"/><rect x="550.45" y="132.02" width="6.45" height="8.15" fill="rgb(153,205,223)"/><rect x="550.45" y="124.17" width="6.45" height="8.15" fill="rgb(182,222,234)"/><rect x="550.45" y="116.32" width="6.45" height="8.15" fill="rgb(200,233,241)"/><rect x="550.45" y="108.47" width="6.45" height="8.15" fill="rgb(215,241,246)"/><rect x="550.45" y="100.62" width="6.45" height="8.15" fill="rgb(219,243,247)"/><rect x="550.45" y="92.77" width="6.45" height="8.15" fill="rgb(223,245,249)"/><rect x="556.60" y="194.82" width="6.45" height="8.15" fill="rgb(223,245,249)"/><rect x="556.60" y="186.97" width="6.45" height="8.15" fill="rgb(204,235,242)"/><rect x="556.60" y="179.12" width="6.45" height="8.15" fill="rgb(150,203,222)"/><rect x="556.60" y="171.27" width="6.45" height="8.15" fill="rgb(72,127,189)"/><rect x="556.60" y="163.42" width="6.45" height="8.15" fill="rgb(62,85,165)"/><rect x="556.60" y="155.57" width="6.45" height="8.15" fill="rgb(62,70,145)"/><rect x="556.60" y="147.72" width="6.45" height="8.15" fill="rgb(66,117,184)"/><rect x="556.60" y="139.87" width="6.45" height="8.15" fill="rgb(107,172,206)"/><rect x="556.60" y="132.02" width="6.45" height="8.15" fill="rgb(151,203,223)"/><rect x="556.60" y="124.17" width="6.45" height="8.15" fill="rgb(176,219,232)"/><rect x="556.60" y="116.32" width="6.45" height="8.15" fill="rgb(197,231,239)"/><rect x="556.60" y="108.47" width="6.45" height="8.15" fill="rgb(213,240,245)"/><rect x="556.60" y="100.62" width="6.45" height="8.15" fill="rgb(218,242,247)"/><rect x="556.60" y="92.77" width="6.45" height="8.15" fill="rgb(223,245,249)"/><rect x="562.75" y="194.82" width="6.45" height="8.15" fill="rgb(225,246,249)"/><rect x="562.75" y="186.97" width="6.45" height="8.15" fill="rgb(217,242,247)"/><rect x="562.75" y="179.12" width="6.45" height="8.15" fill="rgb(179,220,233)"/><rect x="562.75" y="171.27" width="6.45" height="8.15" fill="rgb(114,177,208)"/><rect x="562.75" y="163.42" width="6.45" height="8.15" fill="rgb(65,113,182)"/><rect x="562.75" y="155.57" width="6.45" height="8.15" fill="rgb(62,89,168)"/><rect x="562.75" y="147.72" width="6.45" height="8.15" fill="rgb(64,101,174)"/><rect x="562.75" y="139.87" width="6.45" height="8.15" fill="rgb(98,161,202)"/><rect x="562.75" y="132.02" width="6.45" height="8.15" fill="rgb(145,199,220)"/><rect x="562.75" y="124.17" width="6.45" height="8.15" fill="rgb(165,213,228)"/><rect x="562.75" y="116.32" width="6.45" height="8.15" fill="rgb(188,226,236)"/><rect x="562.75" y="108.47" width="6.45" height="8.15" fill="rgb(208,237,243)"/><rect x="562.75" y="100.62" width="6.45" height="8.15" fill="rgb(216,241,246)"/><rect x="562.75" y="92.77" width="6.45" height="8.15" fill="rgb(221,244,248)"/><rect x="562.75" y="84.92" width="6.45" height="8.15" fill="rgb(224,245,249)"/><rect x="568.90" y="186.97" width="6.45" height="8.15" fill="rgb(222,244,248)"/><rect x="568.90" y="179.12" width="6.45" height="8.15" fill="rgb(201,233,241)"/><rect x="568.90" y="171.27" width="6.45" height="8.15" fill="rgb(142,197,219)"/><rect x="568.90" y="163.42" width="6.45" height="8.15" fill="rgb(74,130,190)"/><rect x="568.90" y="155.57" width="6.45" height="8.15" fill="rgb(65,107,178)"/><rect x="568.90" y="147.72" width="6.45" height="8.15" fill="rgb(63,97,172)"/><rect x="568.90" y="139.87" width="6.45" height="8.15" fill="rgb(87,148,196)"/><rect x="568.90" y="132.02" width="6.45" height="8.15" fill="rgb(131,189,215)"/><rect x="568.90" y="124.17" width="6.45" height="8.15" fill="rgb(162,211,227)"/><rect x="568.90" y="116.32" width="6.45" height="8.15" fill="rgb(183,223,234)"/><rect x="568.90" y="108.47" width="6.45" height="8.15" fill="rgb(203,234,242)"/><rect x="568.90" y="100.62" width="6.45" height="8.15" fill="rgb(216,241,246)"/><rect x="568.90" y="92.77" width="6.45" height="8.15" fill="rgb(219,243,247)"/><rect x="568.90" y="84.92" width="6.45" height="8.15" fill="rgb(224,245,249)"/><rect x="575.05" y="186.97" width="6.45" height="8.15" fill="rgb(225,245,249)"/><rect x="575.05" y="179.12" width="6.45" height="8.15" fill="rgb(216,241,246)"/><rect x="575.05" y="171.27" width="6.45" height="8.15" fill="rgb(176,219,232)"/><rect x="575.05" y="163.42" width="6.45" height="8.15" fill="rgb(108,172,206)"/><rect x="575.05" y="155.57" width="6.45" height="8.15" fill="rgb(66,117,184)"/><rect x="575.05" y="147.72" width="6.45" height="8.15" fill="rgb(64,106,177)"/><rect x="575.05" y="139.87" width="6.45" height="8.15" fill="rgb(75,131,190)"/><rect x="575.05" y="132.02" width="6.45" height="8.15" fill="rgb(126,186,213)"/><rect x="575.05" y="124.17" width="6.45" height="8.15" fill="rgb(155,207,224)"/><rect x="575.05" y="116.32" width="6.45" height="8.15" fill="rgb(184,223,235)"/><rect x="575.05" y="108.47" width="6.45" height="8.15" fill="rgb(199,232,240)"/><rect x="575.05" y="100.62" width="6.45" height="8.15" fill="rgb(214,240,246)"/><rect x="575.05" y="92.77" width="6.45" height="8.15" fill="rgb(219,243,247)"/><rect x="575.05" y="84.92" width="6.45" height="8.15" fill="rgb(222,244,248)"/><rect x="581.20" y="179.12" width="6.45" height="8.15" fill="rgb(221,244,248)"/><rect x="581.20" y="171.27" width="6.45" height="8.15" fill="rgb(195,230,239)"/><rect x="581.20" y="163.42" width="6.45" height="8.15" fill="rgb(139,195,218)"/><rect x="581.20" y="155.57" width="6.45" height="8.15" fill="rgb(83,142,194)"/><rect x="581.20" y="147.72" width="6.45" height="8.15" fill="rgb(65,113,182)"/><rect x="581.20" y="139.87" width="6.45" height="8.15" fill="rgb(72,128,189)"/><rect x="581.20" y="132.02" width="6.45" height="8.15" fill="rgb(113,175,208)"/><rect x="581.20" y="124.17" width="6.45" height="8.15" fill="rgb(152,204,223)"/><rect x="581.20" y="116.32" width="6.45" height="8.15" fill="rgb(182,223,234)"/><rect x="581.20" y="108.47" width="6.45" height="8.15" fill="rgb(195,230,239)"/><rect x="581.20" y="100.62" width="6.45" height="8.15" fill="rgb(210,238,244)"/><rect x="581.20" y="92.77" width="6.45" height="8.15" fill="rgb(217,242,247)"/><rect x="581.20" y="84.92" width="6.45" height="8.15" fill="rgb(222,244,248)"/><rect x="581.20" y="77.08" width="6.45" height="8.15" fill="rgb(225,246,249)"/><rect x="587.35" y="179.12" width="6.45" height="8.15" fill="rgb(224,245,249)"/><rect x="587.35" y="171.27" width="6.45" height="8.15" fill="rgb(215,241,246)"/><rect x="587.35" y="163.42" width="6.45" height="8.15" fill="rgb(169,215,229)"/><rect x="587.35" y="155.57" width="6.45" height="8.15" fill="rgb(104,168,204)"/><rect x="587.35" y="147.72" width="6.45" height="8.15" fill="rgb(76,132,191)"/><rect x="587.35" y="139.87" width="6.45" height="8.15" fill="rgb(84,143,195)"/><rect x="587.35" y="132.02" width="6.45" height="8.15" fill="rgb(108,172,206)"/><rect x="587.35" y="124.17" width="6.45" height="8.15" fill="rgb(147,201,221)"/><rect x="587.35" y="116.32" width="6.45" height="8.15" fill="rgb(172,217,230)"/><rect x="587.35" y="108.47" width="6.45" height="8.15" fill="rgb(190,227,237)"/><rect x="587.35" y="100.62" width="6.45" height="8.15" fill="rgb(207,237,243)"/><rect x="587.35" y="92.77" width="6.45" height="8.15" fill="rgb(217,242,247)"/><rect x="587.35" y="84.92" width="6.45" height="8.15" fill="rgb(221,244,248)"/><rect x="587.35" y="77.08" width="6.45" height="8.15" fill="rgb(224,245,249)"/><rect x="593.50" y="171.27" width="6.45" height="8.15" fill="rgb(220,243,248)"/><rect x="593.50" y="163.42" width="6.45" height="8.15" fill="rgb(200,232,241)"/><rect x="593.50" y="155.57" width="6.45" height="8.15" fill="rgb(140,195,218)"/><rect x="593.50" y="147.72" width="6.45" height="8.15" fill="rgb(90,151,198)"/><rect x="593.50" y="139.87" width="6.45" height="8.15" fill="rgb(81,139,193)"/><rect x="593.50" y="132.02" width="6.45" height="8.15" fill="rgb(95,157,200)"/><rect x="593.50" y="124.17" width="6.45" height="8.15" fill="rgb(145,199,220)"/><rect x="593.50" y="116.32" width="6.45" height="8.15" fill="rgb(168,214,229)"/><rect x="593.50" y="108.47" width="6.45" height="8.15" fill="rgb(190,227,237)"/><rect x="593.50" y="100.62" width="6.45" height="8.15" fill="rgb(208,237,243)"/><rect x="593.50" y="92.77" width="6.45" height="8.15" fill="rgb(217,242,247)"/><rect x="593.50" y="84.92" width="6.45" height="8.15" fill="rgb(220,243,248)"/><rect x="593.50" y="77.08" width="6.45" height="8.15" fill="rgb(223,245,249)"/><rect x="599.65" y="171.27" width="6.45" height="8.15" fill="rgb(223,245,249)"/><rect x="599.65" y="163.42" width="6.45" height="8.15" fill="rgb(214,240,246)"/><rect x="599.65" y="155.57" width="6.45" height="8.15" fill="rgb(169,215,229)"/><rect x="599.65" y="147.72" width="6.45" height="8.15" fill="rgb(119,181,211)"/><rect x="599.65" y="139.87" width="6.45" height="8.15" fill="rgb(96,158,201)"/><rect x="599.65" y="132.02" width="6.45" height="8.15" fill="rgb(92,154,199)"/><rect x="599.65" y="124.17" width="6.45" height="8.15" fill="rgb(133,190,216)"/><rect x="599.65" y="116.32" width="6.45" height="8.15" fill="rgb(165,213,228)"/><rect x="599.65" y="108.47" width="6.45" height="8.15" fill="rgb(191,228,237)"/><rect x="599.65" y="100.62" width="6.45" height="8.15" fill="rgb(202,234,241)"/><rect x="599.65" y="92.77" width="6.45" height="8.15" fill="rgb(212,239,245)"/><rect x="599.65" y="84.92" width="6.45" height="8.15" fill="rgb(219,243,247)"/><rect x="599.65" y="77.08" width="6.45" height="8.15" fill="rgb(223,245,249)"/><rect x="605.80" y="163.42" width="6.45" height="8.15" fill="rgb(221,244,248)"/><rect x="605.80" y="155.57" width="6.45" height="8.15" fill="rgb(193,229,238)"/><rect x="605.80" y="147.72" width="6.45" height="8.15" fill="rgb(140,196,218)"/><rect x="605.80" y="139.87" width="6.45" height="8.15" fill="rgb(100,164,203)"/><rect x="605.80" y="132.02" width="6.45" height="8.15" fill="rgb(95,157,200)"/><rect x="605.80" y="124.17" width="6.45" height="8.15" fill="rgb(132,190,215)"/><rect x="605.80" y="116.32" width="6.45" height="8.15" fill="rgb(170,215,230)"/><rect x="605.80" y="108.47" width="6.45" height="8.15" fill="rgb(188,226,236)"/><rect x="605.80" y="100.62" width="6.45" height="8.15" fill="rgb(199,232,240)"/><rect x="605.80" y="92.77" width="6.45" height="8.15" fill="rgb(214,241,246)"/><rect x="605.80" y="84.92" width="6.45" height="8.15" fill="rgb(218,242,247)"/><rect x="605.80" y="77.08" width="6.45" height="8.15" fill="rgb(221,244,248)"/><rect x="605.80" y="69.22" width="6.45" height="8.15" fill="rgb(225,246,249)"/><rect x="611.95" y="163.42" width="6.45" height="8.15" fill="rgb(224,245,249)"/><rect x="611.95" y="155.57" width="6.45" height="8.15" fill="rgb(216,241,246)"/><rect x="611.95" y="147.72" width="6.45" height="8.15" fill="rgb(169,215,229)"/><rect x="611.95" y="139.87" width="6.45" height="8.15" fill="rgb(127,186,213)"/><rect x="611.95" y="132.02" width="6.45" height="8.15" fill="rgb(105,170,205)"/><rect x="611.95" y="124.17" width="6.45" height="8.15" fill="rgb(128,187,214)"/><rect x="611.95" y="116.32" width="6.45" height="8.15" fill="rgb(160,210,226)"/><rect x="611.95" y="108.47" width="6.45" height="8.15" fill="rgb(190,227,237)"/><rect x="611.95" y="100.62" width="6.45" height="8.15" fill="rgb(204,235,242)"/><rect x="611.95" y="92.77" width="6.45" height="8.15" fill="rgb(208,237,244)"/><rect x="611.95" y="84.92" width="6.45" height="8.15" fill="rgb(218,242,247)"/><rect x="611.95" y="77.08" width="6.45" height="8.15" fill="rgb(222,244,248)"/><rect x="611.95" y="69.22" width="6.45" height="8.15" fill="rgb(224,245,249)"/><rect x="618.10" y="155.57" width="6.45" height="8.15" fill="rgb(220,244,248)"/><rect x="618.10" y="147.72" width="6.45" height="8.15" fill="rgb(198,232,240)"/><rect x="618.10" y="139.87" width="6.45" height="8.15" fill="rgb(153,205,224)"/><rect x="618.10" y="132.02" width="6.45" height="8.15" fill="rgb(126,185,213)"/><rect x="618.10" y="124.17" width="6.45" height="8.15" fill="rgb(125,184,213)"/><rect x="618.10" y="116.32" width="6.45" height="8.15" fill="rgb(152,204,223)"/><rect x="618.10" y="108.47" width="6.45" height="8.15" fill="rgb(185,224,235)"/><rect x="618.10" y="100.62" width="6.45" height="8.15" fill="rgb(197,231,239)"/><rect x="618.10" y="92.77" width="6.45" height="8.15" fill="rgb(208,237,243)"/><rect x="618.10" y="84.92" width="6.45" height="8.15" fill="rgb(218,242,247)"/><rect x="618.10" y="77.08" width="6.45" height="8.15" fill="rgb(220,243,248)"/><rect x="618.10" y="69.22" width="6.45" height="8.15" fill="rgb(224,245,249)"/><rect x="624.25" y="155.57" width="6.45" height="8.15" fill="rgb(223,245,249)"/><rect x="624.25" y="147.72" width="6.45" height="8.15" fill="rgb(213,240,245)"/><rect x="624.25" y="139.87" width="6.45" height="8.15" fill="rgb(172,217,230)"/><rect x="624.25" y="132.02" width="6.45" height="8.15" fill="rgb(129,188,214)"/><rect x="624.25" y="124.17" width="6.45" height="8.15" fill="rgb(135,192,217)"/><rect x="624.25" y="116.32" width="6.45" height="8.15" fill="rgb(156,207,225)"/><rect x="624.25" y="108.47" width="6.45" height="8.15" fill="rgb(180,221,233)"/><rect x="624.25" y="100.62" width="6.45" height="8.15" fill="rgb(196,230,239)"/><rect x="624.25" y="92.77" width="6.45" height="8.15" fill="rgb(208,237,244)"/><rect x="624.25" y="84.92" width="6.45" height="8.15" fill="rgb(217,242,247)"/><rect x="624.25" y="77.08" width="6.45" height="8.15" fill="rgb(220,243,248)"/><rect x="624.25" y="69.22" width="6.45" height="8.15" fill="rgb(223,245,249)"/><rect x="630.40" y="147.72" width="6.45" height="8.15" fill="rgb(219,243,247)"/><rect x="630.40" y="139.87" width="6.45" height="8.15" fill="rgb(194,229,238)"/><rect x="630.40" y="132.02" width="6.45" height="8.15" fill="rgb(154,205,224)"/><rect x="630.40" y="124.17" width="6.45" height="8.15" fill="rgb(137,194,217)"/><rect x="630.40" y="116.32" width="6.45" height="8.15" fill="rgb(152,204,223)"/><rect x="630.40" y="108.47" width="6.45" height="8.15" fill="rgb(176,219,232)"/><rect x="630.40" y="100.62" width="6.45" height="8.15" fill="rgb(199,232,240)"/><rect x="630.40" y="92.77" width="6.45" height="8.15" fill="rgb(209,237,244)"/><rect x="630.40" y="84.92" width="6.45" height="8.15" fill="rgb(217,242,247)"/><rect x="630.40" y="77.08" width="6.45" height="8.15" fill="rgb(220,243,248)"/><rect x="630.40" y="69.22" width="6.45" height="8.15" fill="rgb(223,245,249)"/><rect x="636.55" y="147.72" width="6.45" height="8.15" fill="rgb(223,245,249)"/><rect x="636.55" y="139.87" width="6.45" height="8.15" fill="rgb(215,241,246)"/><rect x="636.55" y="132.02" width="6.45" height="8.15" fill="rgb(181,222,234)"/><rect x="636.55" y="124.17" width="6.45" height="8.15" fill="rgb(150,203,222)"/><rect x="636.55" y="116.32" width="6.45" height="8.15" fill="rgb(146,199,220)"/><rect x="636.55" y="108.47" width="6.45" height="8.15" fill="rgb(171,216,230)"/><rect x="636.55" y="100.62" width="6.45" height="8.15" fill="rgb(195,230,239)"/><rect x="636.55" y="92.77" width="6.45" height="8.15" fill="rgb(212,239,245)"/><rect x="636.55" y="84.92" width="6.45" height="8.15" fill="rgb(216,242,246)"/><rect x="636.55" y="77.08" width="6.45" height="8.15" fill="rgb(218,243,247)"/><rect x="636.55" y="69.22" width="6.45" height="8.15" fill="rgb(222,244,248)"/><rect x="642.70" y="139.87" width="6.45" height="8.15" fill="rgb(220,243,248)"/><rect x="642.70" y="132.02" width="6.45" height="8.15" fill="rgb(199,232,240)"/><rect x="642.70" y="124.17" width="6.45" height="8.15" fill="rgb(167,214,229)"/><rect x="642.70" y="116.32" width="6.45" height="8.15" fill="rgb(159,209,225)"/><rect x="642.70" y="108.47" width="6.45" height="8.15" fill="rgb(173,217,231)"/><rect x="642.70" y="100.62" width="6.45" height="8.15" fill="rgb(196,230,239)"/><rect x="642.70" y="92.77" width="6.45" height="8.15" fill="rgb(208,237,243)"/><rect x="642.70" y="84.92" width="6.45" height="8.15" fill="rgb(216,241,246)"/><rect x="642.70" y="77.08" width="6.45" height="8.15" fill="rgb(219,243,247)"/><rect x="642.70" y="69.22" width="6.45" height="8.15" fill="rgb(222,244,248)"/>
</g>
<rect x="634" y="73.0" width="6.5" height="236.0" fill="url(#hright)"/>
<rect x="287.6" y="73.0" width="352.9" height="7" fill="url(#htop)"/>
</g>
<path d="M287.9,74.0 V308.8 H639.0" fill="none" stroke="#9ea9ad" stroke-width="1.9"/>
<path d="M287.9,112.6 h10 M287.9,191.0 h10 M287.9,269.4 h10 M300.3,309.0 v-10.5 M461.6,309.0 v-10.5 M623.0,309.0 v-10.5" fill="none" stroke="#6d777b" stroke-width="1.3"/>
<path d="M288.0,269.4 H294.6 M296.2,261.5 H312.8 M314.6,253.7 H331.2 M333.1,245.8 H349.7 M351.6,238.0 H368.2 M370.0,230.1 H386.6 M388.4,222.3 H405.1 M406.9,214.4 H423.5 M425.3,206.6 H441.9 M443.8,198.8 H460.4 M462.2,190.9 H478.8 M480.7,183.0 H497.3 M499.1,175.2 H515.8 M517.6,167.3 H534.2 M536.1,159.5 H552.6 M554.5,151.6 H571.1 M573.0,143.8 H589.5 M591.4,135.9 H608.0 M609.9,128.1 H626.4 M628.3,120.2 H639.3" stroke="#db4f1a" stroke-width="4.4" stroke-linecap="round" fill="none"/>
<g stroke="#000" stroke-width="0.3">
<path d="M312.2,101.5 H338.8" stroke="#db4f1a" stroke-width="3.8"/>
<text x="347.08" y="111.70" font-size="26.5" textLength="88.16" lengthAdjust="spacingAndGlyphs" >Design</text>
<text x="245.94" y="122.00" font-size="22.3" textLength="29.39" lengthAdjust="spacingAndGlyphs" >50</text>
<text x="246.40" y="200.90" font-size="22.3" textLength="28.91" lengthAdjust="spacingAndGlyphs" >40</text>
<text x="246.00" y="278.20" font-size="22.3" textLength="29.33" lengthAdjust="spacingAndGlyphs" >30</text>
<text x="282.49" y="347.60" font-size="22.3" textLength="44.04" lengthAdjust="spacingAndGlyphs" >440</text>
<text x="446.82" y="347.60" font-size="22.3" textLength="45.14" lengthAdjust="spacingAndGlyphs" >500</text>
<text x="608.33" y="347.60" font-size="22.3" textLength="44.51" lengthAdjust="spacingAndGlyphs" >560</text>
<text x="362.42" y="406.00" font-size="26.5" textLength="208.10" lengthAdjust="spacingAndGlyphs" >Frequency (THz)</text>
<text transform="translate(220.5 206.5) rotate(-90) skewX(-8)" stroke="none" font-size="41" font-style="italic" style="font-family:'Liberation Serif',serif">ℓ</text>
<rect x="656.0" y="150.2" width="21.4" height="114.6" fill="url(#cbar)" stroke="#000" stroke-width="1.5"/>
<text x="658.30" y="140.00" font-size="22.3" >1</text>
<text x="659.88" y="289.50" font-size="22.3" textLength="15.94" lengthAdjust="spacingAndGlyphs" >0</text>
<g transform="translate(699.50 116.00) rotate(90)">
<text x="-2.63" y="0.00" font-size="27" textLength="180.39" lengthAdjust="spacingAndGlyphs" >Intensity (a.u.)</text>
</g>
</g>
<g clip-path="url(#clip2)">
<path d="M892.8,221.1C891.2,219.6 896.5,215.4 899.1,212.4C901.8,209.3 906.2,206.8 908.7,202.8C911.2,198.8 912.3,193.2 914.3,188.5C916.3,183.7 918.7,178.9 920.7,174.1C922.7,169.3 924.5,164.5 926.3,159.7C928.0,155.0 929.4,150.4 931.0,145.4C932.6,140.3 933.7,133.7 935.8,129.4C937.9,125.2 941.1,123.3 943.8,119.9C946.5,116.4 949.6,112.0 951.8,108.7C953.9,105.4 953.6,102.2 956.6,99.9C959.5,97.7 965.5,96.1 969.3,95.2C973.2,94.2 977.6,93.8 979.7,94.0C981.8,94.2 980.3,95.6 982.1,96.3C983.8,97.0 988.3,97.4 990.0,98.3C991.8,99.3 990.0,100.9 992.4,101.9C994.8,102.8 1001.1,103.0 1004.4,103.9C1007.7,104.8 1011.8,106.0 1012.4,107.1C1012.9,108.2 1009.7,108.8 1007.6,110.6C1005.5,112.5 1001.7,115.1 999.6,118.3C997.5,121.4 996.2,125.7 994.8,129.4C993.5,133.2 993.0,136.6 991.6,140.6C990.3,144.6 988.7,148.8 986.9,153.4C985.0,157.9 982.6,163.2 980.5,167.7C978.4,172.2 976.5,176.2 974.1,180.5C971.7,184.7 968.8,189.3 966.1,193.2C963.5,197.2 961.3,201.2 958.1,204.4C955.0,207.6 951.5,210.0 947.0,212.4C942.5,214.8 937.4,217.2 931.0,218.8C924.7,220.3 915.1,221.2 908.7,221.6C902.3,222.0 894.4,222.7 892.8,221.1Z" fill="#c9c9c9" filter="url(#rough2)" />
<path d="M1106.5,112.7C1107.5,111.5 1111.4,113.8 1113.2,115.6C1115.1,117.5 1116.2,120.7 1117.7,123.8C1119.2,126.9 1120.5,130.8 1122.2,134.3C1123.8,137.8 1125.9,141.2 1127.4,144.7C1128.9,148.2 1130.0,151.7 1131.1,155.1C1132.2,158.6 1133.2,161.8 1134.1,165.6C1135.0,169.3 1135.5,175.0 1136.3,177.5C1137.1,180.0 1138.1,178.0 1138.9,180.5C1139.6,183.0 1140.3,187.2 1140.8,192.4C1141.2,197.6 1142.8,207.6 1141.5,211.8C1140.3,216.0 1135.1,215.7 1133.3,217.7C1131.6,219.7 1133.0,222.1 1131.1,223.7C1129.2,225.3 1125.4,226.7 1122.2,227.4C1118.9,228.2 1114.7,229.5 1111.7,228.2C1108.7,226.8 1106.8,222.5 1104.3,219.2C1101.8,216.0 1099.2,213.1 1096.8,208.8C1094.5,204.4 1089.6,194.4 1090.1,193.1C1090.6,191.9 1096.7,199.0 1099.8,201.3C1102.9,203.7 1106.0,206.8 1108.7,207.3C1111.5,207.8 1114.2,206.1 1116.2,204.3C1118.2,202.6 1119.6,199.9 1120.7,196.9C1121.8,193.9 1122.5,190.2 1122.9,186.4C1123.3,182.7 1123.2,178.5 1122.9,174.5C1122.7,170.5 1122.0,166.6 1121.4,162.6C1120.8,158.6 1120.3,154.6 1119.2,150.7C1118.1,146.7 1116.4,142.2 1114.7,138.7C1113.0,135.3 1111.0,132.0 1108.7,129.8C1106.5,127.6 1102.4,126.5 1101.3,125.3C1100.2,124.2 1101.0,123.6 1102.0,123.1C1103.0,122.6 1106.5,124.1 1107.3,122.4C1108.0,120.6 1105.5,113.8 1106.5,112.7Z" fill="#bbbbbb" filter="url(#rough2)" />
<path d="M1087.9,120.9C1088.6,120.2 1091.4,119.5 1093.1,119.7C1094.8,119.8 1097.6,120.8 1098.3,121.6C1099.1,122.4 1098.6,124.0 1097.6,124.6C1096.6,125.2 1093.8,125.5 1092.4,125.3C1090.9,125.2 1089.4,124.3 1088.6,123.5C1087.9,122.8 1087.1,121.5 1087.9,120.9Z" fill="#bbbbbb" filter="url(#rough2)" />
<path d="M942.9,298.9C942.8,297.4 944.9,296.1 947.2,295.0C949.6,294.0 953.3,293.2 956.8,292.6C960.3,292.1 963.8,291.9 968.3,291.7C972.8,291.5 978.9,291.5 983.6,291.4C988.4,291.2 992.9,290.7 997.0,290.7C1001.2,290.7 1005.0,290.7 1008.5,291.2C1012.1,291.7 1015.2,293.4 1018.1,293.6C1021.0,293.7 1023.6,293.0 1025.8,292.1C1028.0,291.3 1029.9,289.9 1031.5,288.3C1033.1,286.7 1033.1,284.0 1035.4,282.6C1037.6,281.1 1041.7,280.4 1044.9,279.7C1048.1,279.0 1051.6,278.7 1054.5,278.3C1057.4,277.9 1059.9,277.1 1062.2,277.3C1064.4,277.5 1066.0,278.8 1067.9,279.7C1069.8,280.6 1072.3,281.3 1073.7,282.6C1075.0,283.8 1076.2,285.8 1076.1,287.4C1075.9,289.0 1074.4,290.4 1072.7,292.1C1071.0,293.9 1068.4,296.0 1066.0,297.9C1063.6,299.8 1060.9,301.9 1058.4,303.6C1055.8,305.4 1053.2,307.0 1050.7,308.4C1048.1,309.9 1045.6,310.8 1043.0,312.3C1040.5,313.7 1038.2,315.9 1035.4,317.0C1032.5,318.2 1028.7,318.8 1025.8,319.4C1022.9,320.1 1021.3,320.7 1018.1,320.7C1014.9,320.7 1010.1,320.0 1006.6,319.4C1003.1,318.9 1000.2,318.2 997.0,317.5C993.9,316.8 991.0,316.0 987.5,315.1C984.0,314.3 979.5,313.2 976.0,312.3C972.5,311.3 969.6,310.3 966.4,309.4C963.2,308.4 959.9,307.5 956.8,306.5C953.8,305.6 950.5,304.9 948.2,303.6C945.9,302.4 943.1,300.3 942.9,298.9Z" fill="#cfcfcf" filter="url(#rough2)" />
<path d="M1030.1,273.9C1030.4,272.7 1031.3,271.5 1033.4,270.6C1035.6,269.7 1039.7,269.2 1043.0,268.7C1046.4,268.1 1051.2,267.2 1053.6,267.2C1056.0,267.3 1057.1,268.0 1057.4,269.2C1057.7,270.3 1057.2,272.8 1055.5,273.9C1053.7,275.1 1049.9,275.2 1046.9,275.9C1043.8,276.5 1039.8,277.5 1037.3,277.8C1034.7,278.1 1032.7,278.4 1031.5,277.8C1030.3,277.1 1029.8,275.1 1030.1,273.9Z" fill="#cfcfcf" filter="url(#rough2)" />
</g>
<g clip-path="url(#clip2)">
<path d="M896.8,271.7V68.2M896.8,271.7l121.7,73.8M955.9,256.4V52.9M955.9,256.4l121.7,73.8M1015.0,241.2V37.7M1015.0,241.2l121.7,73.8M1061.9,242.1V38.6M875.6,290.1l186.3,-48.0M1092.2,260.5V57.0M905.9,308.5l186.3,-48.0M1122.5,278.8V75.3M936.2,326.8l186.3,-48.0M1152.8,297.2V93.7M966.5,345.2l186.3,-48.0M860.6,113.5l186.3,-48.0l121.7,73.8M860.6,164.8l186.3,-48.0l121.7,73.8M860.6,216.0l186.3,-48.0l121.7,73.8M860.6,267.3l186.3,-48.0l121.7,73.8" fill="none" stroke="#000" stroke-opacity="0.12" stroke-width="1"/>
<path d="M860.6,77.5V281.5" fill="none" stroke="#6a6a6a" stroke-width="1.7"/><path d="M860.6,281.0L982.3,354.8L1168.6,306.8M860.6,113.5l-3.6,-2.2M860.6,164.8l-3.6,-2.2M860.6,216.0l-3.6,-2.2M875.6,290.1l-4.1,1.0M905.9,308.5l-4.1,1.0M936.2,326.8l-4.1,1.0M1018.5,345.5l3.6,2.2M1077.6,330.2l3.6,2.2M1136.7,315.0l3.6,2.2" fill="none" stroke="#4a4a4a" stroke-width="1.2"/>
</g>
<g filter="url(#rough)">
<path d="M1028.9,133.6C1031.1,132.2 1034.7,131.3 1038.5,131.2C1042.2,131.0 1047.0,131.6 1051.2,132.8C1055.5,134.0 1060.4,136.2 1064.0,138.3C1067.6,140.5 1070.7,142.7 1072.7,145.5C1074.7,148.3 1075.7,151.9 1075.9,155.1C1076.2,158.3 1075.3,161.7 1074.3,164.7C1073.4,167.6 1071.3,168.9 1070.4,172.6C1069.4,176.4 1069.8,182.5 1068.8,187.0C1067.7,191.5 1065.8,195.5 1064.0,199.7C1062.1,204.0 1060.2,208.0 1057.6,212.5C1054.9,217.0 1051.2,222.6 1048.0,226.9C1044.8,231.1 1041.6,234.6 1038.5,238.0C1035.3,241.5 1032.6,244.8 1028.9,247.6C1025.2,250.4 1020.9,252.9 1016.1,254.8C1011.3,256.6 1005.5,257.7 1000.2,258.8C994.9,259.8 989.8,260.9 984.2,261.1C978.6,261.4 972.0,261.3 966.7,260.4C961.4,259.4 955.9,257.7 952.3,255.6C948.7,253.4 946.6,250.5 945.2,247.6C943.7,244.7 943.2,240.8 943.6,238.0C944.0,235.2 945.3,232.6 947.5,230.8C949.8,229.1 952.6,228.1 957.1,227.7C961.6,227.3 969.1,227.9 974.7,228.5C980.2,229.0 986.1,230.3 990.6,230.8C995.1,231.4 998.8,232.8 1001.8,231.6C1004.7,230.4 1006.4,227.4 1008.1,223.7C1009.9,219.9 1010.9,214.4 1012.1,209.3C1013.3,204.3 1014.5,198.7 1015.3,193.4C1016.1,188.0 1016.3,182.5 1016.9,177.4C1017.6,172.4 1018.5,167.8 1019.3,163.1C1020.1,158.3 1020.8,152.7 1021.7,148.7C1022.6,144.7 1023.7,141.7 1024.9,139.1C1026.1,136.6 1026.6,134.9 1028.9,133.6Z" fill="#4f9df1"/>
<g clip-path="url(#bc2)"><use href="#jf" transform="matrix(1.0000 0 0 1.0000 0.00 0.00)"/></g>
<path d="M1028.9,133.6C1031.1,132.2 1034.7,131.3 1038.5,131.2C1042.2,131.0 1047.0,131.6 1051.2,132.8C1055.5,134.0 1060.4,136.2 1064.0,138.3C1067.6,140.5 1070.7,142.7 1072.7,145.5C1074.7,148.3 1075.7,151.9 1075.9,155.1C1076.2,158.3 1075.3,161.7 1074.3,164.7C1073.4,167.6 1071.3,168.9 1070.4,172.6C1069.4,176.4 1069.8,182.5 1068.8,187.0C1067.7,191.5 1065.8,195.5 1064.0,199.7C1062.1,204.0 1060.2,208.0 1057.6,212.5C1054.9,217.0 1051.2,222.6 1048.0,226.9C1044.8,231.1 1041.6,234.6 1038.5,238.0C1035.3,241.5 1032.6,244.8 1028.9,247.6C1025.2,250.4 1020.9,252.9 1016.1,254.8C1011.3,256.6 1005.5,257.7 1000.2,258.8C994.9,259.8 989.8,260.9 984.2,261.1C978.6,261.4 972.0,261.3 966.7,260.4C961.4,259.4 955.9,257.7 952.3,255.6C948.7,253.4 946.6,250.5 945.2,247.6C943.7,244.7 943.2,240.8 943.6,238.0C944.0,235.2 945.3,232.6 947.5,230.8C949.8,229.1 952.6,228.1 957.1,227.7C961.6,227.3 969.1,227.9 974.7,228.5C980.2,229.0 986.1,230.3 990.6,230.8C995.1,231.4 998.8,232.8 1001.8,231.6C1004.7,230.4 1006.4,227.4 1008.1,223.7C1009.9,219.9 1010.9,214.4 1012.1,209.3C1013.3,204.3 1014.5,198.7 1015.3,193.4C1016.1,188.0 1016.3,182.5 1016.9,177.4C1017.6,172.4 1018.5,167.8 1019.3,163.1C1020.1,158.3 1020.8,152.7 1021.7,148.7C1022.6,144.7 1023.7,141.7 1024.9,139.1C1026.1,136.6 1026.6,134.9 1028.9,133.6Z" fill="none" stroke="#24579f" stroke-width="0.8" stroke-opacity="0.85"/>
</g>
<path d="M1360.0,213.8C1358.0,212.7 1366.2,212.7 1368.0,210.0C1369.8,207.3 1370.9,201.7 1370.5,197.5C1370.1,193.3 1366.8,189.6 1365.5,185.0C1364.2,180.4 1362.4,175.8 1362.5,170.0C1362.6,164.2 1366.5,156.2 1366.2,150.0C1366.0,143.8 1360.6,137.1 1361.2,132.5C1361.9,127.9 1366.0,126.5 1370.0,122.5C1374.0,118.5 1380.6,111.6 1385.0,108.8C1389.4,105.9 1392.5,105.9 1396.2,105.5C1400.0,105.1 1403.5,104.8 1407.5,106.2C1411.5,107.8 1417.5,111.4 1420.0,114.5C1422.5,117.6 1421.7,120.8 1422.5,125.0C1423.3,129.2 1422.9,135.0 1425.0,140.0C1427.1,145.0 1432.5,148.3 1435.0,155.0C1437.5,161.7 1440.0,171.7 1440.0,180.0C1440.0,188.3 1438.3,198.8 1435.0,205.0C1431.7,211.2 1425.8,214.8 1420.0,217.0C1414.2,219.2 1406.7,218.1 1400.0,218.0C1393.3,217.9 1386.7,217.0 1380.0,216.2C1373.3,215.5 1362.0,214.8 1360.0,213.8Z" fill="#d3d3d3" filter="url(#rough2)" />
<path d="M1380,220.5l24,-4M1384,223.5l22,-3.6M1390,226.5l16,-2.6" stroke="#c4c4c4" stroke-width="1" fill="none"/>
<path d="M1395.0,286.2C1395.0,284.6 1400.8,282.1 1405.0,280.0C1409.2,277.9 1414.2,275.2 1420.0,273.8C1425.8,272.3 1434.2,271.5 1440.0,271.2C1445.8,271.0 1451.7,271.0 1455.0,272.5C1458.3,274.0 1457.1,277.7 1460.0,280.0C1462.9,282.3 1468.3,284.2 1472.5,286.2C1476.7,288.3 1480.4,290.0 1485.0,292.5C1489.6,295.0 1496.7,299.2 1500.0,301.2C1503.3,303.3 1505.8,303.1 1505.0,305.0C1504.2,306.9 1499.2,310.4 1495.0,312.5C1490.8,314.6 1485.8,316.5 1480.0,317.5C1474.2,318.5 1465.8,318.5 1460.0,318.8C1454.2,319.0 1448.3,319.8 1445.0,318.8C1441.7,317.7 1443.8,314.8 1440.0,312.5C1436.2,310.2 1427.1,307.5 1422.5,305.0C1417.9,302.5 1415.4,300.0 1412.5,297.5C1409.6,295.0 1407.9,291.9 1405.0,290.0C1402.1,288.1 1395.0,287.9 1395.0,286.2Z" fill="#cfcfcf" filter="url(#rough2)" />
<g transform="matrix(30.3 18.5 0 -51.3 1544.0 175.0)" fill="none" stroke="#bdbdbd">
<circle r="0.875" stroke-width="3.4" vector-effect="non-scaling-stroke"/>
<circle r="0.885" stroke-width="5.2" vector-effect="non-scaling-stroke" stroke-dasharray="70 90 80 400" stroke-dashoffset="-95"/>
<circle r="0.965" stroke-width="1.2" vector-effect="non-scaling-stroke" stroke="#b4b4b4" stroke-dasharray="40 3 25 5 60 4 18 6"/>
<circle r="1.02" stroke-width="1.0" vector-effect="non-scaling-stroke" stroke="#b9b9b9" stroke-dasharray="12 6 30 8 6 10 22 5"/>
<circle r="1.075" stroke-width="0.9" vector-effect="non-scaling-stroke" stroke="#bcbcbc" stroke-dasharray="8 9 15 14 4 7 18 20"/>
<circle r="1.14" stroke-width="0.9" vector-effect="non-scaling-stroke" stroke="#c6c6c6" stroke-dasharray="2 9 4 14 2 7 3 20"/>
</g>
<path d="M1334.5,276.2V72.7M1334.5,276.2l121.7,73.8M1393.6,260.9V57.4M1393.6,260.9l121.7,73.8M1452.7,245.7V42.2M1452.7,245.7l121.7,73.8M1499.6,246.6V43.1M1313.3,294.6l186.3,-48.0M1529.9,265.0V61.5M1343.6,313.0l186.3,-48.0M1560.2,283.3V79.8M1373.9,331.3l186.3,-48.0M1590.5,301.7V98.2M1404.2,349.7l186.3,-48.0M1298.3,118.0l186.3,-48.0l121.7,73.8M1298.3,169.3l186.3,-48.0l121.7,73.8M1298.3,220.5l186.3,-48.0l121.7,73.8M1298.3,271.8l186.3,-48.0l121.7,73.8" fill="none" stroke="#000" stroke-opacity="0.12" stroke-width="1"/>
<path d="M1298.3,82.0V286.0" fill="none" stroke="#6a6a6a" stroke-width="1.7"/><path d="M1298.3,285.5L1420.0,359.3L1606.3,311.3M1298.3,118.0l-3.6,-2.2M1298.3,169.3l-3.6,-2.2M1298.3,220.5l-3.6,-2.2M1313.3,294.6l-4.1,1.0M1343.6,313.0l-4.1,1.0M1373.9,331.3l-4.1,1.0M1456.2,350.0l3.6,2.2M1515.3,334.7l3.6,2.2M1574.4,319.5l3.6,2.2" fill="none" stroke="#4a4a4a" stroke-width="1.2"/>
<g filter="url(#rough)">
<path d="M1443.8,132.8C1447.8,132.6 1450.8,134.2 1455.0,136.0C1459.2,137.8 1464.8,141.2 1469.3,143.9C1473.8,146.6 1478.4,148.7 1482.1,151.9C1485.8,155.1 1488.8,159.1 1491.7,163.1C1494.6,167.1 1497.6,171.3 1499.7,175.8C1501.8,180.3 1503.2,185.4 1504.4,190.2C1505.6,195.0 1506.7,200.1 1506.8,204.6C1506.9,209.1 1506.1,213.3 1505.2,217.3C1504.3,221.3 1503.0,224.8 1501.3,228.5C1499.6,232.2 1497.3,236.2 1494.9,239.7C1492.5,243.1 1490.1,246.3 1486.9,249.2C1483.7,252.1 1480.2,255.1 1475.7,257.2C1471.2,259.3 1464.6,262.0 1459.8,262.0C1455.0,262.0 1451.5,258.8 1447.0,257.2C1442.5,255.6 1437.1,254.0 1432.6,252.4C1428.1,250.8 1422.8,250.0 1419.9,247.6C1417.0,245.2 1416.0,241.8 1415.1,238.1C1414.2,234.4 1415.4,229.0 1414.3,225.3C1413.2,221.6 1411.0,219.1 1408.7,215.7C1406.4,212.2 1402.8,208.6 1400.7,204.6C1398.6,200.6 1396.8,196.1 1396.0,191.8C1395.2,187.5 1395.2,183.0 1396.0,179.0C1396.8,175.0 1398.6,171.6 1400.7,167.9C1402.8,164.2 1405.5,160.4 1408.7,156.7C1411.9,153.0 1416.2,148.7 1419.9,145.5C1423.6,142.3 1427.1,139.6 1431.1,137.5C1435.1,135.4 1439.8,133.1 1443.8,132.8Z" fill="#4692ea"/>
<g clip-path="url(#bc3)">
<g filter="url(#b2)">
<path d="M1447.0,232.0C1451.3,230.7 1461.8,236.7 1470.0,236.0C1478.2,235.3 1490.5,228.7 1496.0,228.0C1501.5,227.3 1503.3,229.0 1503.0,232.0C1502.7,235.0 1497.8,241.7 1494.0,246.0C1490.2,250.3 1486.0,254.8 1480.0,258.0C1474.0,261.2 1464.7,265.0 1458.0,265.0C1451.3,265.0 1442.3,261.5 1440.0,258.0C1437.7,254.5 1442.8,248.3 1444.0,244.0C1445.2,239.7 1442.7,233.3 1447.0,232.0Z" fill="#14356e" opacity="0.9"/>
<path d="M1420.0,146.0C1422.0,142.8 1436.3,132.0 1444.0,131.0C1451.7,130.0 1460.7,136.8 1466.0,140.0C1471.3,143.2 1476.7,148.0 1476.0,150.0C1475.3,152.0 1466.7,152.7 1462.0,152.0C1457.3,151.3 1453.0,146.3 1448.0,146.0C1443.0,145.7 1436.7,150.0 1432.0,150.0C1427.3,150.0 1418.0,149.2 1420.0,146.0Z" fill="#2a6cc6" opacity="0.7"/>
<path d="M1424.0,160.0C1425.2,158.5 1431.3,160.7 1436.0,162.0C1440.7,163.3 1447.7,165.3 1452.0,168.0C1456.3,170.7 1459.7,174.3 1462.0,178.0C1464.3,181.7 1465.7,185.8 1466.0,190.0C1466.3,194.2 1465.3,199.0 1464.0,203.0C1462.7,207.0 1460.5,211.3 1458.0,214.0C1455.5,216.7 1450.9,218.8 1449.0,219.0C1447.1,219.2 1447.2,217.7 1446.5,215.0C1445.8,212.3 1445.6,206.9 1444.8,203.0C1444.0,199.1 1442.9,195.5 1441.6,191.8C1440.3,188.1 1438.9,184.1 1436.8,180.6C1434.7,177.1 1431.0,174.5 1428.9,171.1C1426.8,167.7 1422.8,161.5 1424.0,160.0Z" fill="#d4eeff" opacity="0.95"/>
<ellipse cx="1470" cy="176" rx="16" ry="6" fill="#a9d8fc" opacity="0.8" transform="rotate(10 1470 176)"/>
<ellipse cx="1490" cy="205" rx="11" ry="14" fill="#3f8fe6" opacity="0.7"/>
</g>
<g filter="url(#b05)" stroke-linecap="round" fill="none">
<path d="M1457.8,204.8l13.3,-2.2" stroke="#1d4f9f" stroke-width="1.3" opacity="0.72"/>
<path d="M1459.9,211.8l12.7,-3.5" stroke="#2a6cc6" stroke-width="0.9" opacity="0.64"/>
<path d="M1452.9,190.9l16.1,-3.2" stroke="#2a6cc6" stroke-width="1.4" opacity="0.42"/>
<path d="M1434.7,163.5l12.9,-3.9" stroke="#1d4f9f" stroke-width="1.2" opacity="0.66"/>
<path d="M1462.0,218.1l10.2,-2.4" stroke="#2a6cc6" stroke-width="1.8" opacity="0.68"/>
<path d="M1445.7,161.9l6.9,-1.8" stroke="#9dd2fb" stroke-width="1.5" opacity="0.74"/>
<path d="M1418.0,159.3l13.3,-2.3" stroke="#d8f1ff" stroke-width="1.8" opacity="0.80"/>
<path d="M1435.5,219.7l10.6,-2.7" stroke="#2a6cc6" stroke-width="0.7" opacity="0.45"/>
<path d="M1458.9,195.3l8.8,-1.8" stroke="#1d4f9f" stroke-width="1.3" opacity="0.57"/>
<path d="M1451.8,183.3l5.9,-0.9" stroke="#2f78d0" stroke-width="1.7" opacity="0.80"/>
<path d="M1419.7,156.3l15.4,-2.5" stroke="#b9e2ff" stroke-width="1.3" opacity="0.67"/>
<path d="M1440.7,232.4l10.4,-2.7" stroke="#b9e2ff" stroke-width="0.8" opacity="0.61"/>
<path d="M1450.4,212.9l14.8,-4.2" stroke="#7fc0f8" stroke-width="1.6" opacity="0.66"/>
<path d="M1431.6,250.1l9.8,-1.8" stroke="#1d4f9f" stroke-width="0.9" opacity="0.67"/>
<path d="M1452.2,194.7l6.5,-1.9" stroke="#2f78d0" stroke-width="0.8" opacity="0.50"/>
<path d="M1480.0,165.4l15.3,-2.8" stroke="#d8f1ff" stroke-width="1.0" opacity="0.64"/>
<path d="M1460.2,217.0l7.0,-1.5" stroke="#2a6cc6" stroke-width="0.9" opacity="0.43"/>
<path d="M1454.2,164.4l10.1,-3.0" stroke="#2a6cc6" stroke-width="1.3" opacity="0.54"/>
<path d="M1475.8,221.9l8.1,-1.8" stroke="#9dd2fb" stroke-width="0.7" opacity="0.85"/>
<path d="M1474.0,194.7l10.9,-2.1" stroke="#9dd2fb" stroke-width="1.8" opacity="0.86"/>
<path d="M1497.2,227.8l18.3,-3.7" stroke="#7fc0f8" stroke-width="1.7" opacity="0.92"/>
<path d="M1494.7,186.2l19.5,-3.7" stroke="#143a7c" stroke-width="1.3" opacity="0.55"/>
<path d="M1426.0,147.0l12.2,-3.3" stroke="#143a7c" stroke-width="1.1" opacity="0.58"/>
<path d="M1470.9,194.5l16.6,-4.5" stroke="#143a7c" stroke-width="1.2" opacity="0.50"/>
<path d="M1419.0,171.1l9.1,-1.9" stroke="#143a7c" stroke-width="0.9" opacity="0.60"/>
<path d="M1439.3,184.6l15.6,-4.2" stroke="#1d4f9f" stroke-width="1.6" opacity="0.75"/>
<path d="M1451.8,207.8l7.9,-2.0" stroke="#2a6cc6" stroke-width="1.2" opacity="0.68"/>
<path d="M1432.9,190.6l9.1,-2.4" stroke="#143a7c" stroke-width="1.2" opacity="0.67"/>
<path d="M1481.0,241.4l10.9,-2.3" stroke="#d8f1ff" stroke-width="1.6" opacity="0.84"/>
<path d="M1442.7,178.0l14.7,-3.1" stroke="#b9e2ff" stroke-width="1.4" opacity="0.61"/>
<path d="M1491.0,162.9l6.5,-1.8" stroke="#9dd2fb" stroke-width="1.4" opacity="0.94"/>
<path d="M1478.2,157.9l8.6,-2.0" stroke="#2a6cc6" stroke-width="0.7" opacity="0.47"/>
<path d="M1442.0,176.9l14.0,-2.8" stroke="#143a7c" stroke-width="1.4" opacity="0.74"/>
<path d="M1479.6,161.1l19.7,-4.8" stroke="#b9e2ff" stroke-width="1.1" opacity="0.82"/>
<path d="M1498.1,181.0l19.6,-4.3" stroke="#143a7c" stroke-width="1.6" opacity="0.53"/>
<path d="M1494.2,235.8l7.9,-1.3" stroke="#2a6cc6" stroke-width="1.0" opacity="0.79"/>
<path d="M1465.3,234.8l19.9,-5.1" stroke="#2a6cc6" stroke-width="1.6" opacity="0.41"/>
<path d="M1448.1,186.8l20.0,-5.3" stroke="#143a7c" stroke-width="0.9" opacity="0.72"/>
<path d="M1433.2,175.6l8.1,-1.5" stroke="#143a7c" stroke-width="0.9" opacity="0.78"/>
<path d="M1461.3,255.4l9.2,-2.7" stroke="#b9e2ff" stroke-width="1.3" opacity="0.78"/>
<path d="M1492.2,204.8l11.7,-3.0" stroke="#1d4f9f" stroke-width="1.6" opacity="0.52"/>
<path d="M1430.4,202.8l13.5,-3.6" stroke="#d8f1ff" stroke-width="1.2" opacity="0.81"/>
<path d="M1463.4,184.1l14.8,-2.8" stroke="#2a6cc6" stroke-width="1.2" opacity="0.77"/>
<path d="M1458.4,251.7l12.3,-2.3" stroke="#2f78d0" stroke-width="1.0" opacity="0.57"/>
<path d="M1459.9,173.2l15.3,-4.2" stroke="#d8f1ff" stroke-width="1.7" opacity="0.61"/>
<path d="M1443.0,226.1l13.5,-3.6" stroke="#2f78d0" stroke-width="1.2" opacity="0.69"/>
<path d="M1479.7,246.2l15.4,-4.7" stroke="#1d4f9f" stroke-width="1.6" opacity="0.75"/>
<path d="M1465.0,160.4l14.2,-3.9" stroke="#9dd2fb" stroke-width="1.3" opacity="0.92"/>
<path d="M1445.8,172.9l9.4,-1.6" stroke="#1d4f9f" stroke-width="1.8" opacity="0.76"/>
<path d="M1429.7,143.5l12.6,-3.1" stroke="#1d4f9f" stroke-width="1.7" opacity="0.48"/>
<path d="M1473.3,235.9l14.5,-4.2" stroke="#2f78d0" stroke-width="1.1" opacity="0.45"/>
<path d="M1462.5,230.6l16.5,-3.8" stroke="#d8f1ff" stroke-width="0.9" opacity="0.61"/>
<path d="M1485.1,211.7l13.5,-2.3" stroke="#b9e2ff" stroke-width="0.9" opacity="0.89"/>
<path d="M1501.7,192.1l11.0,-2.1" stroke="#143a7c" stroke-width="1.2" opacity="0.48"/>
<path d="M1450.8,214.4l8.8,-2.6" stroke="#9dd2fb" stroke-width="1.1" opacity="0.74"/>
<path d="M1435.2,153.5l6.1,-1.4" stroke="#143a7c" stroke-width="1.7" opacity="0.63"/>
<path d="M1434.8,208.0l17.6,-4.5" stroke="#b9e2ff" stroke-width="1.0" opacity="0.89"/>
<path d="M1453.7,248.6l16.9,-3.0" stroke="#143a7c" stroke-width="1.5" opacity="0.48"/>
<path d="M1434.3,235.7l7.4,-1.9" stroke="#2a6cc6" stroke-width="1.7" opacity="0.49"/>
<path d="M1501.1,218.6l16.0,-4.1" stroke="#143a7c" stroke-width="1.3" opacity="0.61"/>
<path d="M1461.8,159.7l11.8,-3.4" stroke="#d8f1ff" stroke-width="1.3" opacity="0.86"/>
<path d="M1440.6,184.2l8.7,-2.6" stroke="#9dd2fb" stroke-width="1.1" opacity="0.70"/>
<path d="M1448.0,202.3l13.9,-3.4" stroke="#7fc0f8" stroke-width="1.6" opacity="0.88"/>
<path d="M1424.7,209.7l6.6,-1.3" stroke="#7fc0f8" stroke-width="1.7" opacity="0.94"/>
<path d="M1493.3,202.5l12.6,-2.7" stroke="#7fc0f8" stroke-width="1.2" opacity="0.81"/>
<path d="M1450.2,169.1l14.7,-3.1" stroke="#2f78d0" stroke-width="1.0" opacity="0.41"/>
<path d="M1486.0,208.2l12.3,-2.6" stroke="#9dd2fb" stroke-width="1.5" opacity="0.86"/>
<path d="M1497.7,187.8l21.0,-4.9" stroke="#143a7c" stroke-width="1.0" opacity="0.46"/>
<path d="M1454.7,147.3l11.5,-2.1" stroke="#b9e2ff" stroke-width="0.9" opacity="0.83"/>
<path d="M1458.1,166.1l12.4,-2.7" stroke="#1d4f9f" stroke-width="1.6" opacity="0.78"/>
<path d="M1482.6,163.0l19.5,-5.6" stroke="#2f78d0" stroke-width="1.6" opacity="0.51"/>
<path d="M1471.7,226.3l8.9,-1.8" stroke="#b9e2ff" stroke-width="1.0" opacity="0.78"/>
<path d="M1475.5,157.5l15.7,-3.2" stroke="#d8f1ff" stroke-width="0.7" opacity="0.82"/>
<path d="M1427.0,202.4l7.1,-2.1" stroke="#2f78d0" stroke-width="1.4" opacity="0.59"/>
<path d="M1449.2,176.0l7.9,-1.8" stroke="#143a7c" stroke-width="1.7" opacity="0.72"/>
<path d="M1472.9,231.9l12.3,-3.4" stroke="#2f78d0" stroke-width="1.0" opacity="0.46"/>
<path d="M1491.6,209.6l17.6,-4.6" stroke="#9dd2fb" stroke-width="1.6" opacity="0.80"/>
<path d="M1458.7,174.1l12.6,-2.8" stroke="#143a7c" stroke-width="1.3" opacity="0.52"/>
<path d="M1436.8,218.1l10.4,-3.1" stroke="#2f78d0" stroke-width="1.5" opacity="0.75"/>
<path d="M1437.3,217.4l19.9,-5.1" stroke="#2f78d0" stroke-width="1.1" opacity="0.58"/>
<path d="M1488.7,171.6l12.0,-3.1" stroke="#1d4f9f" stroke-width="1.7" opacity="0.43"/>
<path d="M1477.6,208.0l17.5,-3.3" stroke="#1d4f9f" stroke-width="1.1" opacity="0.73"/>
<path d="M1467.5,155.0l19.7,-3.8" stroke="#d8f1ff" stroke-width="1.0" opacity="0.79"/>
<path d="M1467.9,257.6l18.5,-3.9" stroke="#2a6cc6" stroke-width="0.8" opacity="0.53"/>
<path d="M1442.1,145.7l6.2,-1.6" stroke="#7fc0f8" stroke-width="1.4" opacity="0.69"/>
<path d="M1437.4,231.5l17.8,-4.0" stroke="#9dd2fb" stroke-width="1.1" opacity="0.84"/>
<path d="M1461.4,201.9l17.0,-3.4" stroke="#2f78d0" stroke-width="1.7" opacity="0.74"/>
<path d="M1488.9,240.4l21.0,-3.7" stroke="#2a6cc6" stroke-width="1.4" opacity="0.72"/>
<path d="M1455.1,186.7l17.2,-4.9" stroke="#b9e2ff" stroke-width="1.8" opacity="0.71"/>
<path d="M1452.3,200.8l19.5,-5.2" stroke="#2f78d0" stroke-width="1.2" opacity="0.66"/>
<path d="M1423.5,191.6l20.1,-4.4" stroke="#b9e2ff" stroke-width="0.7" opacity="0.73"/>
<path d="M1469.8,210.0l13.8,-3.2" stroke="#143a7c" stroke-width="1.2" opacity="0.47"/>
<path d="M1484.7,172.5l18.6,-4.2" stroke="#7fc0f8" stroke-width="1.2" opacity="0.92"/>
<path d="M1448.1,203.2l13.5,-2.2" stroke="#b9e2ff" stroke-width="0.9" opacity="0.88"/>
<path d="M1451.9,200.6l10.1,-2.3" stroke="#1d4f9f" stroke-width="1.8" opacity="0.76"/>
<path d="M1457.6,164.1l19.4,-4.7" stroke="#1d4f9f" stroke-width="1.2" opacity="0.50"/>
<path d="M1494.5,199.1l21.4,-4.5" stroke="#1d4f9f" stroke-width="1.0" opacity="0.63"/>
<path d="M1433.7,158.6l8.3,-1.4" stroke="#d8f1ff" stroke-width="0.8" opacity="0.91"/>
<path d="M1483.9,202.6l6.1,-1.4" stroke="#d8f1ff" stroke-width="0.9" opacity="0.87"/>
<path d="M1454.4,196.2l21.1,-3.5" stroke="#2f78d0" stroke-width="1.0" opacity="0.80"/>
<path d="M1424.5,150.3l16.5,-3.4" stroke="#2a6cc6" stroke-width="1.5" opacity="0.66"/>
<path d="M1419.1,181.0l9.6,-1.9" stroke="#2a6cc6" stroke-width="1.3" opacity="0.74"/>
<path d="M1492.3,225.5l8.3,-1.4" stroke="#2f78d0" stroke-width="1.4" opacity="0.78"/>
<path d="M1484.4,204.2l8.7,-2.5" stroke="#9dd2fb" stroke-width="1.1" opacity="0.93"/>
<path d="M1467.5,226.1l18.6,-4.8" stroke="#d8f1ff" stroke-width="0.8" opacity="0.65"/>
<path d="M1473.5,155.3l6.3,-1.8" stroke="#2a6cc6" stroke-width="1.2" opacity="0.49"/>
<path d="M1431.8,148.1l7.0,-1.7" stroke="#b9e2ff" stroke-width="1.7" opacity="0.83"/>
<path d="M1485.5,238.7l11.0,-2.7" stroke="#7fc0f8" stroke-width="1.2" opacity="0.81"/>
<path d="M1446.0,234.5l21.0,-5.6" stroke="#b9e2ff" stroke-width="1.3" opacity="0.72"/>
<path d="M1451.2,198.2l18.9,-3.6" stroke="#9dd2fb" stroke-width="1.4" opacity="0.79"/>
<path d="M1449.0,197.1l16.8,-4.8" stroke="#1d4f9f" stroke-width="1.8" opacity="0.63"/>
<path d="M1420.4,217.7l8.0,-1.5" stroke="#2f78d0" stroke-width="1.2" opacity="0.53"/>
<path d="M1499.8,179.0l7.8,-1.8" stroke="#d8f1ff" stroke-width="1.8" opacity="0.80"/>
<path d="M1441.3,250.2l18.8,-3.0" stroke="#d8f1ff" stroke-width="1.4" opacity="0.70"/>
<path d="M1468.5,240.0l14.2,-3.9" stroke="#b9e2ff" stroke-width="0.8" opacity="0.87"/>
<path d="M1430.2,230.3l20.2,-3.6" stroke="#2a6cc6" stroke-width="1.4" opacity="0.46"/>
<path d="M1454.3,136.3l7.7,-1.7" stroke="#b9e2ff" stroke-width="1.1" opacity="0.69"/>
<path d="M1468.0,175.2l6.5,-1.4" stroke="#7fc0f8" stroke-width="1.4" opacity="0.81"/>
<path d="M1459.4,185.5l16.7,-3.5" stroke="#143a7c" stroke-width="1.5" opacity="0.76"/>
<path d="M1458.8,249.7l18.8,-3.8" stroke="#9dd2fb" stroke-width="0.8" opacity="0.78"/>
<path d="M1456.0,249.6l6.7,-1.7" stroke="#143a7c" stroke-width="1.5" opacity="0.64"/>
<path d="M1484.2,171.6l7.0,-1.5" stroke="#143a7c" stroke-width="0.8" opacity="0.79"/>
<path d="M1459.9,145.7l14.5,-2.5" stroke="#2a6cc6" stroke-width="1.4" opacity="0.80"/>
<path d="M1482.3,245.3l14.3,-3.6" stroke="#7fc0f8" stroke-width="1.3" opacity="0.80"/>
<path d="M1465.3,255.6l9.5,-2.9" stroke="#2a6cc6" stroke-width="1.0" opacity="0.58"/>
<path d="M1457.6,201.0l16.4,-4.7" stroke="#7fc0f8" stroke-width="1.0" opacity="0.91"/>
<path d="M1445.1,196.8l21.3,-3.6" stroke="#9dd2fb" stroke-width="1.2" opacity="0.90"/>
<path d="M1445.8,243.7l6.2,-1.1" stroke="#1d4f9f" stroke-width="1.4" opacity="0.61"/>
<path d="M1503.9,216.5l18.5,-4.8" stroke="#7fc0f8" stroke-width="1.8" opacity="0.85"/>
<path d="M1429.9,222.5l12.9,-2.2" stroke="#9dd2fb" stroke-width="0.8" opacity="0.64"/>
<path d="M1478.8,167.0l13.8,-2.7" stroke="#d8f1ff" stroke-width="1.0" opacity="0.81"/>
<path d="M1438.2,171.1l16.4,-2.8" stroke="#2a6cc6" stroke-width="1.0" opacity="0.59"/>
<path d="M1418.6,208.3l12.5,-2.8" stroke="#b9e2ff" stroke-width="1.3" opacity="0.69"/>
<path d="M1442.6,203.3l19.6,-5.4" stroke="#7fc0f8" stroke-width="1.8" opacity="0.92"/>
<path d="M1423.6,233.0l11.0,-1.9" stroke="#9dd2fb" stroke-width="1.2" opacity="0.78"/>
<path d="M1492.4,221.0l20.7,-4.7" stroke="#1d4f9f" stroke-width="0.9" opacity="0.44"/>
<path d="M1456.3,218.9l9.9,-2.2" stroke="#2f78d0" stroke-width="1.5" opacity="0.60"/>
<path d="M1437.5,207.4l6.4,-1.5" stroke="#143a7c" stroke-width="1.4" opacity="0.75"/>
<path d="M1433.8,151.7l13.3,-4.0" stroke="#9dd2fb" stroke-width="1.2" opacity="0.90"/>
<path d="M1420.7,146.9l15.6,-4.4" stroke="#1d4f9f" stroke-width="1.3" opacity="0.42"/>
<path d="M1455.4,222.4l17.5,-3.2" stroke="#143a7c" stroke-width="1.6" opacity="0.44"/>
<path d="M1440.4,152.8l18.9,-3.8" stroke="#7fc0f8" stroke-width="1.6" opacity="0.76"/>
<path d="M1479.5,223.5l7.9,-1.3" stroke="#1d4f9f" stroke-width="1.5" opacity="0.46"/>
<path d="M1458.1,228.8l9.4,-2.8" stroke="#7fc0f8" stroke-width="1.7" opacity="0.79"/>
<path d="M1459.5,253.6l16.7,-2.7" stroke="#1d4f9f" stroke-width="1.5" opacity="0.52"/>
<path d="M1428.5,243.2l7.2,-1.7" stroke="#b9e2ff" stroke-width="0.9" opacity="0.61"/>
<path d="M1453.5,216.5l11.0,-3.3" stroke="#1d4f9f" stroke-width="1.5" opacity="0.59"/>
<path d="M1452.6,241.6l18.0,-4.5" stroke="#1d4f9f" stroke-width="0.9" opacity="0.72"/>
<path d="M1488.8,194.4l15.1,-3.7" stroke="#143a7c" stroke-width="1.5" opacity="0.80"/>
<path d="M1477.8,244.2l11.7,-3.2" stroke="#2f78d0" stroke-width="0.8" opacity="0.78"/>
</g>
<path d="M1419.5,146.0C1421.3,145.9 1417.7,152.9 1417.5,156.0C1417.3,159.1 1416.6,162.2 1418.3,164.7C1420.0,167.2 1425.0,168.4 1427.9,171.1C1430.8,173.8 1433.7,177.1 1435.8,180.6C1437.9,184.1 1439.3,188.1 1440.6,191.8C1441.9,195.5 1443.0,199.0 1443.8,203.0C1444.6,207.0 1445.3,211.4 1445.4,215.7C1445.5,219.9 1445.0,224.7 1444.6,228.5C1444.2,232.3 1444.4,234.6 1443.0,238.5C1441.6,242.4 1439.8,250.2 1436.0,252.0C1432.2,253.8 1423.7,251.9 1419.9,249.6C1416.1,247.3 1414.4,242.1 1413.1,238.1C1411.8,234.1 1413.4,229.0 1412.3,225.3C1411.2,221.6 1409.0,219.1 1406.7,215.7C1404.4,212.2 1400.8,208.6 1398.7,204.6C1396.6,200.6 1394.8,196.1 1394.0,191.8C1393.2,187.5 1393.2,183.0 1394.0,179.0C1394.8,175.0 1396.6,171.6 1398.7,167.9C1400.8,164.2 1403.2,160.3 1406.7,156.7C1410.2,153.0 1417.7,146.1 1419.5,146.0Z" fill="url(#inner3)"/>
<g clip-path="url(#bc3i)"><g filter="url(#b05)" stroke-linecap="round" fill="none">
<path d="M1405.2,150.0l27.5,-2.2" stroke="#3a84de" stroke-width="1.1" opacity="0.71"/>
<path d="M1406.9,152.5l21.0,-1.7" stroke="#1b4c9b" stroke-width="0.9" opacity="0.84"/>
<path d="M1396.5,154.8l20.3,-1.6" stroke="#0f2f68" stroke-width="0.8" opacity="0.68"/>
<path d="M1395.5,156.7l36.9,-3.0" stroke="#1b4c9b" stroke-width="1.1" opacity="0.90"/>
<path d="M1399.4,158.9l29.8,-2.4" stroke="#1b4c9b" stroke-width="0.8" opacity="0.61"/>
<path d="M1394.6,161.0l22.1,-1.8" stroke="#1b4c9b" stroke-width="1.4" opacity="0.83"/>
<path d="M1403.9,163.0l22.2,-1.8" stroke="#1b4c9b" stroke-width="1.6" opacity="0.61"/>
<path d="M1399.0,164.7l32.5,-2.6" stroke="#1b4c9b" stroke-width="1.0" opacity="0.76"/>
<path d="M1395.8,166.5l23.6,-1.9" stroke="#3a84de" stroke-width="1.1" opacity="0.57"/>
<path d="M1405.3,167.9l28.7,-2.3" stroke="#3a84de" stroke-width="1.2" opacity="0.82"/>
<path d="M1397.9,170.4l31.9,-2.6" stroke="#3a84de" stroke-width="0.9" opacity="0.86"/>
<path d="M1408.1,172.3l20.7,-1.7" stroke="#1b4c9b" stroke-width="0.9" opacity="0.75"/>
<path d="M1410.8,174.3l21.4,-1.7" stroke="#3a84de" stroke-width="1.1" opacity="0.61"/>
<path d="M1402.6,176.2l18.3,-1.5" stroke="#3a84de" stroke-width="1.7" opacity="0.76"/>
<path d="M1410.3,178.5l34.9,-2.8" stroke="#1b4c9b" stroke-width="1.5" opacity="0.83"/>
<path d="M1406.6,180.5l14.6,-1.2" stroke="#1b4c9b" stroke-width="0.9" opacity="0.91"/>
<path d="M1398.9,183.0l23.8,-1.9" stroke="#3a84de" stroke-width="1.2" opacity="0.84"/>
<path d="M1395.3,185.5l14.9,-1.2" stroke="#1b4c9b" stroke-width="1.9" opacity="0.78"/>
<path d="M1406.0,187.2l18.8,-1.5" stroke="#3f8fe6" stroke-width="1.3" opacity="0.69"/>
<path d="M1394.6,189.7l32.4,-2.6" stroke="#8ec8fb" stroke-width="1.7" opacity="0.80"/>
<path d="M1401.4,191.8l24.8,-2.0" stroke="#3f8fe6" stroke-width="0.9" opacity="0.74"/>
<path d="M1411.4,193.8l24.0,-1.9" stroke="#8ec8fb" stroke-width="1.6" opacity="0.66"/>
<path d="M1402.5,195.7l14.5,-1.2" stroke="#c9e8ff" stroke-width="1.0" opacity="0.64"/>
<path d="M1398.2,198.0l14.0,-1.1" stroke="#c9e8ff" stroke-width="2.0" opacity="0.55"/>
<path d="M1409.3,200.0l33.9,-2.7" stroke="#8ec8fb" stroke-width="1.5" opacity="0.77"/>
<path d="M1411.4,202.4l22.7,-1.8" stroke="#3f8fe6" stroke-width="0.9" opacity="0.56"/>
<path d="M1397.7,204.8l24.3,-1.9" stroke="#8ec8fb" stroke-width="2.0" opacity="0.88"/>
<path d="M1405.2,206.4l26.8,-2.1" stroke="#3f8fe6" stroke-width="1.2" opacity="0.72"/>
<path d="M1406.0,208.2l27.0,-2.2" stroke="#a5d4fb" stroke-width="1.2" opacity="0.83"/>
<path d="M1407.3,210.7l36.8,-2.9" stroke="#ffffff" stroke-width="1.8" opacity="0.90"/>
<path d="M1409.3,212.5l27.3,-2.2" stroke="#e9f7ff" stroke-width="0.8" opacity="0.80"/>
<path d="M1402.7,214.4l23.0,-1.8" stroke="#e9f7ff" stroke-width="1.4" opacity="0.87"/>
<path d="M1406.9,216.3l20.5,-1.6" stroke="#5aa6f2" stroke-width="1.0" opacity="0.89"/>
<path d="M1404.1,217.9l17.4,-1.4" stroke="#e9f7ff" stroke-width="1.6" opacity="0.60"/>
<path d="M1398.8,220.2l18.2,-1.5" stroke="#a5d4fb" stroke-width="1.3" opacity="0.82"/>
<path d="M1397.3,221.9l14.4,-1.1" stroke="#3f8fe6" stroke-width="1.6" opacity="0.87"/>
<path d="M1398.8,224.4l21.0,-1.7" stroke="#5aa6f2" stroke-width="1.6" opacity="0.71"/>
<path d="M1411.8,226.9l15.3,-1.2" stroke="#ffffff" stroke-width="1.8" opacity="0.63"/>
<path d="M1403.7,228.7l34.8,-2.8" stroke="#e9f7ff" stroke-width="1.2" opacity="0.56"/>
<path d="M1402.7,230.8l23.7,-1.9" stroke="#5aa6f2" stroke-width="1.3" opacity="0.90"/>
<path d="M1398.0,233.0l32.8,-2.6" stroke="#e9f7ff" stroke-width="1.7" opacity="0.94"/>
<path d="M1406.5,234.8l28.2,-2.3" stroke="#a5d4fb" stroke-width="1.3" opacity="0.88"/>
<path d="M1410.1,236.9l36.9,-3.0" stroke="#e9f7ff" stroke-width="0.9" opacity="0.68"/>
<path d="M1404.2,238.3l17.7,-1.4" stroke="#e9f7ff" stroke-width="1.1" opacity="0.64"/>
<path d="M1400.6,240.3l20.7,-1.7" stroke="#ffffff" stroke-width="1.0" opacity="0.55"/>
<path d="M1406.1,242.6l14.1,-1.1" stroke="#5aa6f2" stroke-width="1.4" opacity="0.95"/>
<path d="M1409.6,244.2l26.6,-2.1" stroke="#e9f7ff" stroke-width="1.2" opacity="0.77"/>
<path d="M1397.9,246.3l30.0,-2.4" stroke="#3f8fe6" stroke-width="1.1" opacity="0.63"/>
<path d="M1398.5,248.1l34.9,-2.8" stroke="#3f8fe6" stroke-width="1.8" opacity="0.84"/>
<path d="M1394.5,249.7l18.4,-1.5" stroke="#ffffff" stroke-width="1.6" opacity="0.66"/>
<path d="M1404.0,251.1l15.6,-1.3" stroke="#e9f7ff" stroke-width="0.8" opacity="0.63"/>
</g></g>
<path d="M1419.5,146.0C1419.2,147.7 1417.7,152.9 1417.5,156.0C1417.3,159.1 1416.6,162.2 1418.3,164.7C1420.0,167.2 1425.0,168.4 1427.9,171.1C1430.8,173.8 1433.7,177.1 1435.8,180.6C1437.9,184.1 1439.3,188.1 1440.6,191.8C1441.9,195.5 1443.0,199.0 1443.8,203.0C1444.6,207.0 1445.3,211.4 1445.4,215.7C1445.5,219.9 1445.0,224.7 1444.6,228.5C1444.2,232.3 1444.4,234.6 1443.0,238.5C1441.6,242.4 1437.2,249.8 1436.0,252.0" fill="none" stroke="#123a7d" stroke-width="1.3" opacity="0.9" filter="url(#b05)"/>
</g>
<path d="M1443.8,132.8C1447.8,132.6 1450.8,134.2 1455.0,136.0C1459.2,137.8 1464.8,141.2 1469.3,143.9C1473.8,146.6 1478.4,148.7 1482.1,151.9C1485.8,155.1 1488.8,159.1 1491.7,163.1C1494.6,167.1 1497.6,171.3 1499.7,175.8C1501.8,180.3 1503.2,185.4 1504.4,190.2C1505.6,195.0 1506.7,200.1 1506.8,204.6C1506.9,209.1 1506.1,213.3 1505.2,217.3C1504.3,221.3 1503.0,224.8 1501.3,228.5C1499.6,232.2 1497.3,236.2 1494.9,239.7C1492.5,243.1 1490.1,246.3 1486.9,249.2C1483.7,252.1 1480.2,255.1 1475.7,257.2C1471.2,259.3 1464.6,262.0 1459.8,262.0C1455.0,262.0 1451.5,258.8 1447.0,257.2C1442.5,255.6 1437.1,254.0 1432.6,252.4C1428.1,250.8 1422.8,250.0 1419.9,247.6C1417.0,245.2 1416.0,241.8 1415.1,238.1C1414.2,234.4 1415.4,229.0 1414.3,225.3C1413.2,221.6 1411.0,219.1 1408.7,215.7C1406.4,212.2 1402.8,208.6 1400.7,204.6C1398.6,200.6 1396.8,196.1 1396.0,191.8C1395.2,187.5 1395.2,183.0 1396.0,179.0C1396.8,175.0 1398.6,171.6 1400.7,167.9C1402.8,164.2 1405.5,160.4 1408.7,156.7C1411.9,153.0 1416.2,148.7 1419.9,145.5C1423.6,142.3 1427.1,139.6 1431.1,137.5C1435.1,135.4 1439.8,133.1 1443.8,132.8Z" fill="none" stroke="#1d4f9d" stroke-width="0.8" stroke-opacity="0.8"/>
<g stroke="#2b6fca" stroke-width="1.2" fill="none" stroke-linecap="round">
<path d="M1424.0,139.5l14.0,-3.2"/>
<path d="M1430.0,135.5l16.0,-3.7"/>
<path d="M1436.0,132.5l14.0,-3.2"/>
<path d="M1441.0,130.2l10.0,-2.3"/>
<path d="M1452.0,258.5l20.0,-4.6"/>
<path d="M1458.0,262.5l22.0,-5.1"/>
<path d="M1466.0,264.8l16.0,-3.7"/>
<path d="M1476.0,262.0l14.0,-3.2"/>
<path d="M1446.0,254.5l12.0,-2.8"/>
</g>
</g>
<path d="M384.9,729.2C383.1,727.7 388.1,724.1 390.5,721.2C392.9,718.3 397.2,715.3 399.3,711.6C401.4,707.9 401.8,703.4 403.3,698.9C404.7,694.3 406.5,689.3 408.1,684.5C409.7,679.7 411.4,674.9 412.8,670.2C414.3,665.4 415.5,660.6 416.8,655.8C418.2,651.0 419.4,645.6 420.8,641.4C422.3,637.3 423.7,634.3 425.6,631.1C427.5,627.9 430.1,625.1 432.0,622.3C433.8,619.5 434.9,616.3 436.8,614.3C438.6,612.3 441.6,611.5 443.1,610.3C444.7,609.2 445.3,607.9 446.3,607.6C447.4,607.4 447.1,608.6 449.5,608.8C451.9,608.9 458.2,608.5 460.7,608.8C463.2,609.0 463.6,609.4 464.7,610.3C465.7,611.3 465.1,613.4 467.1,614.3C469.1,615.3 474.4,615.3 476.6,615.9C478.9,616.6 480.2,616.7 480.6,618.3C481.0,619.9 480.2,623.2 479.0,625.5C477.8,627.8 475.0,629.2 473.5,631.9C471.9,634.5 470.5,638.0 469.5,641.4C468.4,644.9 468.1,648.6 467.1,652.6C466.0,656.6 464.5,660.9 463.1,665.4C461.6,669.9 460.0,675.2 458.3,679.7C456.6,684.2 454.7,688.2 452.7,692.5C450.7,696.7 448.5,701.5 446.3,705.2C444.2,709.0 442.1,712.2 440.0,714.8C437.8,717.5 437.0,719.3 433.6,721.2C430.1,723.1 424.5,724.5 419.2,726.0C413.9,727.4 407.4,729.4 401.7,730.0C396.0,730.5 386.8,730.6 384.9,729.2Z" fill="#cbcbcb" filter="url(#rough2)" />
<path d="M595.0,627.8C596.3,626.6 599.0,626.6 600.2,627.8C601.5,628.9 601.2,631.9 602.5,634.5C603.7,637.1 606.1,640.4 607.7,643.4C609.3,646.4 610.7,649.4 612.2,652.3C613.7,655.3 615.4,658.3 616.6,661.3C617.9,664.3 618.9,667.0 619.6,670.2C620.4,673.5 620.6,676.9 621.1,680.7C621.6,684.4 622.2,688.9 622.6,692.6C623.0,696.3 622.8,699.8 623.3,703.0C623.8,706.2 625.3,708.5 625.6,712.0C625.8,715.4 625.8,720.7 624.8,723.9C623.8,727.1 621.2,729.1 619.6,731.3C618.0,733.6 617.1,735.8 615.1,737.3C613.2,738.8 610.4,740.2 607.7,740.3C605.0,740.4 601.5,739.5 598.7,738.0C596.0,736.6 593.5,733.7 591.3,731.3C589.1,729.0 587.3,726.9 585.3,723.9C583.3,720.9 581.0,716.4 579.4,713.5C577.8,710.5 574.9,706.1 575.6,706.0C576.4,705.9 581.1,710.7 583.8,712.7C586.6,714.7 589.6,717.1 592.0,717.9C594.5,718.8 596.6,718.7 598.7,717.9C600.9,717.2 603.2,715.4 604.7,713.5C606.2,711.5 606.9,709.2 607.7,706.0C608.4,702.8 608.9,698.3 609.2,694.1C609.4,689.9 609.4,684.9 609.2,680.7C608.9,676.4 608.4,672.5 607.7,668.7C606.9,665.0 606.0,661.7 604.7,658.3C603.5,655.0 602.0,651.5 600.2,648.6C598.5,645.8 596.4,643.3 594.3,641.2C592.2,639.1 588.7,637.2 587.6,636.0C586.5,634.7 586.7,634.0 587.6,633.7C588.4,633.5 591.5,635.5 592.8,634.5C594.0,633.5 593.8,628.9 595.0,627.8Z" fill="#bcbcbc" filter="url(#rough2)" />
<path d="M575.6,631.5C576.5,631.0 582.0,631.7 583.1,632.2C584.2,632.7 583.2,634.0 582.4,634.5C581.5,635.0 579.0,635.7 577.9,635.2C576.8,634.7 574.8,632.0 575.6,631.5Z" fill="#bcbcbc" filter="url(#rough2)" />
<path d="M438.2,811.1C438.7,809.6 441.4,807.1 445.0,806.1C448.6,805.1 453.3,805.1 460.0,804.9C466.7,804.6 477.5,804.6 485.0,804.9C492.5,805.1 500.4,806.9 505.0,806.1C509.6,805.3 509.6,801.7 512.5,799.9C515.4,798.0 518.8,795.7 522.5,794.9C526.2,794.0 530.8,794.2 535.0,794.9C539.2,795.5 544.8,797.1 547.5,798.6C550.2,800.1 551.2,801.7 551.2,803.6C551.2,805.5 549.8,807.6 547.5,809.9C545.2,812.1 541.2,814.6 537.5,817.4C533.8,820.1 529.6,823.6 525.0,826.1C520.4,828.6 515.0,831.5 510.0,832.4C505.0,833.2 500.8,832.1 495.0,831.1C489.2,830.1 481.7,828.0 475.0,826.1C468.3,824.2 460.4,821.7 455.0,819.9C449.6,818.0 445.3,816.3 442.5,814.9C439.7,813.4 437.8,812.6 438.2,811.1Z" fill="#cfcfcf" filter="url(#rough2)" />
<path d="M511.2,789.9C513.1,788.7 522.9,786.4 525.0,786.6C527.1,786.8 525.6,789.9 523.8,791.1C521.9,792.3 515.8,793.8 513.8,793.6C511.7,793.4 509.4,791.0 511.2,789.9Z" fill="#cfcfcf" filter="url(#rough2)" />
<path d="M373.7,786.1V577.9M373.7,786.1l124.4,75.7M437.3,769.9V561.7M437.3,769.9l124.4,75.7M500.9,753.7V545.5M500.9,753.7l124.4,75.7M547.4,755.2V547.0M356.2,803.9l191.2,-48.7M578.3,774.0V565.8M387.1,822.7l191.2,-48.7M609.2,792.8V584.6M418.0,841.5l191.2,-48.7M640.4,811.8V603.6M449.2,860.5l191.2,-48.7M340.7,624.5l191.2,-48.7l124.4,75.7M340.7,676.0l191.2,-48.7l124.4,75.7M340.7,727.5l191.2,-48.7l124.4,75.7M340.7,779.0l191.2,-48.7l124.4,75.7" fill="none" stroke="#000" stroke-opacity="0.12" stroke-width="1"/>
<path d="M340.7,586.3V795.0" fill="none" stroke="#6a6a6a" stroke-width="1.7"/><path d="M340.7,794.5L465.1,870.2L656.3,821.5M340.7,624.5l-3.6,-2.2M340.7,676.0l-3.6,-2.2M340.7,727.5l-3.6,-2.2M340.7,779.0l-3.6,-2.2M356.2,803.9l-4.1,1.0M387.1,822.7l-4.1,1.0M418.0,841.5l-4.1,1.0M449.2,860.5l-4.1,1.0M498.1,861.8l3.6,2.2M561.7,845.6l3.6,2.2M625.3,829.4l3.6,2.2" fill="none" stroke="#4a4a4a" stroke-width="1.2"/>
<path d="M340.5,743.0L578.0,685.2" stroke="#c00000" stroke-width="6.6" stroke-dasharray="7 6.3" fill="none"/>
<path d="M596.1,680.6L575.7,675.7L579.5,694.2Z" fill="#c00000"/>
<g filter="url(#rough)">
<path d="M511.7,647.2C513.6,646.1 516.4,647.6 518.9,648.0C521.4,648.4 524.2,648.6 526.9,649.5C529.5,650.5 532.2,652.3 534.8,653.5C537.5,654.7 540.7,655.5 542.8,656.7C544.9,657.9 546.3,659.0 547.6,660.7C548.9,662.4 550.1,664.8 550.8,667.1C551.4,669.4 552.0,671.9 551.6,674.3C551.2,676.7 549.2,678.9 548.4,681.4C547.6,684.0 547.2,686.2 546.8,689.4C546.4,692.6 546.7,696.9 546.0,700.6C545.3,704.3 544.1,707.8 542.8,711.7C541.5,715.7 539.9,720.5 538.0,724.5C536.2,728.5 534.0,732.0 531.6,735.7C529.3,739.4 526.3,743.4 523.7,746.8C521.0,750.3 518.6,753.5 515.7,756.4C512.8,759.3 509.6,762.3 506.1,764.4C502.7,766.5 498.9,768.0 495.0,769.2C491.0,770.4 486.7,771.1 482.2,771.6C477.7,772.0 472.4,772.3 467.8,772.0C463.3,771.8 458.8,771.0 455.1,770.0C451.4,769.0 448.0,767.7 445.5,766.0C443.0,764.2 441.3,762.0 439.9,759.6C438.6,757.2 437.8,754.0 437.5,751.6C437.3,749.2 437.5,747.0 438.3,745.2C439.1,743.5 440.1,742.1 442.3,741.3C444.6,740.4 448.2,740.2 451.9,740.1C455.6,740.1 460.4,740.4 464.7,740.8C468.9,741.1 473.2,741.9 477.4,742.4C481.7,742.9 487.1,744.8 490.2,743.6C493.2,742.5 494.4,738.6 495.8,735.7C497.1,732.7 497.4,729.8 498.1,726.1C498.9,722.4 499.9,717.6 500.5,713.3C501.2,709.1 501.9,704.8 502.1,700.6C502.4,696.3 501.9,692.1 502.1,687.8C502.4,683.6 503.2,679.1 503.7,675.1C504.3,671.1 504.7,667.4 505.3,663.9C506.0,660.4 506.7,657.1 507.7,654.3C508.8,651.5 509.8,648.2 511.7,647.2Z" fill="#4f9df1"/>
<g clip-path="url(#bc4)"><use href="#jf" transform="matrix(0.8614 0 0 0.9607 -375.28 521.14)"/></g>
<path d="M511.7,647.2C513.6,646.1 516.4,647.6 518.9,648.0C521.4,648.4 524.2,648.6 526.9,649.5C529.5,650.5 532.2,652.3 534.8,653.5C537.5,654.7 540.7,655.5 542.8,656.7C544.9,657.9 546.3,659.0 547.6,660.7C548.9,662.4 550.1,664.8 550.8,667.1C551.4,669.4 552.0,671.9 551.6,674.3C551.2,676.7 549.2,678.9 548.4,681.4C547.6,684.0 547.2,686.2 546.8,689.4C546.4,692.6 546.7,696.9 546.0,700.6C545.3,704.3 544.1,707.8 542.8,711.7C541.5,715.7 539.9,720.5 538.0,724.5C536.2,728.5 534.0,732.0 531.6,735.7C529.3,739.4 526.3,743.4 523.7,746.8C521.0,750.3 518.6,753.5 515.7,756.4C512.8,759.3 509.6,762.3 506.1,764.4C502.7,766.5 498.9,768.0 495.0,769.2C491.0,770.4 486.7,771.1 482.2,771.6C477.7,772.0 472.4,772.3 467.8,772.0C463.3,771.8 458.8,771.0 455.1,770.0C451.4,769.0 448.0,767.7 445.5,766.0C443.0,764.2 441.3,762.0 439.9,759.6C438.6,757.2 437.8,754.0 437.5,751.6C437.3,749.2 437.5,747.0 438.3,745.2C439.1,743.5 440.1,742.1 442.3,741.3C444.6,740.4 448.2,740.2 451.9,740.1C455.6,740.1 460.4,740.4 464.7,740.8C468.9,741.1 473.2,741.9 477.4,742.4C481.7,742.9 487.1,744.8 490.2,743.6C493.2,742.5 494.4,738.6 495.8,735.7C497.1,732.7 497.4,729.8 498.1,726.1C498.9,722.4 499.9,717.6 500.5,713.3C501.2,709.1 501.9,704.8 502.1,700.6C502.4,696.3 501.9,692.1 502.1,687.8C502.4,683.6 503.2,679.1 503.7,675.1C504.3,671.1 504.7,667.4 505.3,663.9C506.0,660.4 506.7,657.1 507.7,654.3C508.8,651.5 509.8,648.2 511.7,647.2Z" fill="none" stroke="#24579f" stroke-width="0.8" stroke-opacity="0.85"/>
</g>
<path d="M889.9,730.6C888.1,729.1 893.1,725.5 895.5,722.6C897.9,719.7 902.2,716.7 904.3,713.0C906.4,709.3 906.8,704.8 908.3,700.3C909.7,695.7 911.5,690.7 913.1,685.9C914.7,681.1 916.4,676.3 917.8,671.6C919.3,666.8 920.5,662.0 921.8,657.2C923.2,652.4 924.4,647.0 925.8,642.8C927.3,638.7 928.7,635.7 930.6,632.5C932.5,629.3 935.1,626.5 937.0,623.7C938.8,620.9 939.9,617.7 941.8,615.7C943.6,613.7 946.6,612.9 948.1,611.7C949.7,610.6 950.3,609.3 951.3,609.0C952.4,608.8 952.1,610.0 954.5,610.2C956.9,610.3 963.2,609.9 965.7,610.2C968.2,610.4 968.6,610.8 969.7,611.7C970.7,612.7 970.1,614.8 972.1,615.7C974.1,616.7 979.4,616.7 981.6,617.3C983.9,618.0 985.2,618.1 985.6,619.7C986.0,621.3 985.2,624.6 984.0,626.9C982.8,629.2 980.0,630.6 978.5,633.3C976.9,635.9 975.5,639.4 974.5,642.8C973.4,646.3 973.1,650.0 972.1,654.0C971.0,658.0 969.5,662.3 968.1,666.8C966.6,671.3 965.0,676.6 963.3,681.1C961.6,685.6 959.7,689.6 957.7,693.9C955.7,698.1 953.5,702.9 951.3,706.6C949.2,710.4 947.1,713.6 945.0,716.2C942.8,718.9 942.0,720.7 938.6,722.6C935.1,724.5 929.5,725.9 924.2,727.4C918.9,728.8 912.4,730.8 906.7,731.4C901.0,731.9 891.8,732.0 889.9,730.6Z" fill="#cbcbcb" filter="url(#rough2)" />
<path d="M1100.0,629.2C1101.3,628.0 1104.0,628.0 1105.2,629.2C1106.5,630.3 1106.2,633.3 1107.5,635.9C1108.7,638.5 1111.1,641.8 1112.7,644.8C1114.3,647.8 1115.7,650.8 1117.2,653.7C1118.7,656.7 1120.4,659.7 1121.6,662.7C1122.9,665.7 1123.9,668.4 1124.6,671.6C1125.4,674.9 1125.6,678.3 1126.1,682.1C1126.6,685.8 1127.2,690.3 1127.6,694.0C1128.0,697.7 1127.8,701.2 1128.3,704.4C1128.8,707.6 1130.3,709.9 1130.6,713.4C1130.8,716.8 1130.8,722.1 1129.8,725.3C1128.8,728.5 1126.2,730.5 1124.6,732.7C1123.0,735.0 1122.1,737.2 1120.1,738.7C1118.2,740.2 1115.4,741.6 1112.7,741.7C1110.0,741.8 1106.5,740.9 1103.7,739.4C1101.0,738.0 1098.5,735.1 1096.3,732.7C1094.1,730.4 1092.3,728.3 1090.3,725.3C1088.3,722.3 1086.0,717.8 1084.4,714.9C1082.8,711.9 1079.9,707.5 1080.6,707.4C1081.4,707.3 1086.1,712.1 1088.8,714.1C1091.6,716.1 1094.6,718.5 1097.0,719.3C1099.5,720.2 1101.6,720.1 1103.7,719.3C1105.9,718.6 1108.2,716.8 1109.7,714.9C1111.2,712.9 1111.9,710.6 1112.7,707.4C1113.4,704.2 1113.9,699.7 1114.2,695.5C1114.4,691.3 1114.4,686.3 1114.2,682.1C1113.9,677.8 1113.4,673.9 1112.7,670.1C1111.9,666.4 1111.0,663.1 1109.7,659.7C1108.5,656.4 1107.0,652.9 1105.2,650.0C1103.5,647.2 1101.4,644.7 1099.3,642.6C1097.2,640.5 1093.7,638.6 1092.6,637.4C1091.5,636.1 1091.7,635.4 1092.6,635.1C1093.4,634.9 1096.5,636.9 1097.8,635.9C1099.0,634.9 1098.8,630.3 1100.0,629.2Z" fill="#bcbcbc" filter="url(#rough2)" />
<path d="M1080.6,632.9C1081.5,632.4 1087.0,633.1 1088.1,633.6C1089.2,634.1 1088.2,635.4 1087.4,635.9C1086.5,636.4 1084.0,637.1 1082.9,636.6C1081.8,636.1 1079.8,633.4 1080.6,632.9Z" fill="#bcbcbc" filter="url(#rough2)" />
<path d="M943.2,812.5C943.7,811.0 946.4,808.5 950.0,807.5C953.6,806.5 958.3,806.5 965.0,806.2C971.7,806.0 982.5,806.0 990.0,806.2C997.5,806.5 1005.4,808.3 1010.0,807.5C1014.6,806.7 1014.6,803.1 1017.5,801.2C1020.4,799.4 1023.8,797.1 1027.5,796.2C1031.2,795.4 1035.8,795.6 1040.0,796.2C1044.2,796.9 1049.8,798.5 1052.5,800.0C1055.2,801.5 1056.2,803.1 1056.2,805.0C1056.2,806.9 1054.8,809.0 1052.5,811.2C1050.2,813.5 1046.2,816.0 1042.5,818.8C1038.8,821.5 1034.6,825.0 1030.0,827.5C1025.4,830.0 1020.0,832.9 1015.0,833.8C1010.0,834.6 1005.8,833.5 1000.0,832.5C994.2,831.5 986.7,829.4 980.0,827.5C973.3,825.6 965.4,823.1 960.0,821.2C954.6,819.4 950.3,817.7 947.5,816.2C944.7,814.8 942.8,814.0 943.2,812.5Z" fill="#cfcfcf" filter="url(#rough2)" />
<path d="M1016.2,791.2C1018.1,790.1 1027.9,787.8 1030.0,788.0C1032.1,788.2 1030.6,791.3 1028.8,792.5C1026.9,793.7 1020.8,795.2 1018.8,795.0C1016.7,794.8 1014.4,792.4 1016.2,791.2Z" fill="#cfcfcf" filter="url(#rough2)" />
<path d="M878.7,787.5V579.3M878.7,787.5l124.4,75.7M942.3,771.3V563.1M942.3,771.3l124.4,75.7M1005.9,755.1V546.9M1005.9,755.1l124.4,75.7M1052.4,756.6V548.4M861.2,805.3l191.2,-48.7M1083.3,775.4V567.2M892.1,824.1l191.2,-48.7M1114.2,794.2V586.0M923.0,842.9l191.2,-48.7M1145.4,813.2V605.0M954.2,861.9l191.2,-48.7M845.7,625.9l191.2,-48.7l124.4,75.7M845.7,677.4l191.2,-48.7l124.4,75.7M845.7,728.9l191.2,-48.7l124.4,75.7M845.7,780.4l191.2,-48.7l124.4,75.7" fill="none" stroke="#000" stroke-opacity="0.12" stroke-width="1"/>
<path d="M845.7,587.7V796.4" fill="none" stroke="#6a6a6a" stroke-width="1.7"/><path d="M845.7,795.9L970.1,871.6L1161.3,822.9M845.7,625.9l-3.6,-2.2M845.7,677.4l-3.6,-2.2M845.7,728.9l-3.6,-2.2M845.7,780.4l-3.6,-2.2M861.2,805.3l-4.1,1.0M892.1,824.1l-4.1,1.0M923.0,842.9l-4.1,1.0M954.2,861.9l-4.1,1.0M1003.1,863.2l3.6,2.2M1066.7,847.0l3.6,2.2M1130.3,830.8l3.6,2.2" fill="none" stroke="#4a4a4a" stroke-width="1.2"/>
<g filter="url(#rough)">
<path d="M1016.7,648.6C1018.6,647.5 1021.4,649.0 1023.9,649.4C1026.4,649.8 1029.2,650.0 1031.9,650.9C1034.5,651.9 1037.2,653.7 1039.8,654.9C1042.5,656.1 1045.7,656.9 1047.8,658.1C1049.9,659.3 1051.3,660.4 1052.6,662.1C1053.9,663.8 1055.1,666.2 1055.8,668.5C1056.4,670.8 1057.0,673.3 1056.6,675.7C1056.2,678.1 1054.2,680.3 1053.4,682.8C1052.6,685.4 1052.2,687.6 1051.8,690.8C1051.4,694.0 1051.7,698.3 1051.0,702.0C1050.3,705.7 1049.1,709.2 1047.8,713.1C1046.5,717.1 1044.9,721.9 1043.0,725.9C1041.2,729.9 1039.0,733.4 1036.6,737.1C1034.3,740.8 1031.3,744.8 1028.7,748.2C1026.0,751.7 1023.6,754.9 1020.7,757.8C1017.8,760.7 1014.6,763.7 1011.1,765.8C1007.7,767.9 1003.9,769.4 1000.0,770.6C996.0,771.8 991.7,772.5 987.2,773.0C982.7,773.4 977.4,773.7 972.8,773.4C968.3,773.2 963.8,772.4 960.1,771.4C956.4,770.4 953.0,769.1 950.5,767.4C948.0,765.6 946.3,763.4 944.9,761.0C943.6,758.6 942.8,755.4 942.5,753.0C942.3,750.6 942.5,748.4 943.3,746.6C944.1,744.9 945.1,743.5 947.3,742.7C949.6,741.8 953.2,741.6 956.9,741.5C960.6,741.5 965.4,741.8 969.7,742.2C973.9,742.5 978.2,743.3 982.4,743.8C986.7,744.3 992.1,746.2 995.2,745.0C998.2,743.9 999.4,740.0 1000.8,737.1C1002.1,734.1 1002.4,731.2 1003.1,727.5C1003.9,723.8 1004.9,719.0 1005.5,714.7C1006.2,710.5 1006.9,706.2 1007.1,702.0C1007.4,697.7 1006.9,693.5 1007.1,689.2C1007.4,685.0 1008.2,680.5 1008.7,676.5C1009.3,672.5 1009.7,668.8 1010.3,665.3C1011.0,661.8 1011.7,658.5 1012.7,655.7C1013.8,652.9 1014.8,649.6 1016.7,648.6Z" fill="#4f9df1"/>
<g clip-path="url(#bc5)"><use href="#jf" transform="matrix(0.8614 0 0 0.9607 129.72 522.54)"/></g>
<path d="M1016.7,648.6C1018.6,647.5 1021.4,649.0 1023.9,649.4C1026.4,649.8 1029.2,650.0 1031.9,650.9C1034.5,651.9 1037.2,653.7 1039.8,654.9C1042.5,656.1 1045.7,656.9 1047.8,658.1C1049.9,659.3 1051.3,660.4 1052.6,662.1C1053.9,663.8 1055.1,666.2 1055.8,668.5C1056.4,670.8 1057.0,673.3 1056.6,675.7C1056.2,678.1 1054.2,680.3 1053.4,682.8C1052.6,685.4 1052.2,687.6 1051.8,690.8C1051.4,694.0 1051.7,698.3 1051.0,702.0C1050.3,705.7 1049.1,709.2 1047.8,713.1C1046.5,717.1 1044.9,721.9 1043.0,725.9C1041.2,729.9 1039.0,733.4 1036.6,737.1C1034.3,740.8 1031.3,744.8 1028.7,748.2C1026.0,751.7 1023.6,754.9 1020.7,757.8C1017.8,760.7 1014.6,763.7 1011.1,765.8C1007.7,767.9 1003.9,769.4 1000.0,770.6C996.0,771.8 991.7,772.5 987.2,773.0C982.7,773.4 977.4,773.7 972.8,773.4C968.3,773.2 963.8,772.4 960.1,771.4C956.4,770.4 953.0,769.1 950.5,767.4C948.0,765.6 946.3,763.4 944.9,761.0C943.6,758.6 942.8,755.4 942.5,753.0C942.3,750.6 942.5,748.4 943.3,746.6C944.1,744.9 945.1,743.5 947.3,742.7C949.6,741.8 953.2,741.6 956.9,741.5C960.6,741.5 965.4,741.8 969.7,742.2C973.9,742.5 978.2,743.3 982.4,743.8C986.7,744.3 992.1,746.2 995.2,745.0C998.2,743.9 999.4,740.0 1000.8,737.1C1002.1,734.1 1002.4,731.2 1003.1,727.5C1003.9,723.8 1004.9,719.0 1005.5,714.7C1006.2,710.5 1006.9,706.2 1007.1,702.0C1007.4,697.7 1006.9,693.5 1007.1,689.2C1007.4,685.0 1008.2,680.5 1008.7,676.5C1009.3,672.5 1009.7,668.8 1010.3,665.3C1011.0,661.8 1011.7,658.5 1012.7,655.7C1013.8,652.9 1014.8,649.6 1016.7,648.6Z" fill="none" stroke="#24579f" stroke-width="0.8" stroke-opacity="0.85"/>
</g>
<path d="M1401.5,729.8C1402.2,728.3 1403.5,726.2 1405.5,723.4C1407.5,720.6 1411.4,716.9 1413.5,713.0C1415.6,709.2 1416.7,704.5 1418.3,700.3C1419.9,696.0 1421.7,691.8 1423.1,687.5C1424.4,683.3 1425.2,679.3 1426.3,674.7C1427.3,670.2 1428.5,665.2 1429.4,660.4C1430.4,655.6 1430.9,649.8 1431.8,646.0C1432.8,642.3 1433.4,641.0 1435.0,638.1C1436.6,635.1 1439.7,631.4 1441.4,628.5C1443.1,625.6 1443.7,622.8 1445.4,620.5C1447.1,618.3 1449.4,616.2 1451.8,614.9C1454.2,613.7 1457.1,613.1 1459.7,612.9C1462.4,612.6 1465.5,612.9 1467.7,613.3C1470.0,613.8 1471.4,614.8 1473.3,615.7C1475.2,616.7 1476.1,618.2 1478.9,618.9C1481.7,619.7 1488.1,619.5 1490.0,620.2C1492.0,620.9 1491.4,621.3 1490.8,622.9C1490.3,624.6 1488.3,627.6 1486.9,630.1C1485.4,632.6 1483.3,635.1 1482.1,638.1C1480.9,641.0 1480.3,644.2 1479.7,647.6C1479.0,651.1 1478.8,654.8 1478.1,658.8C1477.4,662.8 1476.5,667.3 1475.7,671.6C1474.9,675.8 1474.5,680.1 1473.3,684.3C1472.1,688.6 1470.2,693.1 1468.5,697.1C1466.8,701.1 1464.9,704.8 1462.9,708.2C1460.9,711.7 1458.7,714.9 1456.6,717.8C1454.4,720.7 1453.1,723.5 1450.2,725.8C1447.3,728.0 1443.0,729.6 1439.0,731.4C1435.0,733.1 1429.2,735.7 1426.3,736.1C1423.3,736.5 1425.6,734.4 1421.5,733.8C1417.3,733.1 1404.9,732.8 1401.5,732.2C1398.2,731.5 1400.9,731.2 1401.5,729.8Z" fill="#cbcbcb" filter="url(#rough2)" />
<path d="M1599.2,638.8C1599.9,638.1 1602.3,637.4 1604.4,637.4C1606.5,637.4 1609.7,638.0 1611.8,638.8C1613.9,639.7 1615.4,642.1 1617.0,642.6C1618.7,643.1 1620.8,643.1 1621.5,641.8C1622.3,640.6 1621.0,635.9 1621.5,635.1C1622.0,634.4 1623.4,636.7 1624.5,637.4C1625.6,638.0 1627.3,637.4 1628.2,638.8C1629.1,640.3 1628.7,643.6 1629.7,646.3C1630.7,649.0 1632.7,652.3 1634.2,655.2C1635.7,658.2 1637.2,661.2 1638.7,664.2C1640.1,667.2 1641.9,670.1 1643.1,673.1C1644.4,676.1 1645.4,678.8 1646.1,682.1C1646.8,685.3 1647.0,689.0 1647.6,692.5C1648.2,696.0 1649.5,699.5 1649.8,702.9C1650.2,706.4 1649.3,710.4 1649.8,713.4C1650.3,716.3 1652.6,717.8 1652.8,720.8C1653.1,723.8 1652.4,728.3 1651.3,731.2C1650.2,734.2 1647.0,736.5 1646.1,738.7C1645.2,740.9 1647.3,743.2 1646.1,744.7C1644.9,746.1 1641.4,746.8 1638.7,747.6C1635.9,748.5 1632.6,749.7 1629.7,749.9C1626.9,750.0 1623.3,749.7 1621.5,748.4C1619.8,747.0 1620.6,744.3 1619.3,741.7C1617.9,739.1 1615.3,736.0 1613.3,732.7C1611.3,729.5 1609.2,725.9 1607.4,722.3C1605.5,718.7 1601.6,711.6 1602.1,711.1C1602.6,710.6 1607.5,716.8 1610.3,719.3C1613.2,721.8 1616.5,724.7 1619.3,726.0C1622.0,727.4 1624.5,728.1 1626.7,727.5C1629.0,726.9 1631.1,724.7 1632.7,722.3C1634.3,719.9 1635.7,716.8 1636.4,713.4C1637.2,709.9 1637.0,705.4 1637.2,701.4C1637.3,697.5 1637.4,693.5 1637.2,689.5C1636.9,685.5 1636.4,681.3 1635.7,677.6C1634.9,673.9 1633.9,670.4 1632.7,667.2C1631.4,663.9 1630.0,661.1 1628.2,658.2C1626.5,655.4 1624.5,652.1 1622.3,650.0C1620.0,647.9 1617.3,646.9 1614.8,645.6C1612.3,644.2 1609.8,642.4 1607.4,641.8C1604.9,641.2 1601.3,642.3 1599.9,641.8C1598.5,641.3 1598.4,639.6 1599.2,638.8Z" fill="#bcbcbc" filter="url(#rough2)" />
<path d="M1461.2,820.0C1461.7,818.1 1465.6,815.2 1470.0,813.8C1474.4,812.3 1480.8,811.7 1487.5,811.2C1494.2,810.8 1503.3,811.0 1510.0,811.2C1516.7,811.5 1523.8,813.1 1527.5,812.5C1531.2,811.9 1532.5,809.6 1532.5,807.5C1532.5,805.4 1528.5,802.3 1527.5,800.0C1526.5,797.7 1524.6,795.0 1526.2,793.8C1527.9,792.5 1534.4,791.5 1537.5,792.5C1540.6,793.5 1542.5,797.7 1545.0,800.0C1547.5,802.3 1549.2,804.8 1552.5,806.2C1555.8,807.7 1561.9,807.3 1565.0,808.8C1568.1,810.2 1570.8,812.7 1571.2,815.0C1571.7,817.3 1569.8,820.2 1567.5,822.5C1565.2,824.8 1560.8,826.7 1557.5,828.8C1554.2,830.8 1551.2,833.1 1547.5,835.0C1543.8,836.9 1539.6,839.4 1535.0,840.0C1530.4,840.6 1525.8,839.8 1520.0,838.8C1514.2,837.7 1506.7,835.4 1500.0,833.8C1493.3,832.1 1485.4,830.2 1480.0,828.8C1474.6,827.3 1470.6,826.5 1467.5,825.0C1464.4,823.5 1460.8,821.9 1461.2,820.0Z" fill="#cfcfcf" filter="url(#rough2)" />
<path d="M1391.2,787.5V579.3M1391.2,787.5l124.4,75.7M1454.8,771.3V563.1M1454.8,771.3l124.4,75.7M1518.4,755.1V546.9M1518.4,755.1l124.4,75.7M1564.9,756.6V548.4M1373.7,805.3l191.2,-48.7M1595.8,775.4V567.2M1404.6,824.1l191.2,-48.7M1626.7,794.2V586.0M1435.5,842.9l191.2,-48.7M1657.9,813.2V605.0M1466.7,861.9l191.2,-48.7M1358.2,625.9l191.2,-48.7l124.4,75.7M1358.2,677.4l191.2,-48.7l124.4,75.7M1358.2,728.9l191.2,-48.7l124.4,75.7M1358.2,780.4l191.2,-48.7l124.4,75.7" fill="none" stroke="#000" stroke-opacity="0.12" stroke-width="1"/>
<path d="M1358.2,587.7V796.4" fill="none" stroke="#6a6a6a" stroke-width="1.7"/><path d="M1358.2,795.9L1482.6,871.6L1673.8,822.9M1358.2,625.9l-3.6,-2.2M1358.2,677.4l-3.6,-2.2M1358.2,728.9l-3.6,-2.2M1358.2,780.4l-3.6,-2.2M1373.7,805.3l-4.1,1.0M1404.6,824.1l-4.1,1.0M1435.5,842.9l-4.1,1.0M1466.7,861.9l-4.1,1.0M1515.6,863.2l3.6,2.2M1579.2,847.0l3.6,2.2M1642.8,830.8l3.6,2.2" fill="none" stroke="#4a4a4a" stroke-width="1.2"/>
<g filter="url(#rough)">
<path d="M1526.1,656.7C1528.0,655.3 1532.2,655.0 1535.7,655.2C1539.1,655.3 1543.4,656.3 1546.9,657.5C1550.3,658.7 1553.5,660.6 1556.4,662.3C1559.4,664.1 1562.3,665.8 1564.4,667.9C1566.5,670.0 1568.1,672.3 1569.2,675.1C1570.2,677.9 1570.6,681.2 1570.8,684.7C1570.9,688.1 1570.4,692.1 1570.0,695.8C1569.6,699.5 1568.8,703.3 1568.4,707.0C1568.0,710.7 1568.1,714.4 1567.6,718.1C1567.1,721.9 1566.3,725.6 1565.2,729.3C1564.1,733.0 1562.9,736.8 1561.2,740.5C1559.5,744.2 1557.2,748.3 1554.8,751.6C1552.4,755.0 1549.5,757.8 1546.9,760.4C1544.2,763.1 1541.8,765.3 1538.9,767.6C1536.0,769.9 1532.8,772.1 1529.3,774.0C1525.9,775.8 1521.9,777.6 1518.1,778.8C1514.4,779.9 1510.7,780.4 1507.0,780.7C1503.3,780.9 1499.8,780.9 1495.8,780.4C1491.8,779.8 1487.0,778.2 1483.1,777.2C1479.1,776.1 1475.1,775.3 1471.9,774.0C1468.7,772.6 1465.8,771.0 1463.9,769.2C1462.1,767.3 1461.1,765.2 1460.7,762.8C1460.3,760.4 1460.7,757.2 1461.5,754.8C1462.3,752.4 1463.8,750.0 1465.5,748.5C1467.2,746.9 1469.0,745.8 1471.9,745.3C1474.8,744.7 1479.3,744.7 1483.1,744.9C1486.8,745.2 1490.5,746.0 1494.2,746.9C1497.9,747.7 1502.1,749.5 1505.4,750.0C1508.7,750.6 1512.0,751.4 1514.2,750.0C1516.3,748.7 1517.1,745.5 1518.1,742.1C1519.2,738.6 1519.7,733.8 1520.5,729.3C1521.3,724.8 1522.5,719.7 1522.9,715.0C1523.3,710.2 1523.1,705.1 1522.9,700.6C1522.8,696.1 1522.1,692.1 1522.1,687.8C1522.1,683.6 1522.5,679.1 1522.9,675.1C1523.3,671.1 1524.0,667.0 1524.5,663.9C1525.1,660.9 1524.3,658.2 1526.1,656.7Z" fill="#4f9df1"/>
<g clip-path="url(#bc6)"><use href="#jf" transform="matrix(0.8313 0 0 0.9656 676.33 528.49)"/></g>
<path d="M1526.1,656.7C1528.0,655.3 1532.2,655.0 1535.7,655.2C1539.1,655.3 1543.4,656.3 1546.9,657.5C1550.3,658.7 1553.5,660.6 1556.4,662.3C1559.4,664.1 1562.3,665.8 1564.4,667.9C1566.5,670.0 1568.1,672.3 1569.2,675.1C1570.2,677.9 1570.6,681.2 1570.8,684.7C1570.9,688.1 1570.4,692.1 1570.0,695.8C1569.6,699.5 1568.8,703.3 1568.4,707.0C1568.0,710.7 1568.1,714.4 1567.6,718.1C1567.1,721.9 1566.3,725.6 1565.2,729.3C1564.1,733.0 1562.9,736.8 1561.2,740.5C1559.5,744.2 1557.2,748.3 1554.8,751.6C1552.4,755.0 1549.5,757.8 1546.9,760.4C1544.2,763.1 1541.8,765.3 1538.9,767.6C1536.0,769.9 1532.8,772.1 1529.3,774.0C1525.9,775.8 1521.9,777.6 1518.1,778.8C1514.4,779.9 1510.7,780.4 1507.0,780.7C1503.3,780.9 1499.8,780.9 1495.8,780.4C1491.8,779.8 1487.0,778.2 1483.1,777.2C1479.1,776.1 1475.1,775.3 1471.9,774.0C1468.7,772.6 1465.8,771.0 1463.9,769.2C1462.1,767.3 1461.1,765.2 1460.7,762.8C1460.3,760.4 1460.7,757.2 1461.5,754.8C1462.3,752.4 1463.8,750.0 1465.5,748.5C1467.2,746.9 1469.0,745.8 1471.9,745.3C1474.8,744.7 1479.3,744.7 1483.1,744.9C1486.8,745.2 1490.5,746.0 1494.2,746.9C1497.9,747.7 1502.1,749.5 1505.4,750.0C1508.7,750.6 1512.0,751.4 1514.2,750.0C1516.3,748.7 1517.1,745.5 1518.1,742.1C1519.2,738.6 1519.7,733.8 1520.5,729.3C1521.3,724.8 1522.5,719.7 1522.9,715.0C1523.3,710.2 1523.1,705.1 1522.9,700.6C1522.8,696.1 1522.1,692.1 1522.1,687.8C1522.1,683.6 1522.5,679.1 1522.9,675.1C1523.3,671.1 1524.0,667.0 1524.5,663.9C1525.1,660.9 1524.3,658.2 1526.1,656.7Z" fill="none" stroke="#24579f" stroke-width="0.8" stroke-opacity="0.85"/>
</g>
<g stroke="#000" stroke-width="0.3">
<text x="833.19" y="117.60" font-size="22.8" textLength="9.55" lengthAdjust="spacingAndGlyphs" >1</text>
<text x="828.59" y="170.50" font-size="22.8" textLength="14.31" lengthAdjust="spacingAndGlyphs" >0</text>
<text x="822.31" y="222.80" font-size="22.8" textLength="20.46" lengthAdjust="spacingAndGlyphs" >−1</text>
<text x="836.35" y="311.00" font-size="22.8" textLength="19.70" lengthAdjust="spacingAndGlyphs" >−1</text>
<text x="881.81" y="332.20" font-size="22.8" textLength="15.47" lengthAdjust="spacingAndGlyphs" >0</text>
<text x="911.40" y="354.00" font-size="22.8" textLength="8.77" lengthAdjust="spacingAndGlyphs" >1</text>
<text x="1004.00" y="379.60" font-size="22.8" textLength="41.35" lengthAdjust="spacingAndGlyphs" >−50</text>
<text x="1087.78" y="360.60" font-size="22.8" textLength="15.94" lengthAdjust="spacingAndGlyphs" >0</text>
<text x="1141.06" y="348.00" font-size="22.8" textLength="28.96" lengthAdjust="spacingAndGlyphs" >50</text>
<g transform="translate(792.80 212.30) rotate(-90)"><text x="1.56" y="0.00" font-size="27" textLength="85.65" lengthAdjust="spacingAndGlyphs" xml:space="preserve"><tspan font-style="italic">y</tspan> (mm)</text></g>
<text x="811.41" y="367.10" font-size="27" textLength="86.51" lengthAdjust="spacingAndGlyphs" xml:space="preserve"><tspan font-style="italic">x</tspan> (mm)</text>
<text x="1062.48" y="413.60" font-size="26.5" textLength="108.83" lengthAdjust="spacingAndGlyphs" >Time (fs)</text>
</g>
<g stroke="#000" stroke-width="0.3">
<text x="1270.97" y="123.80" font-size="22.8" textLength="9.67" lengthAdjust="spacingAndGlyphs" >1</text>
<text x="1265.31" y="177.00" font-size="22.8" textLength="15.59" lengthAdjust="spacingAndGlyphs" >0</text>
<text x="1260.11" y="228.50" font-size="22.8" textLength="20.57" lengthAdjust="spacingAndGlyphs" >−1</text>
<text x="1280.18" y="313.30" font-size="22.8" textLength="18.93" lengthAdjust="spacingAndGlyphs" >−1</text>
<text x="1319.41" y="334.50" font-size="22.8" textLength="15.59" lengthAdjust="spacingAndGlyphs" >0</text>
<text x="1349.00" y="356.60" font-size="22.8" textLength="8.77" lengthAdjust="spacingAndGlyphs" >1</text>
<text x="1442.63" y="381.30" font-size="22.8" textLength="40.30" lengthAdjust="spacingAndGlyphs" >−50</text>
<text x="1525.92" y="362.00" font-size="22.8" textLength="15.36" lengthAdjust="spacingAndGlyphs" >0</text>
<text x="1578.93" y="350.00" font-size="22.8" textLength="29.61" lengthAdjust="spacingAndGlyphs" >50</text>
<g transform="translate(1239.20 213.00) rotate(-90)"><text x="1.53" y="0.00" font-size="27" textLength="84.15" lengthAdjust="spacingAndGlyphs" xml:space="preserve"><tspan font-style="italic">y</tspan> (mm)</text></g>
<text x="1250.20" y="368.90" font-size="27" textLength="85.71" lengthAdjust="spacingAndGlyphs" xml:space="preserve"><tspan font-style="italic">x</tspan> (mm)</text>
<text x="1500.68" y="416.30" font-size="26.5" textLength="109.04" lengthAdjust="spacingAndGlyphs" >Time (fs)</text>
</g>
<text x="470.24" y="528.80" font-size="27.6" textLength="60.36" lengthAdjust="spacingAndGlyphs" >t = 0</text>
<text x="314.29" y="624.70" font-size="22.5" >1</text>
<text x="316.12" y="678.70" font-size="22.5" >0</text>
<text x="306.90" y="731.50" font-size="22.5" >-1</text>
<text x="317.60" y="816.30" font-size="22.5" >-1</text>
<text x="358.62" y="838.60" font-size="22.5" >0</text>
<text x="391.99" y="860.50" font-size="22.5" >1</text>
<g transform="translate(284.30 718.30) rotate(-90)">
<text x="-0.06" y="0.00" font-size="23.3" >y (mm)</text>
</g>
<text x="291.74" y="873.75" font-size="23.3" >x (mm)</text>
<text x="488.50" y="887.20" font-size="22.5" >-20</text>
<text x="571.72" y="867.30" font-size="22.5" >0</text>
<text x="625.67" y="853.70" font-size="22.5" >20</text>
<text x="566.06" y="896.30" font-size="23.3" >z (μm)</text>
<text x="953.74" y="528.80" font-size="27.6" textLength="108.25" lengthAdjust="spacingAndGlyphs" >t = 67 fs</text>
<text x="819.29" y="626.10" font-size="22.5" >1</text>
<text x="821.12" y="680.10" font-size="22.5" >0</text>
<text x="811.90" y="732.90" font-size="22.5" >-1</text>
<text x="822.60" y="817.70" font-size="22.5" >-1</text>
<text x="863.62" y="840.00" font-size="22.5" >0</text>
<text x="896.99" y="861.90" font-size="22.5" >1</text>
<g transform="translate(789.30 719.70) rotate(-90)">
<text x="-0.06" y="0.00" font-size="23.3" >y (mm)</text>
</g>
<text x="796.74" y="875.15" font-size="23.3" >x (mm)</text>
<text x="1004.72" y="887.50" font-size="22.5" >0</text>
<text x="1070.67" y="868.00" font-size="22.5" >20</text>
<text x="1132.08" y="855.00" font-size="22.5" >40</text>
<text x="1072.36" y="897.50" font-size="23.3" >z (μm)</text>
<text x="1457.05" y="528.80" font-size="27.6" textLength="131.53" lengthAdjust="spacingAndGlyphs" >t = 167 ps</text>
<text x="1331.79" y="626.10" font-size="22.5" >1</text>
<text x="1333.62" y="680.10" font-size="22.5" >0</text>
<text x="1324.40" y="732.90" font-size="22.5" >-1</text>
<text x="1335.10" y="817.70" font-size="22.5" >-1</text>
<text x="1376.12" y="840.00" font-size="22.5" >0</text>
<text x="1409.49" y="861.90" font-size="22.5" >1</text>
<g transform="translate(1301.80 719.70) rotate(-90)">
<text x="-0.06" y="0.00" font-size="23.3" >y (mm)</text>
</g>
<text x="1309.24" y="875.15" font-size="23.3" >x (mm)</text>
<text x="1483.28" y="887.50" font-size="22.5" >4.998</text>
<text x="1582.40" y="868.00" font-size="22.5" >5</text>
<text x="1633.70" y="855.00" font-size="22.5" >5.002</text>
<text x="1585.36" y="897.50" font-size="23.3" >z (cm)</text>
</svg>
</body></html>
